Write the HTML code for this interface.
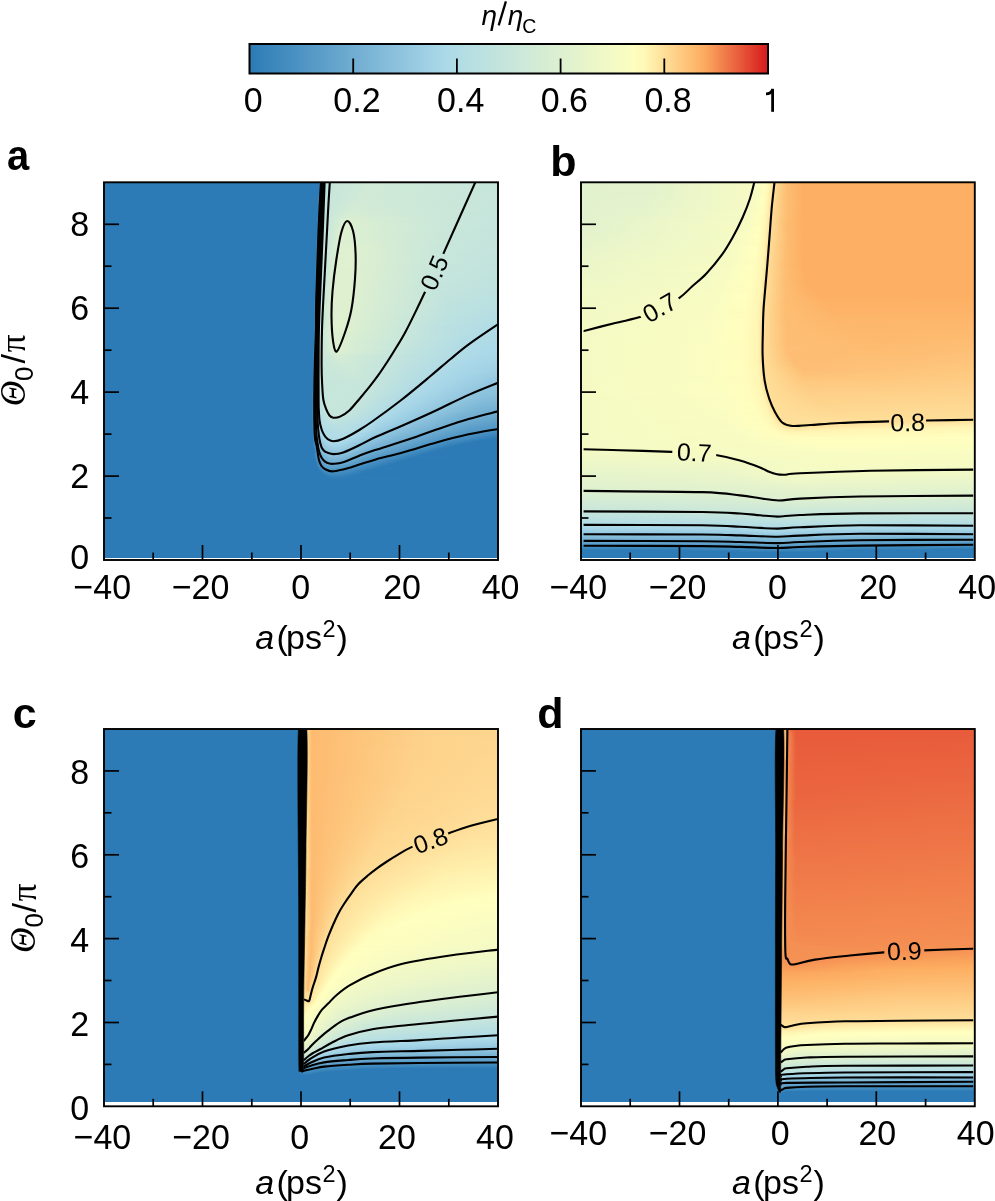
<!DOCTYPE html>
<html><head><meta charset="utf-8"><style>
html,body{margin:0;padding:0;background:#fff;width:995px;height:1201px;overflow:hidden;position:relative}
svg{display:block;position:absolute;left:0;top:0;will-change:transform}
.fld{position:absolute;overflow:hidden}
.fld i{display:block;height:1px}
svg{font-family:"Liberation Sans",sans-serif;font-size:34px;fill:#000}
</style></head><body>
<div class="fld" style="left:104px;top:183px;width:394px;height:375px"><i style="background:linear-gradient(90deg,#2c7bb6,#2c7bb6 215px,#4e94c4 216px,#64a5cd 217px,#70add1 218px,#92c6df 219px,#b1dce6 220px,#c7e6db 225px,#d0ead6 266px,#c7e6db 380px,#c7e6db)"></i><i style="background:linear-gradient(90deg,#2c7bb6,#2c7bb6 215px,#70add1 217px,#70add1 218px,#92c6df 219px,#b1dce6 220px,#c7e6db 225px,#d0ead6 266px,#c7e6db 380px,#c7e6db)"></i><i style="background:linear-gradient(90deg,#2c7bb6,#2c7bb6 215px,#70add1 217px,#7cb6d6 218px,#92c6df 219px,#b1dce6 220px,#c7e6db 225px,#d0ead6 266px,#c7e6db 380px,#c7e6db)"></i><i style="height:2px;background:linear-gradient(90deg,#2c7bb6,#2c7bb6 215px,#70add1 217px,#92c6df 219px,#b1dce6 220px,#c7e6db 225px,#d0ead6 266px,#c7e6db 380px,#c7e6db)"></i><i style="background:linear-gradient(90deg,#2c7bb6,#2c7bb6 215px,#70add1 217px,#85bdda 218px,#92c6df 219px,#b1dce6 220px,#c7e6db 225px,#d0ead6 266px,#c7e6db 380px,#c7e6db)"></i><i style="background:linear-gradient(90deg,#2c7bb6,#2c7bb6 215px,#92c6df 218px,#92c6df 219px,#b1dce6 220px,#c7e6db 225px,#d1ead6 266px,#c7e6db 380px,#c7e6db)"></i><i style="background:linear-gradient(90deg,#2c7bb6,#2c7bb6 215px,#92c6df 218px,#9ecfe4 219px,#b1dce6 220px,#c7e6db 225px,#d1ead6 266px,#c7e6db 380px,#c7e6db)"></i><i style="background:linear-gradient(90deg,#2c7bb6,#2c7bb6 215px,#92c6df 218px,#a1d2e5 219px,#b1dce6 220px,#c7e6db 225px,#d1ead6 266px,#c7e6db 380px,#c7e6db)"></i><i style="background:linear-gradient(90deg,#2c7bb6,#2c7bb6 215px,#92c6df 218px,#a2d2e5 219px,#b1dce6 220px,#c7e6db 225px,#d1ead6 262px,#c7e6db 390px,#c7e6db)"></i><i style="background:linear-gradient(90deg,#2c7bb6,#2c7bb6 215px,#92c6df 218px,#a2d3e6 219px,#b1dce6 220px,#c7e6db 225px,#d1ead6 262px,#c7e6db 390px,#c7e5db)"></i><i style="background:linear-gradient(90deg,#2c7bb6,#2c7bb6 215px,#92c6df 218px,#a3d3e6 219px,#b1dce6 220px,#c7e6db 225px,#d1ead6 262px,#c7e5db 390px,#c7e5db)"></i><i style="background:linear-gradient(90deg,#2c7bb6,#2c7bb6 214px,#3984bb 215px,#4e94c4 216px,#92c6df 218px,#a3d3e6 219px,#b1dce6 220px,#c7e6db 224px,#d1ead6 261px,#c7e5db 389px,#c7e5db)"></i><i style="background:linear-gradient(90deg,#2c7bb6,#2c7bb6 214px,#4e94c4 216px,#92c6df 218px,#a3d3e6 219px,#b1dce6 220px,#c7e6db 224px,#d1ead6 261px,#c7e5db 389px,#c7e5db)"></i><i style="background:linear-gradient(90deg,#2c7bb6,#2c7bb6 214px,#418bbe 215px,#4e94c4 216px,#92c6df 218px,#a4d4e6 219px,#b1dce6 220px,#c7e6db 224px,#d1ead6 261px,#c7e5db 389px,#c7e5db)"></i><i style="background:linear-gradient(90deg,#2c7bb6,#2c7bb6 214px,#4e94c4 215px,#4e94c4 216px,#92c6df 218px,#a7d6e7 219px,#bce1e0 222px,#c7e6db 224px,#d1ead6 261px,#c7e5db 389px,#c7e5db)"></i><i style="background:linear-gradient(90deg,#2c7bb6,#2c7bb6 214px,#4e94c4 215px,#5a9dc9 216px,#70add1 217px,#92c6df 218px,#b1dce6 219px,#c7e6db 224px,#d1ead6 257px,#c7e5db 385px,#c7e5db)"></i><i style="background:linear-gradient(90deg,#2c7bb6,#2c7bb6 214px,#4e94c4 215px,#70add1 217px,#92c6df 218px,#b1dce6 219px,#c7e6db 224px,#d1ead6 257px,#c7e5db 385px,#c7e5db)"></i><i style="background:linear-gradient(90deg,#2c7bb6,#2c7bb6 214px,#4e94c4 215px,#70add1 217px,#92c6df 218px,#b1dce6 219px,#c7e6db 224px,#d2ead6 257px,#c7e5db 385px,#c7e5db)"></i><i style="height:2px;background:linear-gradient(90deg,#2c7bb6,#2c7bb6 214px,#4e94c4 215px,#70add1 217px,#92c6df 218px,#b1dce6 219px,#c7e6db 224px,#d2ebd6 254px,#c7e5db 382px,#c6e5db)"></i><i style="background:linear-gradient(90deg,#2c7bb6,#2c7bb6 214px,#4e94c4 215px,#70add1 217px,#92c6df 218px,#b1dce6 219px,#c7e6db 224px,#d2ebd5 254px,#c7e5db 382px,#c6e5db)"></i><i style="background:linear-gradient(90deg,#2c7bb6,#2c7bb6 214px,#4e94c4 215px,#63a4cc 216px,#70add1 217px,#92c6df 218px,#b1dce6 219px,#c7e6db 224px,#d2ebd5 251px,#c7e5db 379px,#c6e5db)"></i><i style="background:linear-gradient(90deg,#2c7bb6,#2c7bb6 214px,#70add1 216px,#70add1 217px,#92c6df 218px,#b1dce6 219px,#c7e6db 224px,#d3ebd5 251px,#c7e5db 379px,#c6e5db)"></i><i style="background:linear-gradient(90deg,#2c7bb6,#2c7bb6 214px,#70add1 216px,#7cb6d6 217px,#92c6df 218px,#b1dce6 219px,#c7e6db 224px,#d3ebd5 251px,#c6e5db 379px,#c6e5db)"></i><i style="height:2px;background:linear-gradient(90deg,#2c7bb6,#2c7bb6 214px,#70add1 216px,#92c6df 218px,#b1dce6 219px,#c7e6db 224px,#d3ebd5 248px,#c6e5db 392px,#c6e5db)"></i><i style="background:linear-gradient(90deg,#2c7bb6,#2c7bb6 214px,#70add1 216px,#92c6df 218px,#b1dce6 219px,#c7e6db 224px,#d4ecd5 248px,#c6e5db 392px,#c6e5db)"></i><i style="background:linear-gradient(90deg,#2c7bb6,#2c7bb6 214px,#70add1 216px,#92c6df 218px,#b1dce6 219px,#c7e6db 224px,#d4ecd4 246px,#c6e5db 390px,#c6e5db)"></i><i style="background:linear-gradient(90deg,#2c7bb6,#2c7bb6 214px,#70add1 216px,#92c6df 218px,#b1dce6 219px,#c7e6db 223px,#d5ecd4 247px,#c6e5db 375px,#c6e5db)"></i><i style="background:linear-gradient(90deg,#2c7bb6,#2c7bb6 214px,#70add1 216px,#92c6df 218px,#b1dce6 219px,#c7e6db 223px,#d5ecd4 245px,#c6e5db 373px,#c6e5db)"></i><i style="background:linear-gradient(90deg,#2c7bb6,#2c7bb6 214px,#70add1 216px,#85bdda 217px,#92c6df 218px,#b1dce6 219px,#c7e6db 223px,#d6ecd4 245px,#c6e5db 373px,#c6e5db)"></i><i style="background:linear-gradient(90deg,#2c7bb6,#2c7bb6 214px,#92c6df 217px,#92c6df 218px,#b1dce6 219px,#c7e6db 223px,#d7edd3 245px,#c6e5db 373px,#c6e5db)"></i><i style="background:linear-gradient(90deg,#2c7bb6,#2c7bb6 214px,#92c6df 217px,#9ecfe4 218px,#b1dce6 219px,#c7e6db 223px,#d8edd3 245px,#c6e5db 373px,#c6e5db)"></i><i style="background:linear-gradient(90deg,#2c7bb6,#2c7bb6 213px,#3a85bb 214px,#4e94c4 215px,#92c6df 217px,#a1d2e5 218px,#b1dce6 219px,#c7e6db 223px,#d8eed2 243px,#c6e5db 371px,#c6e5db)"></i><i style="background:linear-gradient(90deg,#2c7bb6,#2c7bb6 213px,#408abe 214px,#4e94c4 215px,#92c6df 217px,#a2d2e5 218px,#b1dce6 219px,#c7e6db 223px,#daeed2 243px,#c6e5db 371px,#c6e5dc)"></i><i style="background:linear-gradient(90deg,#2c7bb6,#2c7bb6 213px,#4e94c4 214px,#4e94c4 215px,#92c6df 217px,#a2d3e6 218px,#b1dce6 219px,#c7e6db 223px,#dbefd1 243px,#c7e6db 357px,#c6e5dc 390px,#c6e5dc)"></i><i style="background:linear-gradient(90deg,#2c7bb6,#2c7bb6 213px,#4e94c4 214px,#5a9dc9 215px,#70add1 216px,#92c6df 217px,#a3d3e6 218px,#b1dce6 219px,#c7e6db 223px,#ddf0d0 243px,#d1ead6 289px,#c6e5db 380px,#c6e5dc)"></i><i style="background:linear-gradient(90deg,#2c7bb6,#2c7bb6 213px,#4e94c4 214px,#70add1 216px,#92c6df 217px,#a3d3e6 218px,#b1dce6 219px,#c7e6db 223px,#ddf0d0 243px,#cfe9d7 300px,#c6e5dc 381px,#c6e5dc)"></i><i style="background:linear-gradient(90deg,#2c7bb6,#2c7bb6 213px,#4e94c4 214px,#70add1 216px,#92c6df 217px,#a3d3e6 218px,#b1dce6 219px,#c7e6db 223px,#ddf0d0 241px,#cbe8d9 322px,#c6e5dc 386px,#c6e5dc)"></i><i style="height:2px;background:linear-gradient(90deg,#2c7bb6,#2c7bb6 213px,#4e94c4 214px,#70add1 216px,#92c6df 217px,#a3d3e6 218px,#b1dce6 219px,#c7e6db 223px,#ddf0d0 241px,#cae7da 332px,#c6e5dc 389px,#c6e5dc)"></i><i style="background:linear-gradient(90deg,#2c7bb6,#2c7bb6 213px,#4e94c4 214px,#70add1 216px,#92c6df 217px,#a4d4e6 218px,#b1dce6 219px,#c7e6db 223px,#ddf0d0 241px,#c8e6da 343px,#c6e5dc 389px,#c6e5dc)"></i><i style="background:linear-gradient(90deg,#2c7bb6,#2c7bb6 213px,#4e94c4 214px,#70add1 216px,#92c6df 217px,#a7d6e7 218px,#bde1e0 221px,#c7e6db 223px,#ddf0d0 239px,#c7e6db 353px,#c6e5dc 390px,#c6e5dc)"></i><i style="background:linear-gradient(90deg,#2c7bb6,#2c7bb6 213px,#4e94c4 214px,#70add1 216px,#92c6df 217px,#b1dce6 218px,#c8e6da 224px,#ddf0d0 239px,#c7e6db 353px,#c6e5dc 390px,#c6e5dc)"></i><i style="background:linear-gradient(90deg,#2c7bb6,#2c7bb6 213px,#4e94c4 214px,#70add1 216px,#92c6df 217px,#b1dce6 218px,#c9e6da 224px,#ddf0d0 239px,#c7e6db 353px,#c6e5dc 390px,#c6e5dc)"></i><i style="background:linear-gradient(90deg,#2c7bb6,#2c7bb6 213px,#4e94c4 214px,#63a4cc 215px,#70add1 216px,#92c6df 217px,#b1dce6 218px,#c9e6da 224px,#ddf0d0 239px,#c7e6db 353px,#c5e5dc 390px,#c5e5dc)"></i><i style="background:linear-gradient(90deg,#2c7bb6,#2c7bb6 213px,#70add1 215px,#70add1 216px,#92c6df 217px,#b1dce6 218px,#c7e6db 223px,#ddf0d0 238px,#d9eed2 260px,#c6e5db 362px,#c5e5dc 392px,#c5e5dc)"></i><i style="background:linear-gradient(90deg,#2c7bb6,#2c7bb6 213px,#70add1 215px,#7cb6d6 216px,#92c6df 217px,#b1dce6 218px,#c7e6db 222px,#ddf0d0 238px,#d8edd2 262px,#c6e5db 364px,#c5e5dc 391px,#c5e5dc)"></i><i style="background:linear-gradient(90deg,#2c7bb6,#2c7bb6 213px,#70add1 215px,#92c6df 217px,#b1dce6 218px,#c7e6db 222px,#ddf0d0 238px,#d7edd3 265px,#c6e5db 356px,#c5e5dc)"></i><i style="background:linear-gradient(90deg,#2c7bb6,#2c7bb6 213px,#70add1 215px,#92c6df 217px,#b1dce6 218px,#c7e6db 222px,#ddf0d0 237px,#d9eed2 261px,#c7e6db 352px,#c5e5dc)"></i><i style="background:linear-gradient(90deg,#2c7bb6,#2c7bb6 213px,#70add1 215px,#92c6df 217px,#b1dce6 218px,#c7e6db 222px,#ddf0d0 237px,#d8edd3 264px,#c6e5db 355px,#c5e5dc 392px,#c5e5dc)"></i><i style="background:linear-gradient(90deg,#2c7bb6,#2c7bb6 213px,#70add1 215px,#92c6df 217px,#b1dce6 218px,#c7e6db 222px,#ddf0d0 237px,#d9eed2 261px,#c7e6db 352px,#c5e5dc)"></i><i style="background:linear-gradient(90deg,#2c7bb6,#2c7bb6 213px,#70add1 215px,#92c6df 217px,#b1dce6 218px,#c7e6db 222px,#ddf0d0 237px,#d9eed2 261px,#c7e5db 352px,#c5e5dc)"></i><i style="background:linear-gradient(90deg,#2c7bb6,#2c7bb6 213px,#70add1 215px,#92c6df 217px,#b1dce6 218px,#c7e6db 222px,#def0d0 237px,#d8edd2 264px,#c6e5db 355px,#c5e5dc 392px,#c5e5dc)"></i><i style="background:linear-gradient(90deg,#2c7bb6,#2c7bb6 213px,#70add1 215px,#92c6df 217px,#b1dce6 218px,#c7e6db 222px,#ddf0d0 236px,#d9eed2 263px,#c6e5db 354px,#c5e5dc 391px,#c5e5dc)"></i><i style="background:linear-gradient(90deg,#2c7bb6,#2c7bb6 213px,#70add1 215px,#85bdda 216px,#92c6df 217px,#b1dce6 218px,#c7e6db 222px,#def0d0 236px,#d9eed2 263px,#c6e5db 354px,#c5e5dc 391px,#c5e5dc)"></i><i style="background:linear-gradient(90deg,#2c7bb6,#2c7bb6 212px,#3884bb 213px,#4e94c4 214px,#92c6df 216px,#92c6df 217px,#b1dce6 218px,#c7e6db 222px,#def0d0 236px,#d9eed2 263px,#c6e5db 354px,#c5e5dc 391px,#c5e5dc)"></i><i style="background:linear-gradient(90deg,#2c7bb6,#2c7bb6 212px,#4e94c4 214px,#92c6df 216px,#9ecfe4 217px,#b1dce6 218px,#c7e6db 222px,#def0d0 236px,#d8edd3 266px,#c6e5dc 357px,#c5e5dc 390px,#c5e5dc)"></i><i style="background:linear-gradient(90deg,#2c7bb6,#2c7bb6 212px,#4e94c4 214px,#92c6df 216px,#a1d2e5 217px,#b1dce6 218px,#c7e6db 222px,#def0d0 236px,#d8edd3 266px,#c6e5dc 357px,#c5e5dc 390px,#c5e5dc)"></i><i style="background:linear-gradient(90deg,#2c7bb6,#2c7bb6 212px,#4e94c4 214px,#92c6df 216px,#a2d2e5 217px,#b1dce6 218px,#c7e6db 222px,#ddf0d0 235px,#dbefd1 257px,#c7e5db 348px,#c4e5dc 389px,#c4e5dc)"></i><i style="background:linear-gradient(90deg,#2c7bb6,#2c7bb6 212px,#418bbf 213px,#4e94c4 214px,#92c6df 216px,#a2d3e6 217px,#b1dce6 218px,#c7e6db 222px,#def0d0 235px,#ddefd0 253px,#c7e6db 344px,#c4e4dc 390px,#c4e4dc)"></i><i style="background:linear-gradient(90deg,#2c7bb6,#2c7bb6 212px,#4e94c4 213px,#4e94c4 214px,#92c6df 216px,#a3d3e6 217px,#b1dce6 218px,#c7e6db 222px,#def0d0 235px,#dff0cf 245px,#c8e6da 336px,#c4e4dc)"></i><i style="background:linear-gradient(90deg,#2c7bb6,#2c7bb6 212px,#4e94c4 213px,#5a9dc9 214px,#70add1 215px,#92c6df 216px,#a3d3e6 217px,#b1dce6 218px,#c7e6db 222px,#def0d0 235px,#dff0cf 246px,#c8e6db 337px,#c4e4dc 388px,#c4e4dc)"></i><i style="background:linear-gradient(90deg,#2c7bb6,#2c7bb6 212px,#4e94c4 213px,#70add1 215px,#92c6df 216px,#a3d3e6 217px,#b1dce6 218px,#c7e6db 222px,#def0d0 235px,#dff0cf 246px,#c8e6db 337px,#c4e4dc 388px,#c4e4dc)"></i><i style="background:linear-gradient(90deg,#2c7bb6,#2c7bb6 212px,#4e94c4 213px,#70add1 215px,#92c6df 216px,#a4d4e6 217px,#b1dce6 218px,#c7e6db 222px,#def0d0 235px,#dff0cf 246px,#c8e6db 337px,#c4e4dc 388px,#c4e4dd)"></i><i style="background:linear-gradient(90deg,#2c7bb6,#2c7bb6 212px,#4e94c4 213px,#70add1 215px,#92c6df 216px,#a7d6e7 217px,#c3e4dd 221px,#def0d0 234px,#dff0cf 246px,#c8e6db 337px,#c4e4dd 388px,#c4e4dd)"></i><i style="background:linear-gradient(90deg,#2c7bb6,#2c7bb6 212px,#4e94c4 213px,#70add1 215px,#92c6df 216px,#b1dce6 217px,#b1dce6 218px,#c7e6db 221px,#def0d0 234px,#dff1cf 246px,#c8e6db 337px,#c4e4dd 388px,#c4e4dd)"></i><i style="background:linear-gradient(90deg,#2c7bb6,#2c7bb6 212px,#4e94c4 213px,#70add1 215px,#92c6df 216px,#b1dce6 217px,#c7e6db 221px,#def0d0 234px,#dff1cf 246px,#c7e6db 337px,#c4e4dd 388px,#c4e4dd)"></i><i style="background:linear-gradient(90deg,#2c7bb6,#2c7bb6 212px,#4e94c4 213px,#70add1 215px,#92c6df 216px,#b1dce6 217px,#c7e6db 221px,#def0d0 234px,#dff0cf 247px,#c7e6db 338px,#c4e4dd 389px,#c4e4dd)"></i><i style="background:linear-gradient(90deg,#2c7bb6,#2c7bb6 212px,#4e94c4 213px,#70add1 215px,#92c6df 216px,#b1dce6 217px,#c7e6db 221px,#def0d0 234px,#dff0cf 247px,#c7e6db 338px,#c4e4dd 389px,#c3e4dd)"></i><i style="background:linear-gradient(90deg,#2c7bb6,#2c7bb6 212px,#4e94c4 213px,#70add1 215px,#92c6df 216px,#b1dce6 217px,#c7e6db 221px,#def0d0 234px,#dff0cf 247px,#c7e6db 338px,#c3e4dd 389px,#c3e4dd)"></i><i style="background:linear-gradient(90deg,#2c7bb6,#2c7bb6 212px,#4e94c4 213px,#63a4cc 214px,#70add1 215px,#92c6df 216px,#b1dce6 217px,#c7e6db 221px,#ddf0d0 233px,#dff1cf 246px,#c7e6db 337px,#c3e4dd 388px,#c3e4dd)"></i><i style="background:linear-gradient(90deg,#2c7bb6,#2c7bb6 212px,#70add1 214px,#70add1 215px,#92c6df 216px,#b1dce6 217px,#c7e6db 221px,#def0d0 233px,#dff1cf 246px,#c7e6db 337px,#c3e4dd 388px,#c3e4dd)"></i><i style="background:linear-gradient(90deg,#2c7bb6,#2c7bb6 212px,#70add1 214px,#7cb6d6 215px,#92c6df 216px,#b1dce6 217px,#c7e6db 221px,#def0d0 233px,#dff0cf 247px,#c7e6db 338px,#c3e4dd 389px,#c3e4dd)"></i><i style="background:linear-gradient(90deg,#2c7bb6,#2c7bb6 212px,#70add1 214px,#92c6df 216px,#b1dce6 217px,#c7e6db 221px,#def0d0 233px,#dff0cf 247px,#c7e6db 338px,#c3e4dd 389px,#c3e4dd)"></i><i style="height:2px;background:linear-gradient(90deg,#2c7bb6,#2c7bb6 212px,#70add1 214px,#92c6df 216px,#b1dce6 217px,#c7e6db 221px,#def0d0 233px,#dff1cf 246px,#c7e6db 337px,#c3e4dd 388px,#c3e4dd)"></i><i style="background:linear-gradient(90deg,#2c7bb6,#2c7bb6 212px,#70add1 214px,#92c6df 216px,#b1dce6 217px,#c7e6db 221px,#def0d0 233px,#dff0cf 247px,#c7e6db 338px,#c3e4dd 389px,#c3e4dd)"></i><i style="height:2px;background:linear-gradient(90deg,#2c7bb6,#2c7bb6 212px,#70add1 214px,#92c6df 216px,#b1dce6 217px,#c7e6db 221px,#def0d0 232px,#dff1cf 246px,#c7e6db 337px,#c2e4dd 388px,#c2e4dd)"></i><i style="background:linear-gradient(90deg,#2c7bb6,#2c7bb6 212px,#70add1 214px,#85bdda 215px,#92c6df 216px,#b1dce6 217px,#c7e6db 221px,#def0d0 232px,#dff1cf 246px,#c7e5db 337px,#c2e3dd 388px,#c2e3dd)"></i><i style="background:linear-gradient(90deg,#2c7bb6,#2c7bb6 211px,#3884bb 212px,#4e94c4 213px,#92c6df 215px,#9ecfe4 216px,#b1dce6 217px,#c7e6db 221px,#def0d0 232px,#dff1cf 246px,#c6e5db 337px,#c2e3dd 388px,#c2e3de)"></i><i style="background:linear-gradient(90deg,#2c7bb6,#2c7bb6 211px,#4e94c4 213px,#92c6df 215px,#a1d2e5 216px,#b1dce6 217px,#c7e6db 221px,#def0d0 232px,#dff0cf 246px,#c6e5db 337px,#c2e3de 388px,#c2e3de)"></i><i style="background:linear-gradient(90deg,#2c7bb6,#2c7bb6 211px,#4e94c4 213px,#92c6df 215px,#a2d2e5 216px,#b1dce6 217px,#c7e6db 221px,#def0d0 232px,#dff0cf 246px,#c6e5db 337px,#c2e3de 388px,#c2e3de)"></i><i style="background:linear-gradient(90deg,#2c7bb6,#2c7bb6 211px,#4e94c4 213px,#92c6df 215px,#a2d3e6 216px,#b1dce6 217px,#c7e6db 220px,#def0d0 232px,#dff0cf 246px,#c6e5db 337px,#c2e3de 388px,#c2e3de)"></i><i style="background:linear-gradient(90deg,#2c7bb6,#2c7bb6 211px,#4e94c4 213px,#92c6df 215px,#a3d3e6 216px,#b1dce6 217px,#c7e6db 220px,#ddf0d0 231px,#dff0cf 246px,#c6e5db 337px,#c1e3de 388px,#c1e3de)"></i><i style="background:linear-gradient(90deg,#2c7bb6,#2c7bb6 211px,#4e94c4 213px,#92c6df 215px,#a3d3e6 216px,#b1dce6 217px,#c7e6db 220px,#def0d0 231px,#dff0cf 246px,#c6e5db 337px,#c1e3de 388px,#c1e3de)"></i><i style="background:linear-gradient(90deg,#2c7bb6,#2c7bb6 211px,#4e94c4 213px,#92c6df 215px,#a4d4e6 216px,#b1dce6 217px,#c7e6db 220px,#def0d0 231px,#dff0cf 246px,#c6e5dc 337px,#c1e3de 388px,#c1e3de)"></i><i style="background:linear-gradient(90deg,#2c7bb6,#2c7bb6 211px,#4e94c4 213px,#92c6df 215px,#a7d6e7 216px,#c7e6db 220px,#def0d0 231px,#dff0cf 246px,#c6e5dc 337px,#c1e3de 388px,#c1e3de)"></i><i style="background:linear-gradient(90deg,#2c7bb6,#2c7bb6 211px,#4e94c4 213px,#92c6df 215px,#b1dce6 216px,#b1dce6 217px,#c7e6db 220px,#def0d0 231px,#dff0cf 246px,#c6e5dc 337px,#c1e3de 388px,#c1e3de)"></i><i style="background:linear-gradient(90deg,#2c7bb6,#2c7bb6 211px,#418bbf 212px,#4e94c4 213px,#92c6df 215px,#b1dce6 216px,#c7e6db 220px,#def0d0 231px,#dff0cf 246px,#c6e5dc 337px,#c1e3de 388px,#c1e3de)"></i><i style="background:linear-gradient(90deg,#2c7bb6,#2c7bb6 211px,#4e94c4 212px,#5a9dc9 213px,#70add1 214px,#92c6df 215px,#b1dce6 216px,#c7e6db 220px,#def0d0 231px,#dff0cf 246px,#c6e5dc 337px,#c0e3de 388px,#c0e3de)"></i><i style="background:linear-gradient(90deg,#2c7bb6,#2c7bb6 211px,#4e94c4 212px,#70add1 214px,#92c6df 215px,#b1dce6 216px,#c7e6db 220px,#def0d0 231px,#dff0cf 246px,#c5e5dc 337px,#c0e3de 388px,#c0e3de)"></i><i style="background:linear-gradient(90deg,#2c7bb6,#2c7bb6 211px,#4e94c4 212px,#70add1 214px,#92c6df 215px,#b1dce6 216px,#c7e6db 220px,#def0d0 230px,#dff0cf 246px,#c5e5dc 337px,#c0e3de 388px,#c0e3de)"></i><i style="height:2px;background:linear-gradient(90deg,#2c7bb6,#2c7bb6 211px,#4e94c4 212px,#70add1 214px,#92c6df 215px,#b1dce6 216px,#c7e6db 220px,#def0d0 230px,#dff0cf 246px,#c5e5dc 337px,#c0e2df 388px,#c0e2df)"></i><i style="background:linear-gradient(90deg,#2c7bb6,#2c7bb6 211px,#4e94c4 212px,#70add1 214px,#92c6df 215px,#b1dce6 216px,#cae7da 221px,#def0d0 230px,#dff0cf 246px,#c5e5dc 337px,#c0e2df 388px,#c0e2df)"></i><i style="background:linear-gradient(90deg,#2c7bb6,#2c7bb6 211px,#4e94c4 212px,#70add1 214px,#92c6df 215px,#b1dce6 216px,#cae7da 221px,#def0d0 230px,#dff0cf 246px,#c5e5dc 337px,#bfe2df 388px,#bfe2df)"></i><i style="background:linear-gradient(90deg,#2c7bb6,#2c7bb6 211px,#4e94c4 212px,#63a4cc 213px,#70add1 214px,#92c6df 215px,#b1dce6 216px,#cae7da 221px,#def0d0 230px,#dff0cf 246px,#c5e5dc 337px,#bfe2df 388px,#bfe2df)"></i><i style="background:linear-gradient(90deg,#2c7bb6,#2c7bb6 211px,#70add1 213px,#70add1 214px,#92c6df 215px,#b1dce6 216px,#cae7da 221px,#def0d0 230px,#dff0cf 246px,#c5e5dc 337px,#bfe2df 388px,#bfe2df)"></i><i style="background:linear-gradient(90deg,#2c7bb6,#2c7bb6 211px,#70add1 213px,#7cb6d6 214px,#92c6df 215px,#b1dce6 216px,#c7e6db 220px,#def0d0 230px,#dff0cf 246px,#c4e5dc 337px,#bfe2df 388px,#bfe2df)"></i><i style="background:linear-gradient(90deg,#2c7bb6,#2c7bb6 211px,#70add1 213px,#92c6df 215px,#b1dce6 216px,#c7e6db 220px,#ddf0d0 229px,#dff1cf 245px,#c4e5dc 336px,#bfe2df)"></i><i style="height:2px;background:linear-gradient(90deg,#2c7bb6,#2c7bb6 211px,#70add1 213px,#92c6df 215px,#b1dce6 216px,#c7e6db 219px,#def0d0 229px,#dff0cf 245px,#c4e4dc 336px,#bee2df)"></i><i style="background:linear-gradient(90deg,#2c7bb6,#2c7bb6 211px,#70add1 213px,#92c6df 215px,#b1dce6 216px,#c7e6db 219px,#def0d0 229px,#dff0cf 245px,#c4e4dc 336px,#bee2e0)"></i><i style="background:linear-gradient(90deg,#2c7bb6,#2c7bb6 211px,#70add1 213px,#85bdda 214px,#92c6df 215px,#b1dce6 216px,#c7e6db 219px,#def0d0 229px,#dff0cf 245px,#c4e4dd 336px,#bee1e0)"></i><i style="background:linear-gradient(90deg,#2c7bb6,#2c7bb6 211px,#92c6df 214px,#92c6df 215px,#b1dce6 216px,#c7e6db 219px,#def0d0 229px,#dff0cf 245px,#c4e4dd 336px,#bde1e0)"></i><i style="background:linear-gradient(90deg,#2c7bb6,#2c7bb6 211px,#92c6df 214px,#9ecfe4 215px,#b1dce6 216px,#c7e6db 219px,#def0d0 229px,#dff0cf 245px,#c4e4dd 336px,#bde1e0)"></i><i style="background:linear-gradient(90deg,#2c7bb6,#2c7bb6 211px,#92c6df 214px,#a1d2e5 215px,#b1dce6 216px,#c7e6db 219px,#def0d0 229px,#dff0cf 245px,#c4e4dd 336px,#bde1e0)"></i><i style="background:linear-gradient(90deg,#2c7bb6,#2c7bb6 211px,#92c6df 214px,#a3d3e6 215px,#b1dce6 216px,#c7e6db 219px,#def0d0 229px,#dff0cf 245px,#c3e4dd 336px,#bde1e0)"></i><i style="background:linear-gradient(90deg,#2c7bb6,#2c7bb6 211px,#92c6df 214px,#a4d4e6 215px,#b1dce6 216px,#c7e6db 219px,#def0d0 229px,#dff0cf 245px,#c3e4dd 336px,#bce1e0)"></i><i style="background:linear-gradient(90deg,#2c7bb6,#2c7bb6 211px,#92c6df 214px,#a7d6e7 215px,#c7e6db 219px,#def0d0 229px,#dff1cf 244px,#c1e3de 346px,#bce1e0 392px,#bce1e0)"></i><i style="background:linear-gradient(90deg,#2c7bb6,#2c7bb6 211px,#92c6df 214px,#b1dce6 215px,#b1dce6 216px,#c7e6db 219px,#ddf0d0 228px,#dff0cf 244px,#c1e3de 346px,#bce1e1 392px,#bce1e1)"></i><i style="background:linear-gradient(90deg,#2c7bb6,#2c7bb6 210px,#3884bb 211px,#4e94c4 212px,#92c6df 214px,#b1dce6 215px,#cae7da 220px,#ddf0d0 228px,#dff0cf 244px,#c1e3de 346px,#bce1e1 392px,#bce1e1)"></i><i style="background:linear-gradient(90deg,#2c7bb6,#2c7bb6 210px,#4e94c4 212px,#92c6df 214px,#b1dce6 215px,#cae7da 220px,#def0d0 228px,#dff0cf 244px,#c1e3de 346px,#bbe0e1 392px,#bbe0e1)"></i><i style="height:2px;background:linear-gradient(90deg,#2c7bb6,#2c7bb6 210px,#4e94c4 212px,#92c6df 214px,#b1dce6 215px,#cae7da 220px,#def0d0 228px,#dff0cf 244px,#c0e3de 346px,#bbe0e1 392px,#bbe0e1)"></i><i style="background:linear-gradient(90deg,#2c7bb6,#2c7bb6 210px,#4e94c4 212px,#92c6df 214px,#b1dce6 215px,#cae7da 220px,#def0d0 228px,#dff0cf 244px,#c0e2df 346px,#bbe0e1 392px,#bbe0e1)"></i><i style="background:linear-gradient(90deg,#2c7bb6,#2c7bb6 210px,#4e94c4 212px,#92c6df 214px,#b1dce6 215px,#cae7da 220px,#def0d0 228px,#dff0cf 244px,#c0e2df 346px,#bae0e1 392px,#bae0e1)"></i><i style="background:linear-gradient(90deg,#2c7bb6,#2c7bb6 210px,#4e94c4 212px,#92c6df 214px,#b1dce6 215px,#cae7da 220px,#def0d0 228px,#dff0cf 244px,#c0e2df 346px,#bae0e2 392px,#bae0e2)"></i><i style="background:linear-gradient(90deg,#2c7bb6,#2c7bb6 210px,#4e94c4 212px,#92c6df 214px,#b1dce6 215px,#c7e6db 219px,#def0d0 228px,#dff0cf 243px,#c0e2df 345px,#bae0e2 391px,#bae0e2)"></i><i style="background:linear-gradient(90deg,#2c7bb6,#2c7bb6 210px,#4e94c4 212px,#92c6df 214px,#b1dce6 215px,#c7e6db 218px,#def0d0 228px,#dff0cf 243px,#bfe2df 345px,#b9e0e2 391px,#b9dfe2)"></i><i style="height:2px;background:linear-gradient(90deg,#2c7bb6,#2c7bb6 210px,#4e94c4 212px,#92c6df 214px,#b1dce6 215px,#c7e6db 218px,#def0d0 228px,#dff0cf 243px,#bfe2df 345px,#b9dfe2 391px,#b9dfe2)"></i><i style="background:linear-gradient(90deg,#2c7bb6,#2c7bb6 210px,#4e94c4 212px,#92c6df 214px,#b1dce6 215px,#c7e6db 218px,#def0d0 228px,#dff0cf 243px,#bfe2df 345px,#b8dfe2 391px,#b8dfe2)"></i><i style="background:linear-gradient(90deg,#2c7bb6,#2c7bb6 210px,#4e94c4 212px,#92c6df 214px,#b1dce6 215px,#c7e6db 218px,#def0d0 228px,#dff0cf 243px,#bee2df 345px,#b8dfe2 391px,#b8dfe2)"></i><i style="background:linear-gradient(90deg,#2c7bb6,#2c7bb6 210px,#4e94c4 212px,#92c6df 214px,#b1dce6 215px,#c7e6db 218px,#def0d0 228px,#dff0cf 242px,#bee2df 344px,#b8dfe3 390px,#b8dfe3)"></i><i style="background:linear-gradient(90deg,#2c7bb6,#2c7bb6 210px,#4e94c4 212px,#92c6df 214px,#b1dce6 215px,#c7e6db 218px,#def0d0 228px,#dff0cf 242px,#bee2df 344px,#b7dfe3 390px,#b7dfe3)"></i><i style="background:linear-gradient(90deg,#2c7bb6,#2c7bb6 210px,#4e94c4 212px,#92c6df 214px,#b1dce6 215px,#c7e6db 218px,#def0d0 228px,#dff0cf 242px,#bee2df 344px,#b7dee3 390px,#b7dee3)"></i><i style="background:linear-gradient(90deg,#2c7bb6,#2c7bb6 210px,#4e94c4 212px,#92c6df 214px,#b1dce6 215px,#c7e6db 218px,#def0d0 228px,#dff0cf 242px,#bee2e0 344px,#b7dee3 390px,#b7dee3)"></i><i style="background:linear-gradient(90deg,#2c7bb6,#2c7bb6 210px,#4e94c4 212px,#92c6df 214px,#b1dce6 215px,#c7e6db 218px,#def0d0 228px,#dff0cf 242px,#bee1e0 344px,#b6dee3 390px,#b6dee3)"></i><i style="background:linear-gradient(90deg,#2c7bb6,#2c7bb6 210px,#4e94c4 212px,#92c6df 214px,#b1dce6 215px,#c7e6db 218px,#def0d0 228px,#dff1cf 241px,#bee1e0 343px,#b6dee4 389px,#b6dee4)"></i><i style="background:linear-gradient(90deg,#2c7bb6,#2c7bb6 210px,#4e94c4 212px,#92c6df 214px,#b1dce6 215px,#c7e6db 218px,#def0d0 228px,#dff0cf 241px,#bde1e0 343px,#b5dee4 389px,#b5dee4)"></i><i style="background:linear-gradient(90deg,#2c7bb6,#2c7bb6 210px,#4e94c4 212px,#92c6df 214px,#b1dce6 215px,#c7e6db 218px,#def0d0 228px,#dff0cf 241px,#bde1e0 343px,#b5dee4 389px,#b5dde4)"></i><i style="background:linear-gradient(90deg,#2c7bb6,#2c7bb6 210px,#4e94c4 212px,#92c6df 214px,#b1dce6 215px,#c7e6db 218px,#def0d0 228px,#dff0cf 241px,#bde1e0 343px,#b5dde4 389px,#b4dde4)"></i><i style="background:linear-gradient(90deg,#2c7bb6,#2c7bb6 210px,#4e94c4 212px,#92c6df 214px,#b1dce6 215px,#c7e6db 218px,#def0d0 228px,#dff0cf 241px,#bde1e0 343px,#b4dde4 389px,#b4dde5)"></i><i style="background:linear-gradient(90deg,#2c7bb6,#2c7bb6 210px,#4e94c4 212px,#92c6df 214px,#b1dce6 215px,#c7e6db 218px,#def0d0 228px,#dff1cf 240px,#bde1e0 342px,#b3dde5)"></i><i style="background:linear-gradient(90deg,#2c7bb6,#2c7bb6 210px,#4e94c4 212px,#92c6df 214px,#b1dce6 215px,#c7e6db 218px,#def0d0 228px,#dff0cf 240px,#bce1e0 342px,#b3dde5)"></i><i style="background:linear-gradient(90deg,#2c7bb6,#2c7bb6 210px,#4e94c4 212px,#92c6df 214px,#b1dce6 215px,#c7e6db 218px,#def0d0 228px,#dff0cf 240px,#bce1e0 342px,#b2dce5)"></i><i style="background:linear-gradient(90deg,#2c7bb6,#2c7bb6 210px,#418abe 211px,#4e94c4 212px,#70add1 213px,#b1dce6 214px,#b1dce6 215px,#c7e6db 218px,#def0d0 228px,#dff0cf 240px,#bce1e1 342px,#b1dce6)"></i><i style="background:linear-gradient(90deg,#2c7bb6,#2c7bb6 210px,#4a91c2 211px,#92c6df 213px,#b1dce6 214px,#c9e7da 219px,#def0d0 228px,#dff1cf 239px,#bce1e1 341px,#b1dce6 392px,#b1dce6)"></i><i style="background:linear-gradient(90deg,#2c7bb6,#2c7bb6 210px,#92c6df 213px,#b1dce6 214px,#c9e7da 219px,#def0d0 228px,#dff0cf 239px,#bce1e1 341px,#b1dce6 392px,#b1dce6)"></i><i style="background:linear-gradient(90deg,#2c7bb6,#2c7bb6 210px,#92c6df 213px,#b1dce6 214px,#c9e7da 219px,#def0d0 228px,#dff0cf 239px,#bbe0e1 341px,#b1dce6 392px,#b1dbe6)"></i><i style="background:linear-gradient(90deg,#2c7bb6,#2c7bb6 210px,#92c6df 213px,#b1dce6 214px,#c9e7da 219px,#def0d0 228px,#dff1cf 238px,#bbe0e1 340px,#b0dbe6 391px,#b0dbe6)"></i><i style="background:linear-gradient(90deg,#2c7bb6,#2c7bb6 210px,#92c6df 213px,#b1dce6 214px,#c7e6db 218px,#def0d0 228px,#dff0cf 238px,#bbe0e1 340px,#b0dbe6 391px,#b0dbe6)"></i><i style="background:linear-gradient(90deg,#2c7bb6,#2c7bb6 210px,#92c6df 213px,#b1dce6 214px,#c7e6db 218px,#ddf0d0 228px,#dff1cf 237px,#bbe0e1 339px,#b0dbe6 390px,#b0dbe6)"></i><i style="background:linear-gradient(90deg,#2c7bb6,#2c7bb6 210px,#92c6df 213px,#b1dce6 214px,#c7e6db 217px,#def0d0 229px,#dff0cf 237px,#b8dfe3 351px,#b0dbe6 392px,#b0dbe6)"></i><i style="background:linear-gradient(90deg,#2c7bb6,#2c7bb6 210px,#92c6df 213px,#b1dce6 214px,#c7e6db 217px,#def0d0 229px,#dcefd1 244px,#b6dee4 358px,#b0dbe7 391px,#b0dbe7)"></i><i style="background:linear-gradient(90deg,#2c7bb6,#2c7bb6 210px,#92c6df 213px,#b1dce6 214px,#c7e6db 217px,#def0d0 229px,#d9eed2 249px,#b5dde4 363px,#b0dbe7)"></i><i style="background:linear-gradient(90deg,#2c7bb6,#2c7bb6 210px,#92c6df 213px,#b1dce6 214px,#c7e6db 217px,#def0d0 229px,#d9eed2 249px,#b4dde4 363px,#b0dbe7)"></i><i style="background:linear-gradient(90deg,#2c7bb6,#2c7bb6 210px,#92c6df 213px,#b1dce6 214px,#c7e6db 217px,#def0d0 229px,#d9eed2 249px,#b4dde5 363px,#afdbe7)"></i><i style="background:linear-gradient(90deg,#2c7bb6,#2c7bb6 210px,#92c6df 213px,#b1dce6 214px,#c7e6db 217px,#def0d0 229px,#daeed2 247px,#b4dde4 361px,#afdbe7 391px,#afdbe7)"></i><i style="background:linear-gradient(90deg,#2c7bb6,#2c7bb6 210px,#92c6df 213px,#b1dce6 214px,#c7e6db 217px,#def0d0 229px,#d8eed2 249px,#b3dde5 363px,#afdbe7)"></i><i style="height:2px;background:linear-gradient(90deg,#2c7bb6,#2c7bb6 210px,#92c6df 213px,#b1dce6 214px,#c7e6db 217px,#ddf0d0 229px,#d9eed2 247px,#b3dde5 361px,#afdbe7 391px,#afdbe7)"></i><i style="background:linear-gradient(90deg,#2c7bb6,#2c7bb6 210px,#92c6df 213px,#b1dce6 214px,#c7e6db 217px,#ddf0d0 229px,#d9eed2 247px,#b3dde5 361px,#aedbe7 391px,#aedbe7)"></i><i style="background:linear-gradient(90deg,#2c7bb6,#2c7bb6 210px,#92c6df 213px,#b1dce6 214px,#c7e6db 217px,#ddf0d0 229px,#d9eed2 245px,#b3dde5 359px,#aedae7 392px,#aedae7)"></i><i style="background:linear-gradient(90deg,#2c7bb6,#2c7bb6 210px,#92c6df 213px,#b1dce6 214px,#c7e6db 217px,#ddf0d0 230px,#d3ebd5 260px,#b2dce6 362px,#aedae8 392px,#aedae8)"></i><i style="background:linear-gradient(90deg,#2c7bb6,#2c7bb6 210px,#92c6df 213px,#b1dce6 214px,#c7e6db 217px,#ddf0d0 230px,#d6ecd4 252px,#b1dce6 366px,#aedae8)"></i><i style="background:linear-gradient(90deg,#2c7bb6,#2c7bb6 210px,#92c6df 213px,#b1dce6 214px,#c7e6db 217px,#ddf0d0 230px,#d7edd3 248px,#b1dce6 362px,#addae8 392px,#addae8)"></i><i style="height:2px;background:linear-gradient(90deg,#2c7bb6,#2c7bb6 210px,#92c6df 213px,#b1dce6 214px,#c7e6db 217px,#ddf0d0 230px,#b2dce6 358px,#addae8 391px,#addae8)"></i><i style="background:linear-gradient(90deg,#2c7bb6,#2c7bb6 210px,#92c6df 213px,#b1dce6 214px,#c7e6db 217px,#ddf0d0 230px,#b1dce6 358px,#addae8 391px,#addae8)"></i><i style="background:linear-gradient(90deg,#2c7bb6,#2c7bb6 210px,#92c6df 213px,#b1dce6 214px,#c7e6db 217px,#ddf0d0 231px,#b1dce6 359px,#acdae8 392px,#acdae8)"></i><i style="background:linear-gradient(90deg,#2c7bb6,#2c7bb6 209px,#3884bb 210px,#4e94c4 211px,#92c6df 213px,#b1dce6 214px,#c7e6db 217px,#ddf0d0 231px,#b1dce6 359px,#acd9e9 392px,#acd9e9)"></i><i style="background:linear-gradient(90deg,#2c7bb6,#2c7bb6 209px,#4e94c4 211px,#92c6df 213px,#b1dce6 214px,#c7e6db 217px,#ddf0d0 231px,#b4dde5 345px,#acd9e9 391px,#acd9e9)"></i><i style="background:linear-gradient(90deg,#2c7bb6,#2c7bb6 209px,#4e94c4 211px,#92c6df 213px,#b1dce6 214px,#c7e6db 217px,#ddf0d0 231px,#bae0e1 322px,#abd9e9 386px,#abd9e9)"></i><i style="background:linear-gradient(90deg,#2c7bb6,#2c7bb6 209px,#4e94c4 211px,#92c6df 213px,#b1dce6 214px,#c7e6db 217px,#ddf0d0 232px,#cee9d7 265px,#aedae8 367px,#abd9e9 391px,#abd9e9)"></i><i style="background:linear-gradient(90deg,#2c7bb6,#2c7bb6 209px,#4e94c4 211px,#92c6df 213px,#b1dce6 214px,#c7e6db 217px,#dbefd1 233px,#afdbe7 361px,#aad8e9 391px,#aad8e9)"></i><i style="background:linear-gradient(90deg,#2c7bb6,#2c7bb6 209px,#4e94c4 211px,#92c6df 213px,#b1dce6 214px,#c7e6db 217px,#d9eed2 233px,#aedbe7 361px,#aad8e9 391px,#aad8e8)"></i><i style="background:linear-gradient(90deg,#2c7bb6,#2c7bb6 209px,#4e94c4 211px,#92c6df 213px,#b1dce6 214px,#c7e6db 217px,#d7edd3 233px,#aedae7 361px,#a9d8e8 391px,#a9d8e8)"></i><i style="background:linear-gradient(90deg,#2c7bb6,#2c7bb6 209px,#418bbf 210px,#4e94c4 211px,#92c6df 213px,#b1dce6 214px,#c7e6db 217px,#d6ecd4 233px,#bfe2df 305px,#a9d8e8 386px,#a9d7e8)"></i><i style="background:linear-gradient(90deg,#2c7bb6,#2c7bb6 209px,#4e94c4 210px,#4e94c4 211px,#92c6df 213px,#b1dce6 214px,#c7e6db 217px,#d5ecd4 233px,#bfe2df 305px,#aad8e9 377px,#a8d7e8)"></i><i style="background:linear-gradient(90deg,#2c7bb6,#2c7bb6 209px,#4e94c4 210px,#5a9dc9 211px,#70add1 212px,#92c6df 213px,#b1dce6 214px,#c7e6db 217px,#d4ecd5 235px,#c1e3de 299px,#a9d7e8 380px,#a7d6e8)"></i><i style="background:linear-gradient(90deg,#2c7bb6,#2c7bb6 209px,#4e94c4 210px,#70add1 212px,#92c6df 213px,#b1dce6 214px,#c7e6db 217px,#d3ebd5 235px,#c1e3de 299px,#aad8e9 371px,#a7d6e7)"></i><i style="background:linear-gradient(90deg,#2c7bb6,#2c7bb6 209px,#4e94c4 210px,#70add1 212px,#92c6df 213px,#b1dce6 214px,#c7e6db 217px,#d2ebd5 235px,#c4e4dd 292px,#a9d7e8 373px,#a6d5e7)"></i><i style="background:linear-gradient(90deg,#2c7bb6,#2c7bb6 209px,#4e94c4 210px,#70add1 212px,#92c6df 213px,#b1dce6 214px,#c7e6db 217px,#d2ead6 237px,#c2e4dd 294px,#aad9e9 366px,#a6d5e7)"></i><i style="background:linear-gradient(90deg,#2c7bb6,#2c7bb6 209px,#4e94c4 210px,#70add1 212px,#92c6df 213px,#b1dce6 214px,#c7e6db 217px,#d1ead6 237px,#c2e3de 294px,#aad8e9 366px,#a5d4e7)"></i><i style="background:linear-gradient(90deg,#2c7bb6,#2c7bb6 209px,#4e94c4 210px,#70add1 212px,#92c6df 213px,#b1dce6 214px,#c7e6db 217px,#d0ead6 239px,#c3e4dd 290px,#abd9e9 362px,#a4d4e6 392px,#a4d4e6)"></i><i style="background:linear-gradient(90deg,#2c7bb6,#2c7bb6 209px,#4e94c4 210px,#70add1 212px,#92c6df 213px,#b1dce6 214px,#c7e6db 217px,#d0ead7 239px,#c3e4dd 290px,#aad8e9 362px,#a4d3e6 392px,#a4d3e6)"></i><i style="background:linear-gradient(90deg,#2c7bb6,#2c7bb6 209px,#4e94c4 210px,#63a4cc 211px,#70add1 212px,#92c6df 213px,#b1dce6 214px,#c7e6db 217px,#cfe9d7 241px,#c2e3de 292px,#a9d7e8 364px,#a3d3e6 391px,#a3d3e6)"></i><i style="background:linear-gradient(90deg,#2c7bb6,#2c7bb6 209px,#70add1 211px,#70add1 212px,#92c6df 213px,#b1dce6 214px,#c7e6db 217px,#cfe9d7 241px,#c4e4dd 287px,#aad8e9 359px,#a2d2e5 392px,#a2d2e5)"></i><i style="background:linear-gradient(90deg,#2c7bb6,#2c7bb6 209px,#70add1 211px,#7cb6d6 212px,#92c6df 213px,#b1dce6 214px,#c7e6db 217px,#cee9d7 244px,#c2e3dd 290px,#a8d7e8 362px,#a1d2e5 392px,#a1d2e5)"></i><i style="background:linear-gradient(90deg,#2c7bb6,#2c7bb6 209px,#70add1 211px,#92c6df 213px,#b1dce6 214px,#c7e6db 217px,#cee9d8 244px,#c2e3de 290px,#abd9e9 354px,#a1d1e5 391px,#a1d1e5)"></i><i style="background:linear-gradient(90deg,#2c7bb6,#2c7bb6 209px,#70add1 211px,#92c6df 213px,#b1dce6 214px,#c7e6db 217px,#cde9d8 244px,#c4e4dd 285px,#a9d7e8 357px,#a0d1e5 390px,#a0d1e5)"></i><i style="background:linear-gradient(90deg,#2c7bb6,#2c7bb6 209px,#70add1 211px,#92c6df 213px,#b1dce6 214px,#c7e6db 217px,#cde8d8 247px,#c2e3de 288px,#aad8e9 352px,#9fd0e4)"></i><i style="background:linear-gradient(90deg,#2c7bb6,#2c7bb6 209px,#70add1 211px,#92c6df 213px,#b1dce6 214px,#c7e6db 217px,#cde8d8 247px,#c2e3de 288px,#a9d8e8 352px,#9ed0e4)"></i><i style="background:linear-gradient(90deg,#2c7bb6,#2c7bb6 209px,#70add1 211px,#92c6df 213px,#b1dce6 214px,#c7e6db 217px,#cce8d8 250px,#c4e4dd 283px,#abd9e9 347px,#9dcfe4)"></i><i style="background:linear-gradient(90deg,#2c7bb6,#2c7bb6 209px,#70add1 211px,#92c6df 213px,#b1dce6 214px,#c7e6db 217px,#cce8d9 250px,#c3e4dd 283px,#aad8e9 347px,#9dcee3)"></i><i style="background:linear-gradient(90deg,#2c7bb6,#2c7bb6 209px,#70add1 211px,#92c6df 213px,#b1dce6 214px,#c7e6db 217px,#cbe8d9 250px,#c3e4dd 283px,#aad8e8 347px,#9ccee3)"></i><i style="background:linear-gradient(90deg,#2c7bb6,#2c7bb6 209px,#70add1 211px,#92c6df 213px,#b1dce6 214px,#c7e6db 217px,#cbe7d9 254px,#c2e3dd 284px,#a8d7e8 348px,#9bcde3 389px,#9bcde3)"></i><i style="background:linear-gradient(90deg,#2c7bb6,#2c7bb6 209px,#70add1 211px,#92c6df 213px,#b1dce6 214px,#c7e6db 217px,#cbe7d9 254px,#c2e3de 284px,#a8d7e8 348px,#9acde2 389px,#9acce2)"></i><i style="background:linear-gradient(90deg,#2c7bb6,#2c7bb6 209px,#70add1 211px,#92c6df 213px,#b1dce6 214px,#c7e6db 217px,#cae7d9 254px,#c1e3de 284px,#aad9e9 341px,#99cce2 392px,#99cce2)"></i><i style="background:linear-gradient(90deg,#2c7bb6,#2c7bb6 209px,#70add1 211px,#92c6df 213px,#b1dce6 214px,#c7e6db 217px,#cae7da 258px,#bfe2df 288px,#a8d7e8 345px,#98cbe1 391px,#98cbe1)"></i><i style="background:linear-gradient(90deg,#2c7bb6,#2c7bb6 209px,#70add1 211px,#92c6df 213px,#b1dce6 214px,#c7e6db 217px,#c9e7da 258px,#c1e3de 282px,#aad8e9 339px,#97cae1 390px,#97cae1)"></i><i style="background:linear-gradient(90deg,#2c7bb6,#2c7bb6 209px,#70add1 211px,#92c6df 213px,#b1dce6 214px,#c7e6db 217px,#c9e7da 258px,#c1e3de 282px,#a9d8e8 339px,#96cae1 390px,#96c9e0)"></i><i style="background:linear-gradient(90deg,#2c7bb6,#2c7bb6 209px,#70add1 211px,#92c6df 213px,#b1dce6 214px,#c7e6db 217px,#c8e6da 263px,#abd9e9 335px,#95c9e0 392px,#95c8e0)"></i><i style="background:linear-gradient(90deg,#2c7bb6,#2c7bb6 209px,#70add1 211px,#92c6df 213px,#b1dce6 214px,#c7e6db 218px,#c8e6db 264px,#a9d8e8 336px,#93c7df)"></i><i style="background:linear-gradient(90deg,#2c7bb6,#2c7bb6 209px,#70add1 211px,#92c6df 213px,#b1dce6 214px,#c7e6db 218px,#c8e6db 264px,#a9d7e8 336px,#92c6df)"></i><i style="background:linear-gradient(90deg,#2c7bb6,#2c7bb6 209px,#70add1 211px,#92c6df 213px,#b1dce6 214px,#c7e6db 218px,#c8e6db 264px,#a8d7e8 336px,#92c6df)"></i><i style="background:linear-gradient(90deg,#2c7bb6,#2c7bb6 209px,#70add1 211px,#92c6df 213px,#b1dce6 214px,#c7e6db 218px,#c7e6db 264px,#abd9e9 328px,#93c7df 385px,#91c6df)"></i><i style="background:linear-gradient(90deg,#2c7bb6,#2c7bb6 209px,#70add1 211px,#92c6df 213px,#b1dce6 214px,#c7e6db 218px,#c7e6db 264px,#abd9e9 328px,#92c7df 385px,#90c5de)"></i><i style="background:linear-gradient(90deg,#2c7bb6,#2c7bb6 209px,#70add1 211px,#92c6df 213px,#b1dce6 214px,#c7e6db 218px,#c7e6db 264px,#aad8e9 328px,#92c6df 385px,#90c5de)"></i><i style="background:linear-gradient(90deg,#2c7bb6,#2c7bb6 209px,#70add1 211px,#92c6df 213px,#b1dce6 214px,#c7e6db 218px,#c7e6db 264px,#a9d8e8 328px,#91c5de 385px,#8fc4de)"></i><i style="background:linear-gradient(90deg,#2c7bb6,#2c7bb6 209px,#70add1 211px,#92c6df 213px,#b1dce6 214px,#c7e6db 218px,#c7e6db 264px,#a8d7e8 328px,#90c5de 385px,#8ec4dd)"></i><i style="background:linear-gradient(90deg,#2c7bb6,#2c7bb6 209px,#70add1 211px,#92c6df 213px,#b1dce6 214px,#c7e6db 218px,#c6e5db 264px,#abd9e9 321px,#93c7df 372px,#8dc3dd 392px,#8dc3dd)"></i><i style="background:linear-gradient(90deg,#2c7bb6,#2c7bb6 208px,#3884bb 209px,#4e94c4 210px,#70add1 211px,#92c6df 213px,#b1dce6 214px,#c7e6db 218px,#c6e5dc 264px,#abd9e9 321px,#90c5de 378px,#8cc2dd)"></i><i style="background:linear-gradient(90deg,#2c7bb6,#2c7bb6 208px,#4e94c4 210px,#70add1 211px,#92c6df 213px,#b1dce6 214px,#c7e6db 218px,#c6e5dc 264px,#aad8e9 321px,#8fc4de 378px,#8bc1dc)"></i><i style="background:linear-gradient(90deg,#2c7bb6,#2c7bb6 208px,#4e94c4 210px,#70add1 211px,#92c6df 213px,#b1dce6 214px,#c7e6db 218px,#c5e5dc 264px,#a9d7e8 321px,#8bc2dc 385px,#8ac1dc)"></i><i style="background:linear-gradient(90deg,#2c7bb6,#2c7bb6 208px,#4e94c4 210px,#70add1 211px,#92c6df 213px,#b1dce6 214px,#c7e6db 218px,#c7e6db 259px,#abd9e9 316px,#8cc2dd 380px,#89c0db)"></i><i style="background:linear-gradient(90deg,#2c7bb6,#2c7bb6 208px,#4e94c4 210px,#70add1 211px,#92c6df 213px,#b1dce6 214px,#c7e6db 218px,#c7e6db 259px,#aad9e9 316px,#8bc1dc 380px,#88bfdb)"></i><i style="background:linear-gradient(90deg,#2c7bb6,#2c7bb6 208px,#4e94c4 210px,#70add1 211px,#92c6df 213px,#b1dce6 214px,#c7e6db 218px,#c6e5db 259px,#a9d8e8 316px,#8ac0dc 380px,#87beda)"></i><i style="background:linear-gradient(90deg,#2c7bb6,#2c7bb6 208px,#4e94c4 210px,#70add1 211px,#92c6df 213px,#b1dce6 214px,#c7e6db 218px,#c6e5dc 259px,#a8d7e8 316px,#88bfdb 380px,#86bdda)"></i><i style="background:linear-gradient(90deg,#2c7bb6,#2c7bb6 208px,#4e94c4 210px,#70add1 211px,#92c6df 213px,#b1dce6 214px,#c7e6db 218px,#c5e5dc 259px,#a7d6e8 316px,#85bdda 388px,#84bcda)"></i><i style="background:linear-gradient(90deg,#2c7bb6,#2c7bb6 208px,#4e94c4 210px,#70add1 211px,#92c6df 213px,#b1dce6 214px,#c7e6db 219px,#c7e6db 256px,#a9d7e8 313px,#84bcd9 385px,#83bcd9)"></i><i style="background:linear-gradient(90deg,#2c7bb6,#2c7bb6 208px,#4e94c4 210px,#70add1 211px,#92c6df 213px,#b1dce6 214px,#c7e6db 219px,#c6e5db 256px,#a7d6e8 313px,#83bbd9 385px,#82bbd9)"></i><i style="background:linear-gradient(90deg,#2c7bb6,#2c7bb6 208px,#4e94c4 210px,#70add1 211px,#92c6df 213px,#b1dce6 214px,#c7e6db 219px,#c6e5dc 256px,#abd9e9 307px,#84bcd9 379px,#81bad8)"></i><i style="background:linear-gradient(90deg,#2c7bb6,#2c7bb6 208px,#4e94c4 210px,#70add1 211px,#92c6df 213px,#b1dce6 214px,#c7e6db 219px,#c5e5dc 256px,#aad8e9 307px,#82bbd9 379px,#7fb9d7)"></i><i style="background:linear-gradient(90deg,#2c7bb6,#2c7bb6 208px,#4e94c4 210px,#70add1 211px,#92c6df 213px,#b1dce6 214px,#c7e6db 219px,#c4e4dc 256px,#a9d7e8 307px,#81bad8 379px,#7eb8d7)"></i><i style="background:linear-gradient(90deg,#2c7bb6,#2c7bb6 208px,#4e94c4 210px,#70add1 211px,#92c6df 213px,#b1dce6 214px,#c7e6db 220px,#c6e5dc 253px,#aad8e9 304px,#81bad8 376px,#7db7d6 392px,#7db7d6)"></i><i style="background:linear-gradient(90deg,#2c7bb6,#2c7bb6 208px,#4e94c4 210px,#70add1 211px,#92c6df 213px,#b1dce6 214px,#c7e6db 220px,#c5e5dc 253px,#a9d7e8 304px,#7fb9d7 376px,#7bb6d6 392px,#7bb6d6)"></i><i style="background:linear-gradient(90deg,#2c7bb6,#2c7bb6 208px,#4e94c4 210px,#70add1 211px,#92c6df 213px,#b1dce6 214px,#c7e6db 220px,#c5e5dc 253px,#a8d6e8 304px,#7eb8d7 376px,#7ab5d5 392px,#7ab4d5)"></i><i style="background:linear-gradient(90deg,#2c7bb6,#2c7bb6 208px,#4e94c4 210px,#70add1 211px,#92c6df 213px,#b1dce6 214px,#c7e6db 220px,#c6e5db 250px,#a9d7e8 301px,#7eb8d7 373px,#78b3d5)"></i><i style="background:linear-gradient(90deg,#2c7bb6,#2c7bb6 208px,#4e94c4 210px,#70add1 211px,#92c6df 213px,#b1dce6 214px,#c7e6db 221px,#c5e5dc 251px,#abd9e9 297px,#7eb8d7 369px,#77b2d4)"></i><i style="background:linear-gradient(90deg,#2c7bb6,#2c7bb6 208px,#4e94c4 210px,#70add1 211px,#92c6df 213px,#b1dce6 214px,#c7e6db 221px,#c6e5db 248px,#a8d7e8 299px,#7cb6d6 371px,#75b1d3)"></i><i style="background:linear-gradient(90deg,#2c7bb6,#2c7bb6 208px,#4e94c4 210px,#70add1 211px,#92c6df 213px,#b1dce6 214px,#c7e6db 222px,#c5e5dc 249px,#aad8e9 295px,#78b4d5 376px,#73b0d3 392px,#73b0d3)"></i><i style="background:linear-gradient(90deg,#2c7bb6,#2c7bb6 208px,#4e94c4 210px,#70add1 211px,#92c6df 213px,#b1dce6 214px,#c7e6db 223px,#c5e5dc 247px,#aad8e9 293px,#78b3d4 374px,#72afd2 392px,#72aed2)"></i><i style="background:linear-gradient(90deg,#2c7bb6,#2c7bb6 208px,#4e94c4 210px,#70add1 211px,#92c6df 213px,#b1dce6 214px,#c7e6db 223px,#c5e5dc 247px,#a9d7e8 293px,#76b2d4 374px,#70add1 392px,#70add1)"></i><i style="background:linear-gradient(90deg,#2c7bb6,#2c7bb6 208px,#4e94c4 210px,#70add1 211px,#92c6df 213px,#b1dce6 214px,#c7e6db 223px,#c5e5dc 245px,#a9d8e8 291px,#76b2d4 372px,#6fadd1 392px,#6facd1)"></i><i style="background:linear-gradient(90deg,#2c7bb6,#2c7bb6 208px,#4e94c4 210px,#70add1 211px,#92c6df 213px,#b1dce6 214px,#c7e6db 224px,#c5e5dc 244px,#a9d7e8 290px,#79b4d5 362px,#6eacd0 392px,#6dabd0)"></i><i style="background:linear-gradient(90deg,#2c7bb6,#2c7bb6 208px,#4e94c4 210px,#70add1 211px,#92c6df 213px,#b1dce6 214px,#c7e6db 225px,#c5e5dc 243px,#a8d7e8 289px,#78b3d4 361px,#6cabd0 391px,#6caad0)"></i><i style="background:linear-gradient(90deg,#2c7bb6,#2c7bb6 208px,#4e94c4 210px,#70add1 211px,#92c6df 213px,#a7d6e7 214px,#b1dce6 215px,#c7e6db 226px,#c4e5dc 242px,#a8d7e8 288px,#77b2d4 360px,#6aa9cf)"></i><i style="background:linear-gradient(90deg,#2c7bb6,#2c7bb6 208px,#4e94c4 210px,#70add1 211px,#a4d4e6 214px,#b1dce6 215px,#c7e6db 227px,#c3e4dd 242px,#abd9e9 283px,#78b3d5 355px,#69a8ce 392px,#69a8ce)"></i><i style="background:linear-gradient(90deg,#2c7bb6,#2c7bb6 208px,#4e94c4 210px,#70add1 211px,#a3d3e6 214px,#b1dce6 215px,#c7e6db 228px,#c0e2df 246px,#aad8e8 283px,#76b2d4 355px,#67a7ce 392px,#67a7ce)"></i><i style="background:linear-gradient(90deg,#2c7bb6,#2c7bb6 208px,#4e94c4 210px,#70add1 211px,#a3d3e6 214px,#b1dce6 215px,#c5e5dc 228px,#bee1e0 248px,#aad8e9 281px,#76b2d4 353px,#65a5cd 390px,#65a5cd)"></i><i style="background:linear-gradient(90deg,#2c7bb6,#2c7bb6 208px,#4e94c4 210px,#70add1 211px,#a3d3e6 214px,#b1dce6 215px,#c3e4dd 229px,#bae0e2 253px,#a9d8e8 280px,#75b1d3 352px,#63a4cc)"></i><i style="background:linear-gradient(90deg,#2c7bb6,#2c7bb6 208px,#4e94c4 210px,#70add1 211px,#a3d3e6 214px,#b1dce6 215px,#c1e3de 229px,#b9dfe2 253px,#a8d7e8 280px,#73b0d3 352px,#61a2cb)"></i><i style="background:linear-gradient(90deg,#2c7bb6,#2c7bb6 208px,#4e94c4 210px,#70add1 211px,#a2d3e6 214px,#b1dce6 215px,#c0e3de 230px,#b4dde4 260px,#a8d7e8 278px,#72afd2 350px,#5fa1cb 391px,#5fa1cb)"></i><i style="background:linear-gradient(90deg,#2c7bb6,#2c7bb6 208px,#4e94c4 210px,#70add1 211px,#a2d2e5 214px,#b1dce6 215px,#bfe2df 231px,#b0dbe7 268px,#a4d4e6 280px,#70add1 352px,#5ea0ca 389px,#5d9fca)"></i><i style="background:linear-gradient(90deg,#2c7bb6,#2c7bb6 208px,#4e94c4 210px,#70add1 211px,#a1d2e5 214px,#b1dce6 215px,#bee1e0 231px,#b1dce6 264px,#a6d5e7 277px,#70add1 349px,#5b9ec9 390px,#5b9ec9)"></i><i style="background:linear-gradient(90deg,#2c7bb6,#2c7bb6 208px,#4e94c4 210px,#70add1 211px,#92c6df 213px,#abd9e9 215px,#b2dce6 217px,#bde1e0 233px,#acd9e9 270px,#92c6df 300px,#64a5cd 364px,#599cc8 391px,#599cc8)"></i><i style="background:linear-gradient(90deg,#2c7bb6,#2c7bb6 208px,#4e94c4 210px,#70add1 211px,#7cb6d6 212px,#92c6df 213px,#a7d6e7 215px,#b1dce6 216px,#bbe0e1 232px,#aedbe7 265px,#a0d1e5 279px,#64a5cd 360px,#579bc7)"></i><i style="background:linear-gradient(90deg,#2c7bb6,#2c7bb6 208px,#4e94c4 210px,#70add1 211px,#70add1 212px,#92c6df 213px,#92c6df 214px,#a4d3e6 215px,#b1dce6 216px,#bae0e1 234px,#abd9e9 267px,#93c7df 294px,#5fa0ca 366px,#5599c6)"></i><i style="background:linear-gradient(90deg,#2c7bb6,#2c7bb6 208px,#3884bb 209px,#63a4cc 211px,#70add1 212px,#85bdda 213px,#a2d2e5 215px,#b1dce6 216px,#b9e0e2 234px,#addae8 264px,#93c7df 291px,#5ea0ca 363px,#5297c5)"></i><i style="background:linear-gradient(90deg,#2c7bb6,#2c7bb6 209px,#4e94c4 210px,#92c6df 214px,#acd9e9 216px,#b1dce6 218px,#b8dfe2 236px,#acdae8 263px,#92c6df 290px,#5c9fc9 362px,#5096c5 392px,#5096c5)"></i><i style="background:linear-gradient(90deg,#2c7bb6,#2c7bb6 209px,#4e94c4 210px,#92c6df 214px,#a9d8e8 216px,#b1dce6 217px,#b7dfe3 237px,#acdae8 261px,#92c6df 288px,#5b9ec9 360px,#4e94c4)"></i><i style="background:linear-gradient(90deg,#2c7bb6,#2c7bb6 209px,#4e94c4 210px,#92c6df 214px,#a7d6e8 216px,#b1dce6 217px,#b7dee3 237px,#addae8 259px,#8fc5de 289px,#589cc8 361px,#4b92c2 391px,#4b92c2)"></i><i style="background:linear-gradient(90deg,#2c7bb6,#2c7bb6 209px,#4e94c4 210px,#92c6df 214px,#addae8 217px,#b2dce5 221px,#b5dde4 241px,#abd9e9 259px,#90c5de 286px,#589bc7 358px,#478fc1 391px,#478fc1)"></i><i style="background:linear-gradient(90deg,#2c7bb6,#2c7bb6 209px,#4e94c4 210px,#92c6df 214px,#abd9e9 217px,#b1dce6 218px,#b4dde4 240px,#aad9e9 258px,#92c6df 282px,#589bc8 354px,#448dc0 391px,#448cbf)"></i><i style="background:linear-gradient(90deg,#2c7bb6,#2c7bb6 209px,#4e94c4 210px,#92c6df 214px,#addae8 218px,#b4dde5 228px,#aedae7 252px,#9fd0e4 265px,#72afd2 316px,#4e94c4 367px,#408abe 391px,#408abe)"></i><i style="background:linear-gradient(90deg,#2c7bb6,#2c7bb6 209px,#4e94c4 210px,#92c6df 214px,#acd9e9 218px,#b1dce6 220px,#b2dce5 242px,#aad8e8 255px,#8dc3dd 282px,#5398c6 354px,#3d87bd 391px,#3c87bc)"></i><i style="background:linear-gradient(90deg,#2c7bb6,#2c7bb6 209px,#4e94c4 210px,#92c6df 214px,#aedae8 219px,#b3dde5 234px,#addae8 250px,#8dc2dd 280px,#5297c5 352px,#3884bb)"></i><i style="background:linear-gradient(90deg,#2c7bb6,#2c7bb6 209px,#4e94c4 210px,#92c6df 214px,#92c6df 215px,#acd9e8 219px,#b1dce6 221px,#b1dce6 243px,#a5d5e7 255px,#88bfdb 282px,#4e94c4 354px,#3581b9 391px,#3481b9)"></i><i style="background:linear-gradient(90deg,#2c7bb6,#2c7bb6 209px,#4e94c4 210px,#5a9dc9 211px,#70add1 212px,#89c0db 214px,#a9d8e8 219px,#b1dce6 222px,#afdbe7 244px,#a1d2e5 256px,#7fb9d7 289px,#69a8cf 316px,#3783bb 380px,#307eb8)"></i><i style="background:linear-gradient(90deg,#2c7bb6,#2c7bb6 209px,#418bbf 210px,#4e94c4 211px,#70add1 212px,#85bdda 214px,#92c6df 215px,#abd9e9 220px,#b1dce6 223px,#aedae8 243px,#99cce2 261px,#72afd2 302px,#66a6cd 317px,#3380b9 381px,#2c7bb6)"></i><i style="background:linear-gradient(90deg,#2c7bb6,#2c7bb6 209px,#4e94c4 211px,#70add1 212px,#70add1 213px,#92c6df 215px,#acd9e9 221px,#b1dce6 225px,#aedae8 241px,#97cae1 261px,#70add1 302px,#67a7ce 313px,#4b92c3 346px,#307eb8 379px,#2c7bb6 391px,#2c7bb6)"></i><i style="background:linear-gradient(90deg,#2c7bb6,#2c7bb6 209px,#4e94c4 211px,#63a4cc 212px,#81bad8 214px,#92c6df 215px,#acd9e9 222px,#b1dce6 228px,#addae8 240px,#7bb5d6 286px,#67a7ce 310px,#4e94c4 337px,#4991c2 345px,#2c7bb6 378px,#2c7bb6)"></i><i style="background:linear-gradient(90deg,#2c7bb6,#2c7bb6 209px,#92c6df 215px,#acdae8 224px,#b1dce6 231px,#a5d5e7 245px,#78b4d5 286px,#64a4cc 310px,#4e94c4 334px,#458dc0 345px,#2c7bb6 372px,#2c7bb6)"></i><i style="background:linear-gradient(90deg,#2c7bb6,#2c7bb6 209px,#4e94c4 211px,#5b9dc9 212px,#70add1 213px,#8ac0dc 215px,#96c9e0 217px,#abd9e9 225px,#acd9e9 236px,#75b1d3 287px,#64a4cc 307px,#2f7db7 364px,#2c7bb6 372px,#2c7bb6)"></i><i style="background:linear-gradient(90deg,#2c7bb6,#2c7bb6 209px,#4e94c4 211px,#4e94c4 212px,#70add1 213px,#92c6df 216px,#aad8e8 226px,#a9d8e8 236px,#87bfdb 266px,#70add1 290px,#66a6cd 302px,#4e94c4 326px,#4a91c2 332px,#2c7bb6 362px,#2c7bb6)"></i><i style="background:linear-gradient(90deg,#2c7bb6,#2c7bb6 209px,#468ec1 211px,#4e94c4 212px,#70add1 213px,#92c6df 216px,#a7d6e8 227px,#a5d5e7 238px,#8ac0dc 262px,#71aed2 286px,#418bbe 337px,#2c7bb6 359px,#2c7bb6)"></i><i style="background:linear-gradient(90deg,#2c7bb6,#2c7bb6 209px,#4e94c4 212px,#70add1 213px,#83bbd9 215px,#92c6df 216px,#a5d5e7 228px,#a0d1e4 241px,#88bfdb 261px,#70add1 285px,#4991c2 326px,#2c7bb6 353px,#2c7bb6)"></i><i style="background:linear-gradient(90deg,#2c7bb6,#2c7bb6 209px,#4e94c4 212px,#70add1 213px,#70add1 214px,#8ac1dc 216px,#92c6df 217px,#a2d2e5 228px,#9dcfe3 241px,#8bc1dc 257px,#70add1 281px,#4a91c2 322px,#2c7bb6 349px,#2c7bb6)"></i><i style="background:linear-gradient(90deg,#2c7bb6,#2c7bb6 209px,#3f89be 211px,#70add1 214px,#92c6df 217px,#a0d1e5 229px,#98cbe1 244px,#89c0db 256px,#70add1 278px,#448dc0 324px,#2c7bb6 346px,#2c7bb6)"></i><i style="background:linear-gradient(90deg,#2c7bb6,#2c7bb6 210px,#478fc1 212px,#4e94c4 213px,#70add1 214px,#92c6df 217px,#9ecfe4 231px,#92c6df 249px,#73b0d3 271px,#4890c1 317px,#2c7bb6 341px,#2c7bb6)"></i><i style="background:linear-gradient(90deg,#2c7bb6,#2c7bb6 210px,#4e94c4 213px,#70add1 214px,#92c6df 218px,#9bcde3 232px,#8fc4de 248px,#72aed2 270px,#4b92c3 311px,#2c7bb6 338px,#2c7bb6)"></i><i style="background:linear-gradient(90deg,#2c7bb6,#2c7bb6 210px,#4e94c4 213px,#70add1 214px,#92c6df 219px,#98cbe2 233px,#8fc4de 246px,#70add1 268px,#6aa9cf 275px,#4b92c3 308px,#2c7bb6 335px,#2c7bb6)"></i><i style="background:linear-gradient(90deg,#2c7bb6,#2c7bb6 210px,#4e94c4 213px,#70add1 214px,#70add1 215px,#8cc2dd 219px,#92c6df 220px,#96c9e1 234px,#8dc3dd 245px,#70add1 265px,#6aa9cf 272px,#468ec0 309px,#2c7bb6 331px,#2c7bb6)"></i><i style="background:linear-gradient(90deg,#2c7bb6,#2c7bb6 210px,#4e94c4 213px,#62a3cc 214px,#70add1 215px,#92c6df 221px,#93c7df 236px,#8ec3dd 242px,#70add1 262px,#6aa9cf 269px,#4e94c4 296px,#4a91c2 302px,#2c7bb6 326px,#2c7bb6)"></i><i style="background:linear-gradient(90deg,#2c7bb6,#2c7bb6 210px,#5b9ec9 214px,#70add1 215px,#8bc1dc 221px,#92c6df 225px,#8fc4de 238px,#70add1 260px,#428bbf 306px,#2c7bb6 324px,#2c7bb6)"></i><i style="background:linear-gradient(90deg,#2c7bb6,#2c7bb6 210px,#4e94c4 213px,#4e94c4 214px,#70add1 215px,#70add1 216px,#86bdda 221px,#92c6df 229px,#89c0db 240px,#65a5cd 267px,#3b86bc 308px,#2c7bb6 321px,#2c7bb6)"></i><i style="background:linear-gradient(90deg,#2c7bb6,#2c7bb6 210px,#4890c1 213px,#4e94c4 214px,#63a4cc 215px,#70add1 216px,#86beda 223px,#8dc3dd 231px,#7bb6d6 247px,#70add1 255px,#4e94c4 285px,#458dc0 296px,#2c7bb6 318px,#2c7bb6)"></i><i style="background:linear-gradient(90deg,#2c7bb6,#2c7bb6 210px,#4e94c4 214px,#70add1 216px,#74b0d3 218px,#85bdda 225px,#88bfdb 233px,#5196c5 279px,#2e7db7 312px,#2c7bb6)"></i><i style="background:linear-gradient(90deg,#2c7bb6,#2c7bb6 210px,#448dc0 213px,#68a7ce 216px,#70add1 217px,#82bbd9 226px,#82bad8 236px,#4e94c4 277px,#4a91c2 284px,#2c7bb6 311px,#2c7bb6)"></i><i style="background:linear-gradient(90deg,#2c7bb6,#2c7bb6 211px,#70add1 217px,#80b9d8 228px,#7ab5d5 240px,#4e94c4 273px,#4991c2 281px,#2c7bb6 308px,#2c7bb6)"></i><i style="background:linear-gradient(90deg,#2c7bb6,#2c7bb6 211px,#4e94c4 214px,#70add1 218px,#7db7d6 229px,#75b1d3 241px,#6baacf 249px,#4e94c4 269px,#4991c2 277px,#2c7bb6 304px,#2c7bb6)"></i><i style="background:linear-gradient(90deg,#2c7bb6,#2c7bb6 211px,#4e94c4 214px,#4e94c4 215px,#69a8cf 218px,#70add1 219px,#7ab4d5 230px,#6dabd0 245px,#4e94c4 267px,#2c7bb6 300px,#2c7bb6)"></i><i style="background:linear-gradient(90deg,#2c7bb6,#2c7bb6 211px,#5d9fca 217px,#70add1 220px,#76b2d4 232px,#6dabd0 243px,#4e94c4 263px,#458dc0 274px,#2c7bb6 298px,#2c7bb6)"></i><i style="background:linear-gradient(90deg,#2c7bb6,#2c7bb6 212px,#4e94c4 215px,#70add1 221px,#72aed2 235px,#6baacf 241px,#4e94c4 261px,#2c7bb6 294px,#2c7bb6)"></i><i style="background:linear-gradient(90deg,#2c7bb6,#2c7bb6 212px,#4890c1 215px,#68a8ce 221px,#70add1 224px,#70add1 236px,#4e94c4 258px,#2c7bb6 291px,#2c7bb6)"></i><i style="background:linear-gradient(90deg,#2c7bb6,#2c7bb6 212px,#4e94c4 216px,#68a8ce 223px,#69a8cf 236px,#4e94c4 254px,#4890c1 261px,#2c7bb6 288px,#2c7bb6)"></i><i style="background:linear-gradient(90deg,#2c7bb6,#2c7bb6 212px,#438cbf 215px,#4e94c4 216px,#5297c5 218px,#64a4cc 224px,#64a5cd 235px,#4e94c4 251px,#2c7bb6 284px,#2c7bb6)"></i><i style="background:linear-gradient(90deg,#2c7bb6,#2c7bb6 213px,#4e94c4 217px,#559ac7 220px,#61a2cb 226px,#5d9fca 237px,#4e94c4 248px,#2c7bb6 281px,#2c7bb6)"></i><i style="background:linear-gradient(90deg,#2c7bb6,#2c7bb6 213px,#4e94c4 218px,#5d9fca 227px,#579bc7 238px,#4e94c4 246px,#2c7bb6 276px,#2c7bb6)"></i><i style="background:linear-gradient(90deg,#2c7bb6,#2c7bb6 214px,#4e94c4 219px,#599cc8 228px,#5196c5 239px,#2e7db7 272px,#2c7bb6 386px,#2c7bb6)"></i><i style="background:linear-gradient(90deg,#2c7bb6,#2c7bb6 214px,#4e94c4 220px,#5599c6 230px,#4e94c4 239px,#2c7bb6 269px,#2c7bb6)"></i><i style="background:linear-gradient(90deg,#2c7bb6,#2c7bb6 215px,#4e94c4 222px,#5096c5 231px,#3b86bc 253px,#2c7bb6 268px,#2c7bb6)"></i><i style="background:linear-gradient(90deg,#2c7bb6,#2c7bb6 216px,#448cbf 221px,#4e94c4 226px,#4991c2 236px,#2c7bb6 263px,#2c7bb6)"></i><i style="background:linear-gradient(90deg,#2c7bb6,#2c7bb6 217px,#3e88bd 221px,#4990c1 227px,#3f89bd 243px,#2c7bb6 261px,#2c7bb6)"></i><i style="background:linear-gradient(90deg,#2c7bb6,#2c7bb6 217px,#428bbf 225px,#428bbf 234px,#2c7bb6 258px,#2c7bb6)"></i><i style="background:linear-gradient(90deg,#2c7bb6,#2c7bb6 218px,#3e88bd 226px,#3c87bd 237px,#2c7bb6 255px,#2c7bb6)"></i><i style="background:linear-gradient(90deg,#2c7bb6,#2c7bb6 220px,#3985bb 226px,#3984bb 237px,#2c7bb6 251px,#2c7bb6)"></i><i style="background:linear-gradient(90deg,#2c7bb6,#2c7bb6 220px,#3783bb 230px,#2e7db7 245px,#2c7bb6 389px,#2c7bb6)"></i><i style="background:linear-gradient(90deg,#2c7bb6,#2c7bb6 204px,#2f7db7 224px,#3380b9 233px,#2c7bb6 246px,#2c7bb6)"></i><i style="background:linear-gradient(90deg,#2c7bb6,#2c7bb6 204px,#2e7db7 226px,#2e7db7 237px,#2c7bb6 381px,#2c7bb6)"></i><i style="height:79px;background:#2c7bb6"></i></div>
<div class="fld" style="left:581px;top:183px;width:393px;height:375px"><i style="background:linear-gradient(90deg,#e2f2ce,#e4f3cc 72px,#f2f9c5 153px,#f6fbc3 175px,#ffffbf 184px,#fff0ae 189px,#fed993 195px,#fdbd73 206px,#fdb063 222px,#fdb063)"></i><i style="background:linear-gradient(90deg,#e2f2ce,#e4f3cc 72px,#f2f9c5 153px,#f7fbc3 175px,#ffffbf 184px,#fff0ae 189px,#fedc96 194px,#fdbd73 206px,#fdb063 222px,#fdb063)"></i><i style="background:linear-gradient(90deg,#e2f2ce,#e4f3cc 72px,#f2f9c5 153px,#f7fbc3 175px,#ffffbf 184px,#fff5b4 188px,#fedf99 193px,#fdbd73 206px,#fdb063 222px,#fdb063)"></i><i style="background:linear-gradient(90deg,#e2f2ce,#e4f3cc 72px,#f2f9c5 153px,#f7fbc3 175px,#ffffbf 184px,#fff5b4 188px,#fedf99 192px,#fed892 195px,#fdbd73 206px,#fdb063 222px,#fdb063)"></i><i style="background:linear-gradient(90deg,#e2f2ce,#e4f3cc 72px,#f2f9c5 153px,#f5fac4 173px,#ffffbf 184px,#fff5b4 188px,#fedf99 192px,#fdbd73 206px,#fdb063 222px,#fdb063)"></i><i style="background:linear-gradient(90deg,#e2f2ce,#e4f3cc 72px,#f6fbc3 174px,#fffebe 184px,#fff5b4 188px,#fedf99 192px,#fdbd73 206px,#fdb063 222px,#fdb063)"></i><i style="background:linear-gradient(90deg,#e2f2ce,#e5f3cc 72px,#f6fbc3 174px,#fffebe 184px,#fff5b4 188px,#fedf99 192px,#fdbd73 206px,#fdb063 222px,#fdb063)"></i><i style="background:linear-gradient(90deg,#e2f2ce,#e5f3cc 72px,#f7fbc3 174px,#fffebe 184px,#fff5b4 188px,#fedf99 192px,#fdbd73 206px,#fdb063 222px,#fdb063)"></i><i style="background:linear-gradient(90deg,#e2f2ce,#e2f2cd 64px,#f2f9c6 145px,#f5fac4 172px,#fffdbd 184px,#fff5b4 188px,#fedf99 192px,#fdbd73 206px,#fdb063 222px,#fdb063)"></i><i style="background:linear-gradient(90deg,#e2f2ce,#e2f2cd 64px,#f2f9c6 145px,#f5fbc4 172px,#fffdbd 184px,#ffedab 189px,#fedc96 193px,#fdbd73 206px,#fdb063 222px,#fdb063)"></i><i style="background:linear-gradient(90deg,#e2f2ce,#e3f2cd 64px,#f3f9c5 155px,#f6fbc3 173px,#fffdbd 184px,#fff1af 188px,#fedc96 193px,#fdbd73 206px,#fdb063 222px,#fdb063)"></i><i style="background:linear-gradient(90deg,#e2f2ce,#e3f2cd 64px,#f3f9c5 155px,#f6fbc3 173px,#fffdbc 184px,#fff1ae 188px,#fedf99 192px,#fdbd73 206px,#fdb063 222px,#fdb063)"></i><i style="background:linear-gradient(90deg,#e2f2ce,#e3f2cd 64px,#f3f9c5 155px,#f7fbc3 173px,#ffffbf 183px,#fff5b4 187px,#fedf99 191px,#fed48d 196px,#fdbd73 206px,#fdb063 222px,#fdb063)"></i><i style="background:linear-gradient(90deg,#e2f2ce,#e3f3cd 64px,#f3f9c5 155px,#f7fbc3 173px,#ffffbe 183px,#fff5b4 187px,#fedf99 191px,#fdbd73 206px,#fdb063 222px,#fdb063)"></i><i style="background:linear-gradient(90deg,#e2f2ce,#e4f3cd 64px,#f4fac5 166px,#feffbf 182px,#fff5b4 187px,#fedf99 191px,#fdbd73 206px,#fdb063 222px,#fdb063)"></i><i style="height:2px;background:linear-gradient(90deg,#e2f2ce,#e4f3cd 64px,#f4fac5 166px,#ffffbf 182px,#fff5b4 187px,#fedf99 191px,#fdbd73 206px,#fdb063 222px,#fdb063)"></i><i style="background:linear-gradient(90deg,#e2f2ce,#e4f3cc 64px,#f4fac5 166px,#ffffbf 182px,#fff5b4 187px,#fedf99 191px,#fdbd73 206px,#fdb063 222px,#fdb063)"></i><i style="background:linear-gradient(90deg,#e2f2ce,#e4f3cc 64px,#f4fac5 166px,#ffffbf 182px,#ffeeab 188px,#fedc97 192px,#fdbd73 206px,#fdb063 222px,#fdb063)"></i><i style="background:linear-gradient(90deg,#e2f2ce,#e5f3cc 64px,#f4fac5 166px,#ffffbf 182px,#fff1af 187px,#fedc97 192px,#fdbd73 206px,#fdb063 222px,#fdb063)"></i><i style="background:linear-gradient(90deg,#e2f2ce,#e5f3cc 64px,#f4fac5 166px,#ffffbe 182px,#fff1ae 187px,#fedc97 192px,#fdbd73 206px,#fdb063 222px,#fdb063)"></i><i style="background:linear-gradient(90deg,#e2f2ce,#e5f3cc 64px,#f4fac5 166px,#fffebe 182px,#fff5b4 186px,#fedf99 191px,#fdbd73 206px,#fdb063 222px,#fdb063)"></i><i style="background:linear-gradient(90deg,#e2f2ce,#e5f3cc 64px,#f4fac5 166px,#fffebe 182px,#fff5b4 186px,#fedf99 190px,#fdc076 204px,#fdb063 222px,#fdb063)"></i><i style="background:linear-gradient(90deg,#e2f2ce,#e5f3cc 64px,#f4fac5 166px,#fffebe 182px,#fff5b4 186px,#fedf99 190px,#fdbd73 206px,#fdb063 222px,#fdb063)"></i><i style="background:linear-gradient(90deg,#e2f2ce,#e5f3cc 64px,#f4fac4 166px,#fffdbd 182px,#fff5b4 186px,#fedf99 190px,#fdbd73 206px,#fdb063 222px,#fdb063)"></i><i style="background:linear-gradient(90deg,#e2f2ce,#e6f4cc 64px,#f4fac4 166px,#fffdbd 182px,#fff5b4 186px,#fedf99 190px,#fdbd73 206px,#fdb063 222px,#fdb063)"></i><i style="background:linear-gradient(90deg,#e2f2ce,#e6f4cc 64px,#f5fac4 166px,#fffdbd 182px,#fff5b4 186px,#fedf99 190px,#fdbd73 206px,#fdb063 222px,#fdb063)"></i><i style="background:linear-gradient(90deg,#e2f2ce,#e6f4cc 64px,#f5fac4 166px,#fffdbc 182px,#fff5b4 186px,#fedf99 190px,#fdbd73 206px,#fdb063 222px,#fdb063)"></i><i style="height:2px;background:linear-gradient(90deg,#e2f2ce,#e6f4cb 64px,#f5fbc4 166px,#fffebe 181px,#fff5b4 186px,#fedf99 190px,#fdbd73 206px,#fdb063 222px,#fdb063)"></i><i style="background:linear-gradient(90deg,#e2f2ce,#e6f4cb 64px,#f6fbc4 166px,#fffebe 181px,#fff2b0 186px,#fedc97 191px,#fdbc72 207px,#fdb063 222px,#fdb063)"></i><i style="background:linear-gradient(90deg,#e2f2ce,#e7f4cb 64px,#f6fbc4 166px,#fffdbd 181px,#fff1af 186px,#fedc97 191px,#fdbc72 207px,#fdb063 222px,#fdb063)"></i><i style="background:linear-gradient(90deg,#e2f2ce,#e7f4cb 64px,#f6fbc3 166px,#fffdbd 181px,#fff1ae 186px,#fedc97 191px,#fdbd73 206px,#fdb063 222px,#fdb063)"></i><i style="background:linear-gradient(90deg,#e2f2ce,#e8f5ca 72px,#f4fac4 163px,#fffdbd 181px,#fff5b4 185px,#fedf99 190px,#fdbd73 206px,#fdb063 222px,#fdb063)"></i><i style="background:linear-gradient(90deg,#e2f2ce,#eaf5ca 81px,#f4fac4 162px,#ffffbf 180px,#fff5b4 185px,#fedf99 189px,#fdbe74 205px,#fdb063 221px,#fdb063)"></i><i style="background:linear-gradient(90deg,#e2f2ce,#ecf6c9 91px,#f5fac4 163px,#fffdbc 181px,#fff5b4 185px,#fedf99 189px,#fdbe73 205px,#fdb063 221px,#fdb063)"></i><i style="background:linear-gradient(90deg,#e2f2ce,#f5fac4 162px,#fffebe 180px,#fff5b4 185px,#fedf99 189px,#fdbe73 205px,#fdb063 221px,#fdb063)"></i><i style="background:linear-gradient(90deg,#e2f2ce,#f5fac4 162px,#fffebe 180px,#fff5b4 185px,#fedf99 189px,#fdbd73 205px,#fdb063 221px,#fdb063)"></i><i style="background:linear-gradient(90deg,#e2f2ce,#f5fbc4 162px,#fffebe 180px,#fff5b4 185px,#fedf99 189px,#fdbd73 205px,#fdb063 221px,#fdb063)"></i><i style="background:linear-gradient(90deg,#e2f2ce,#f5fbc4 162px,#fffebd 180px,#fff5b4 185px,#fedf99 189px,#fdbd73 205px,#fdb063 221px,#fdb063)"></i><i style="height:2px;background:linear-gradient(90deg,#e2f2ce,#f6fbc4 162px,#fffdbd 180px,#fff5b4 185px,#fedf99 189px,#fdbd73 205px,#fdb063 221px,#fdb063)"></i><i style="background:linear-gradient(90deg,#e2f2ce,#f6fbc4 162px,#fffdbc 180px,#fff5b4 185px,#fedf99 189px,#fdbd73 205px,#fdb063 221px,#fdb063)"></i><i style="height:2px;background:linear-gradient(90deg,#e2f2ce,#f6fbc3 162px,#ffffbf 178px,#fff5b4 185px,#fedf99 189px,#fdbd73 205px,#fdb063 221px,#fdb063)"></i><i style="background:linear-gradient(90deg,#e2f2ce,#f7fbc3 162px,#ffffbf 178px,#fff2b0 185px,#fedc97 190px,#fdbd73 205px,#fdb063 221px,#fdb063)"></i><i style="background:linear-gradient(90deg,#e2f2ce,#f7fbc3 162px,#ffffbf 178px,#fff5b4 184px,#fedf99 189px,#fdbd73 205px,#fdb063 221px,#fdb063)"></i><i style="background:linear-gradient(90deg,#e2f2ce,#f7fbc3 162px,#ffffbf 178px,#fff5b4 184px,#fedf99 188px,#fdbc72 206px,#fdb063 222px,#fdb063)"></i><i style="background:linear-gradient(90deg,#e2f2cd,#f7fbc3 162px,#fffebe 178px,#fff5b4 184px,#fedf99 188px,#fdbc72 206px,#fdb063 222px,#fdb063)"></i><i style="height:2px;background:linear-gradient(90deg,#e3f2cd,#f3fac5 144px,#fcfec1 171px,#fffdbc 179px,#fff5b4 184px,#fedf99 188px,#fdbc72 206px,#fdb063 222px,#fdb063)"></i><i style="height:2px;background:linear-gradient(90deg,#e4f3cd,#f3fac5 144px,#ffffbf 177px,#fff5b4 184px,#fedf99 188px,#fdbc72 206px,#fdb063 222px,#fdb063)"></i><i style="background:linear-gradient(90deg,#e4f3cc,#f3fac5 144px,#ffffbf 177px,#fff5b4 184px,#fedf99 188px,#fdbc72 206px,#fdb063 222px,#fdb063)"></i><i style="background:linear-gradient(90deg,#e5f3cc,#f3fac5 144px,#ffffbe 177px,#fff5b4 184px,#fedf99 188px,#fdbc72 206px,#fdb063 222px,#fdb063)"></i><i style="height:2px;background:linear-gradient(90deg,#e5f3cc,#f3fac5 144px,#fffebe 177px,#fff5b4 184px,#fedf99 188px,#fdbc72 206px,#fdb063 222px,#fdb063)"></i><i style="background:linear-gradient(90deg,#e5f3cc,#f3fac5 144px,#fffebe 177px,#fff5b4 184px,#fedf99 188px,#fdbc72 206px,#fdb063 221px,#fdb063)"></i><i style="background:linear-gradient(90deg,#e6f4cc,#f3fac5 144px,#fffebd 177px,#fff2b0 184px,#fedf99 188px,#fdbc72 206px,#fdb063 221px,#fdb063)"></i><i style="background:linear-gradient(90deg,#e6f4cc,#f3fac5 144px,#fffdbd 177px,#fff5b4 183px,#fedf99 188px,#fdbc72 206px,#fdb063 221px,#fdb063)"></i><i style="background:linear-gradient(90deg,#e6f4cb,#f3fac5 144px,#fffdbd 177px,#fff5b4 183px,#fedf99 187px,#fdbd73 205px,#fdb063 221px,#fdb063)"></i><i style="background:linear-gradient(90deg,#e6f4cb,#f4fac5 144px,#fffdbd 177px,#fff5b4 183px,#fedf99 187px,#fdbd73 205px,#fdb063 221px,#fdb063)"></i><i style="background:linear-gradient(90deg,#e7f4cb,#f4fac5 144px,#fffdbc 177px,#fff5b4 183px,#fedf99 187px,#fdbd73 205px,#fdb063 221px,#fdb063)"></i><i style="height:3px;background:linear-gradient(90deg,#e7f4cb,#f4fac5 144px,#ffffbf 174px,#fff5b4 183px,#fedf99 187px,#fdbd73 205px,#fdb063 221px,#fdb063)"></i><i style="background:linear-gradient(90deg,#e8f4cb,#f4fac5 144px,#ffffbf 174px,#fff5b4 183px,#fedf99 187px,#fdbd73 205px,#fdb063 221px,#fdb063)"></i><i style="background:linear-gradient(90deg,#e8f5cb,#f4fac5 144px,#ffffbf 174px,#fff5b4 183px,#fedf99 187px,#fdbd73 205px,#fdb063 221px,#fdb063)"></i><i style="height:2px;background:linear-gradient(90deg,#e8f5ca,#f4fac4 144px,#ffffbf 174px,#fff5b4 183px,#fedf99 187px,#fdbd73 205px,#fdb063 221px,#fdb063)"></i><i style="background:linear-gradient(90deg,#e9f5ca,#f5fac4 144px,#ffffbf 174px,#fff5b4 183px,#fedf99 187px,#fdbd73 205px,#fdb063 221px,#fdb063)"></i><i style="background:linear-gradient(90deg,#e9f5ca,#f5fac4 144px,#ffffbe 174px,#fff2b0 183px,#fedf99 187px,#fdbd73 205px,#fdb063 221px,#fdb063)"></i><i style="background:linear-gradient(90deg,#e9f5ca,#f5fac4 144px,#fffebe 174px,#fff5b4 182px,#fedf99 187px,#fdbd73 205px,#fdb063 221px,#fdb063)"></i><i style="height:2px;background:linear-gradient(90deg,#e9f5ca,#f5fbc4 144px,#fffebe 174px,#fff5b4 182px,#fedf99 186px,#fdbc72 206px,#fdb063 222px,#fdb063)"></i><i style="background:linear-gradient(90deg,#eaf5ca,#f5fbc4 144px,#fffebe 174px,#fff5b4 182px,#fedf99 186px,#fdbc72 206px,#fdb063 222px,#fdb063)"></i><i style="background:linear-gradient(90deg,#eaf5ca,#f6fbc4 144px,#fffebd 174px,#fff5b4 182px,#fedf99 186px,#fdbe74 204px,#fdb063 222px,#fdb063)"></i><i style="background:linear-gradient(90deg,#eaf5ca,#f6fbc4 144px,#fffdbd 174px,#fff5b4 182px,#fedf99 186px,#fdbe74 204px,#fdb063 222px,#fdb063)"></i><i style="height:2px;background:linear-gradient(90deg,#eaf6c9,#f6fbc3 144px,#fffdbd 174px,#fff5b4 182px,#fedf99 186px,#fdbe73 204px,#fdb063 222px,#fdb063)"></i><i style="background:linear-gradient(90deg,#ebf6c9,#f6fbc3 144px,#fffdbd 174px,#fff5b4 182px,#fedf99 186px,#fdbd73 204px,#fdb063 222px,#fdb063)"></i><i style="background:linear-gradient(90deg,#ebf6c9,#f7fbc3 144px,#fffdbc 174px,#fff5b4 182px,#fedf99 186px,#fdbd73 204px,#fdb063 222px,#fdb063)"></i><i style="height:2px;background:linear-gradient(90deg,#ebf6c9,#f7fbc3 144px,#ffffbf 171px,#fff5b4 182px,#fedf99 186px,#fdbd73 204px,#fdb063 222px,#fdb063)"></i><i style="background:linear-gradient(90deg,#ebf6c9,#f7fbc3 144px,#ffffbf 171px,#fff2b0 182px,#fedf99 186px,#fdbd73 204px,#fdb063 222px,#fdb063)"></i><i style="background:linear-gradient(90deg,#ebf6c9,#f7fbc3 144px,#ffffbf 171px,#fff5b4 181px,#fedf99 185px,#fdbd72 205px,#fdb063 223px,#fdb063)"></i><i style="background:linear-gradient(90deg,#ecf6c9,#f7fcc3 144px,#ffffbf 171px,#fff5b4 181px,#fedf99 185px,#fdbd72 205px,#fdb063 223px,#fdb063)"></i><i style="background:linear-gradient(90deg,#ecf6c9,#f7fcc3 144px,#fffebe 171px,#fff5b4 181px,#fedf99 185px,#fdbd72 205px,#fdb063 223px,#fdb063)"></i><i style="background:linear-gradient(90deg,#ecf6c9,#f8fcc3 144px,#fffebe 171px,#fff5b4 181px,#fedf99 185px,#fdbd72 205px,#fdb063 223px,#fdb063)"></i><i style="background:linear-gradient(90deg,#ecf6c8,#f4fac4 128px,#ffffbf 169px,#fff5b4 181px,#fedf99 185px,#fdbd72 205px,#fdb063 223px,#fdb063)"></i><i style="background:linear-gradient(90deg,#ecf7c8,#f4fac4 128px,#ffffbf 169px,#fff5b4 181px,#fedf99 185px,#fdbd72 205px,#fdb063 223px,#fdb063)"></i><i style="background:linear-gradient(90deg,#ecf7c8,#f5fac4 128px,#ffffbf 169px,#fff5b4 181px,#fedf99 185px,#fdbd72 205px,#fdb063 223px,#fdb063)"></i><i style="height:3px;background:linear-gradient(90deg,#edf7c8,#f5fac4 128px,#ffffbf 169px,#fff5b4 181px,#fedf99 185px,#fdbd72 205px,#fdb063 223px,#fdb063)"></i><i style="background:linear-gradient(90deg,#edf7c8,#f5fbc4 128px,#ffffbf 169px,#fff5b4 181px,#fee29d 184px,#fdbd73 204px,#fdb063 224px,#fdb063)"></i><i style="background:linear-gradient(90deg,#edf7c8,#f5fbc4 128px,#ffffbe 169px,#fff5b4 180px,#fee6a2 183px,#fedf99 184px,#fdbd73 204px,#fdb063 224px,#fdb063)"></i><i style="background:linear-gradient(90deg,#edf7c8,#f5fbc4 128px,#fffebe 169px,#fff5b4 180px,#fedf99 184px,#fdbd73 204px,#fdb063 224px,#fdb063)"></i><i style="background:linear-gradient(90deg,#eef7c8,#f6fbc4 128px,#fffebe 169px,#fff5b4 180px,#fedf99 184px,#fdbd73 204px,#fdb063 224px,#fdb063)"></i><i style="background:linear-gradient(90deg,#eef7c8,#f6fbc4 128px,#fffebe 169px,#fff5b4 180px,#fedf99 184px,#fdbe73 204px,#fdb063 224px,#fdb063)"></i><i style="background:linear-gradient(90deg,#eef7c8,#f6fbc4 128px,#fffebe 169px,#fff5b4 180px,#fedf99 184px,#fdbe73 204px,#fdb063 226px,#fdb063)"></i><i style="background:linear-gradient(90deg,#eef7c7,#f6fbc3 128px,#fffebe 169px,#fff5b4 180px,#fedf99 184px,#fdbe73 204px,#fdb063 226px,#fdb063)"></i><i style="background:linear-gradient(90deg,#eef7c7,#f6fbc3 128px,#fffebd 169px,#fff5b4 180px,#fedf99 184px,#fdbe73 204px,#fdb063 226px,#fdb063)"></i><i style="background:linear-gradient(90deg,#eef7c7,#f6fbc3 128px,#fffdbd 169px,#fff5b4 180px,#fedf99 184px,#fdbe73 204px,#fdb063 226px,#fdb063)"></i><i style="background:linear-gradient(90deg,#eff8c7,#f6fbc3 128px,#fffdbd 169px,#fff5b4 180px,#fedf99 184px,#fdbe73 204px,#fdb063 226px,#fdb063)"></i><i style="height:2px;background:linear-gradient(90deg,#eff8c7,#f7fbc3 128px,#fffdbd 169px,#fff5b4 180px,#fedf99 184px,#fdbe73 204px,#fdb063 228px,#fdb063)"></i><i style="background:linear-gradient(90deg,#eff8c7,#f7fbc3 128px,#fffdbd 169px,#fff5b4 180px,#fee29d 183px,#fdbe74 203px,#fdb063 230px,#fdb063)"></i><i style="background:linear-gradient(90deg,#eff8c7,#f7fbc3 128px,#fffdbc 169px,#fff5b4 179px,#fee6a2 182px,#fedf99 183px,#fdbd72 205px,#fdb063 232px,#fdb063)"></i><i style="background:linear-gradient(90deg,#eff8c7,#f7fbc3 128px,#fffdbc 169px,#fff5b4 179px,#fedf99 183px,#fdbd72 205px,#fdb063 232px,#fdb063)"></i><i style="background:linear-gradient(90deg,#eff8c7,#f7fbc3 128px,#ffffbf 165px,#fff5b4 179px,#fedf99 183px,#fdbd73 205px,#fdb063 232px,#fdb063)"></i><i style="background:linear-gradient(90deg,#f0f8c7,#f7fcc3 128px,#ffffbf 165px,#fff5b4 179px,#fedf99 183px,#fdbd73 205px,#fdb063 235px,#fdb063)"></i><i style="background:linear-gradient(90deg,#f0f8c7,#f7fcc3 128px,#ffffbf 165px,#fff5b4 179px,#fedf99 183px,#fdbd73 205px,#fdb063 238px,#fdb063)"></i><i style="background:linear-gradient(90deg,#f0f8c7,#f8fcc3 128px,#ffffbf 165px,#fff5b4 179px,#fedf99 183px,#fdbd73 205px,#fdb064 238px,#fdb063 382px,#fdb063)"></i><i style="background:linear-gradient(90deg,#f0f8c7,#f8fcc3 128px,#ffffbf 165px,#fff5b4 179px,#fedf99 183px,#fdbd73 205px,#fdb164 238px,#fdb064 382px,#fdb064)"></i><i style="background:linear-gradient(90deg,#f0f8c6,#f8fcc3 128px,#ffffbf 165px,#fff5b4 179px,#fedf99 183px,#fdbd73 205px,#fdb064 242px,#fdb064)"></i><i style="background:linear-gradient(90deg,#f0f8c6,#f8fcc3 128px,#fffebe 165px,#fff5b4 179px,#fedf99 183px,#fdbd73 205px,#fdb164 242px,#fdb164)"></i><i style="background:linear-gradient(90deg,#f0f8c6,#f8fcc3 128px,#fffebe 165px,#fff5b4 179px,#fedf99 183px,#fdbd73 205px,#fdb165 242px,#fdb165)"></i><i style="background:linear-gradient(90deg,#f1f8c6,#f8fcc2 128px,#fffebe 165px,#fff5b4 179px,#fedf99 183px,#fdbd73 205px,#fdb265 242px,#fdb165 386px,#fdb165)"></i><i style="background:linear-gradient(90deg,#f1f9c6,#f8fcc2 128px,#fffebe 165px,#fff5b4 178px,#fedf99 183px,#fdbe74 203px,#fdb265 244px,#fdb265)"></i><i style="background:linear-gradient(90deg,#f1f9c6,#f8fcc2 128px,#fffebe 165px,#fff5b4 178px,#fedf99 182px,#fdbe73 204px,#fdb266 245px,#fdb265 389px,#fdb265)"></i><i style="background:linear-gradient(90deg,#f1f9c6,#f8fcc2 128px,#fffebe 165px,#fff5b4 178px,#fedf99 182px,#fdbe73 204px,#fdb266 245px,#fdb266)"></i><i style="background:linear-gradient(90deg,#f1f9c6,#f8fcc2 128px,#fffebe 165px,#fff5b4 178px,#fedf99 182px,#fdbe73 204px,#fdb366 245px,#fdb266 389px,#fdb266)"></i><i style="background:linear-gradient(90deg,#f1f9c6,#f9fcc2 128px,#fffebd 165px,#fff5b4 178px,#fedf99 182px,#fdbe73 204px,#fdb367 245px,#fdb366 389px,#fdb366)"></i><i style="background:linear-gradient(90deg,#f1f9c6,#f9fcc2 128px,#fffebd 165px,#fff5b4 178px,#fedf99 182px,#fdbe73 204px,#fdb367 250px,#fdb367)"></i><i style="background:linear-gradient(90deg,#f1f9c6,#f9fcc2 128px,#fffdbd 165px,#fff5b4 178px,#fedf99 182px,#fdbe73 204px,#fdb367 250px,#fdb367)"></i><i style="background:linear-gradient(90deg,#f2f9c6,#f9fcc2 128px,#fffdbd 165px,#fff5b4 178px,#fedf99 182px,#fdbe73 204px,#fdb367 250px,#fdb367)"></i><i style="background:linear-gradient(90deg,#f2f9c6,#f9fcc2 128px,#fffdbd 165px,#fff5b4 178px,#fedf99 182px,#fdbe73 204px,#fdb468 250px,#fdb468)"></i><i style="height:2px;background:linear-gradient(90deg,#f2f9c6,#f9fcc2 128px,#fffdbd 165px,#fff5b4 178px,#fedf99 182px,#fdbe73 204px,#fdb468 255px,#fdb468)"></i><i style="height:2px;background:linear-gradient(90deg,#f2f9c5,#f9fcc2 128px,#fffdbd 165px,#fff5b4 178px,#fedf99 182px,#fdbe74 204px,#fdb468 255px,#fdb569 383px,#fdb569)"></i><i style="background:linear-gradient(90deg,#f2f9c5,#f9fcc2 128px,#fffdbc 165px,#fff5b4 178px,#fedf99 182px,#fdbe74 204px,#fdb569 255px,#fdb569)"></i><i style="background:linear-gradient(90deg,#f2f9c5,#f9fcc2 128px,#fffdbc 165px,#fff5b4 178px,#fedf99 182px,#fdbe74 204px,#fdb569 261px,#fdb56a 389px,#fdb56a)"></i><i style="background:linear-gradient(90deg,#f2f9c5,#f9fcc2 128px,#fffdbc 165px,#fff5b4 178px,#fedf99 182px,#fdbe74 204px,#fdb569 261px,#fdb66a 389px,#fdb66a)"></i><i style="background:linear-gradient(90deg,#f3f9c5,#f9fcc2 128px,#fffdbc 165px,#fff5b4 178px,#fedf99 182px,#fdbe74 204px,#fdb569 261px,#fdb66a 389px,#fdb66a)"></i><i style="background:linear-gradient(90deg,#f3f9c5,#f9fdc2 128px,#ffffbf 161px,#fff5b4 177px,#fedf99 182px,#fdbe74 204px,#fdb56a 261px,#fdb66a 389px,#fdb66b)"></i><i style="background:linear-gradient(90deg,#f3f9c5,#fafdc2 128px,#ffffbf 161px,#fff5b4 177px,#fedf99 182px,#fdbe74 204px,#fdb66a 261px,#fdb66b 389px,#fdb66b)"></i><i style="background:linear-gradient(90deg,#f3fac5,#fafdc2 128px,#ffffbe 161px,#fff5b4 177px,#fedf99 182px,#fdbe74 204px,#fdb66a 268px,#fdb76b 382px,#fdb76b)"></i><i style="background:linear-gradient(90deg,#f3fac5,#fafdc2 128px,#fffebe 161px,#fff5b4 177px,#fedf99 182px,#fdbe74 204px,#fdb66a 268px,#fdb76b 382px,#fdb76b)"></i><i style="background:linear-gradient(90deg,#f3fac5,#fafdc2 128px,#fffebe 161px,#fff5b4 177px,#fedf99 182px,#fdbe74 204px,#fdb66a 268px,#fdb76c 382px,#fdb76c)"></i><i style="background:linear-gradient(90deg,#f3fac5,#fafdc2 128px,#fffebe 161px,#fff5b4 177px,#fedf99 181px,#fdbe74 205px,#fdb66b 269px,#fdb86c 383px,#fdb86c)"></i><i style="background:linear-gradient(90deg,#f3fac5,#fafdc2 128px,#fffebe 161px,#fff5b4 177px,#fedf99 181px,#fdbe74 205px,#fdb76b 269px,#fdb86c 383px,#fdb86c)"></i><i style="background:linear-gradient(90deg,#f3fac5,#fafdc2 128px,#fffebe 161px,#fff5b4 177px,#fedf99 181px,#fdbe74 205px,#fdb76b 277px,#fdb86d 391px,#fdb86d)"></i><i style="background:linear-gradient(90deg,#f4fac5,#fafdc2 128px,#fffebe 161px,#fff5b4 177px,#fedf99 181px,#fdbe74 205px,#fdb76b 277px,#fdb86d 391px,#fdb86d)"></i><i style="background:linear-gradient(90deg,#f4fac5,#fafdc2 128px,#fffebe 161px,#fff5b4 177px,#fedf99 181px,#fdbe74 205px,#fdb76c 277px,#fdb96d 391px,#fdb96d)"></i><i style="height:2px;background:linear-gradient(90deg,#f4fac5,#fafdc1 128px,#fffebe 161px,#fff5b4 177px,#fedf99 181px,#fdbe74 205px,#fdb76c 277px,#fdb96e 391px,#fdb96e)"></i><i style="background:linear-gradient(90deg,#f4fac5,#fafdc1 128px,#fffebe 161px,#fff5b4 177px,#fedf99 181px,#fdbe74 205px,#fdb86c 286px,#fdba6e 388px,#fdba6e)"></i><i style="background:linear-gradient(90deg,#f4fac5,#fafdc1 128px,#fffebe 161px,#fff5b4 177px,#fedf99 181px,#fdbe74 205px,#fdb86c 286px,#fdba6f 388px,#fdba6f)"></i><i style="height:2px;background:linear-gradient(90deg,#f4fac5,#fafdc1 128px,#fffebe 161px,#fff5b4 177px,#fedf99 181px,#fdbe74 205px,#fdb86d 286px,#fdba6f 388px,#fdba6f)"></i><i style="height:2px;background:linear-gradient(90deg,#f4fac5,#fafdc1 128px,#fffebd 161px,#fff5b4 177px,#fedf99 181px,#fdbe74 205px,#fdb96d 286px,#fdbb70 388px,#fdbb70)"></i><i style="background:linear-gradient(90deg,#f4fac5,#fafdc1 128px,#fffebd 161px,#fff5b4 177px,#fedf99 181px,#fdbe74 205px,#fdb96e 296px,#fdbb70 387px,#fdbb70)"></i><i style="background:linear-gradient(90deg,#f4fac5,#fafdc1 128px,#fffebd 161px,#fff5b4 177px,#fedf99 181px,#fdbe74 205px,#fdb96e 296px,#fdbc71 387px,#fdbc71)"></i><i style="background:linear-gradient(90deg,#f4fac4,#fafdc1 128px,#fffebd 161px,#fff5b4 177px,#fedf99 181px,#fdbe74 205px,#fdba6e 296px,#fdbc71 387px,#fdbc71)"></i><i style="background:linear-gradient(90deg,#f4fac4,#fafdc1 128px,#fffebd 161px,#fff5b4 177px,#fedf99 181px,#fdbe74 205px,#fdba6f 296px,#fdbc71 387px,#fdbc72)"></i><i style="background:linear-gradient(90deg,#f4fac4,#fafdc1 128px,#fffdbd 161px,#fff5b4 177px,#fedf99 181px,#fdbe74 205px,#fdba6f 296px,#fdbd72 387px,#fdbd72)"></i><i style="background:linear-gradient(90deg,#f4fac4,#fafdc1 128px,#fffdbd 161px,#fff5b4 177px,#fedf99 181px,#fdbe74 205px,#fdba6f 307px,#fdbd72 388px,#fdbd72)"></i><i style="background:linear-gradient(90deg,#f4fac4,#fafdc1 128px,#fffdbd 161px,#fff5b4 177px,#fedf99 181px,#fdbe74 205px,#fdbb70 307px,#fdbd73 388px,#fdbd73)"></i><i style="background:linear-gradient(90deg,#f4fac4,#fbfdc1 128px,#fffdbd 161px,#fff5b4 177px,#fedf99 181px,#fdbe74 205px,#fdbb70 307px,#fdbe73 388px,#fdbe73)"></i><i style="background:linear-gradient(90deg,#f4fac4,#fbfdc1 128px,#fffdbd 161px,#fff5b4 177px,#fedf99 181px,#fdbf75 205px,#fdbb70 296px,#fdbe73 387px,#fdbe73)"></i><i style="background:linear-gradient(90deg,#f4fac4,#fbfdc1 128px,#fffdbd 161px,#fff5b4 177px,#fedf99 181px,#fdbf75 205px,#fdbb70 286px,#fdbe74 388px,#fdbe74)"></i><i style="background:linear-gradient(90deg,#f4fac4,#fbfdc1 128px,#fffdbd 161px,#fff5b4 177px,#fedf99 181px,#fdc075 205px,#fdbb70 286px,#fdbe74 388px,#fdbf74)"></i><i style="background:linear-gradient(90deg,#f4fac4,#fbfdc1 128px,#fffdbd 161px,#fff5b4 177px,#fedf99 181px,#fdc075 205px,#fdbb70 286px,#fdbf74 388px,#fdbf75)"></i><i style="background:linear-gradient(90deg,#f4fac4,#fbfdc1 128px,#fffdbd 161px,#fff5b4 177px,#fedf99 181px,#fdc076 205px,#fdbb71 286px,#fdbf75 388px,#fdbf75)"></i><i style="background:linear-gradient(90deg,#f4fac4,#fbfdc1 128px,#fffdbd 161px,#fff5b4 177px,#fedf99 181px,#fdc076 205px,#fdbc71 277px,#fdc075 391px,#fdc075)"></i><i style="background:linear-gradient(90deg,#f4fac4,#fbfdc1 128px,#fffdbd 161px,#fff5b4 177px,#fedf99 181px,#fdbe74 208px,#fdbd73 336px,#fdc076 387px,#fdc076)"></i><i style="background:linear-gradient(90deg,#f4fac4,#fbfdc1 128px,#fffdbd 161px,#fff5b4 177px,#fedf99 181px,#fdbe74 208px,#fdbe73 336px,#fdc076 387px,#fdc076)"></i><i style="background:linear-gradient(90deg,#f4fac4,#fbfdc1 128px,#fffdbd 161px,#fff5b4 177px,#fedf99 181px,#fdbe74 208px,#fdbe73 336px,#fdc177 387px,#fdc177)"></i><i style="background:linear-gradient(90deg,#f4fac4,#fbfdc1 128px,#fffdbd 161px,#fff5b4 177px,#fedf99 181px,#fdbe74 208px,#fdbe74 336px,#fdc177 387px,#fdc177)"></i><i style="background:linear-gradient(90deg,#f4fac4,#fbfdc1 128px,#fffdbd 161px,#fff5b4 177px,#fedf99 181px,#fdbe74 208px,#fdbe74 336px,#fdc177 387px,#fdc178)"></i><i style="background:linear-gradient(90deg,#f4fac4,#fbfdc1 128px,#fffdbd 161px,#fff5b4 177px,#fedf99 181px,#fdbe74 208px,#fdbf74 336px,#fdc278 387px,#fdc278)"></i><i style="background:linear-gradient(90deg,#f4fac4,#fbfdc1 128px,#fffdbd 161px,#fff5b4 177px,#fedf99 181px,#fdbe74 211px,#fdbf75 339px,#fdc278 390px,#fdc278)"></i><i style="height:2px;background:linear-gradient(90deg,#f4fac4,#fbfdc1 128px,#fffdbd 161px,#fff5b4 177px,#fedf99 181px,#fdbe74 211px,#fdc076 339px,#fec379 390px,#fec379)"></i><i style="background:linear-gradient(90deg,#f4fac4,#fbfdc1 128px,#fffdbd 161px,#fff5b4 177px,#fedf99 181px,#fdbe74 211px,#fdc076 325px,#fec37a 389px,#fec37a)"></i><i style="background:linear-gradient(90deg,#f4fac4,#fbfdc1 128px,#fffebd 161px,#fff5b4 177px,#fedf99 181px,#fdbe74 211px,#fdc076 325px,#fec47a 389px,#fec47a)"></i><i style="background:linear-gradient(90deg,#f4fac4,#fbfdc1 128px,#fffebd 161px,#fff5b4 177px,#fedf99 181px,#fdbe74 214px,#fdc177 328px,#fec47b)"></i><i style="background:linear-gradient(90deg,#f4fac4,#fbfdc1 128px,#fffebd 161px,#fff5b4 177px,#fedf99 181px,#fdbe74 214px,#fdc177 316px,#fec57b 388px,#fec57b)"></i><i style="background:linear-gradient(90deg,#f4fac4,#fbfdc1 128px,#fffebd 161px,#fff5b4 177px,#fedf99 182px,#fdbe74 215px,#fdc177 317px,#fec57c 389px,#fec57c)"></i><i style="background:linear-gradient(90deg,#f4fac4,#fbfdc1 128px,#fffebd 161px,#fff5b4 177px,#fedf99 182px,#fdbe74 215px,#fdc177 306px,#fec67c 387px,#fec67c)"></i><i style="background:linear-gradient(90deg,#f4fac4,#fbfdc1 128px,#fffebd 161px,#fff5b4 177px,#fff5b4 178px,#fedf99 182px,#fdbf75 215px,#fdc177 296px,#fec67d 387px,#fec67d)"></i><i style="background:linear-gradient(90deg,#f4fac4,#fbfdc1 128px,#fffebe 161px,#fff6b4 177px,#fff5b4 178px,#fedf99 182px,#fdbe74 219px,#fec379 321px,#fec67d 385px,#fec67d)"></i><i style="background:linear-gradient(90deg,#f4fac4,#fbfdc1 128px,#fffebe 161px,#fff6b4 177px,#fff5b4 178px,#fedf99 182px,#fdbe74 219px,#fec47a 321px,#fec77e 385px,#fec77e)"></i><i style="background:linear-gradient(90deg,#f4fac4,#fbfdc1 128px,#fffebe 161px,#fff6b4 177px,#fff5b4 178px,#fedf99 182px,#fdbf75 219px,#fdc177 283px,#fec77e 385px,#fec77e)"></i><i style="background:linear-gradient(90deg,#f4fac4,#fbfdc1 128px,#fffebe 161px,#fff6b4 177px,#fff5b4 178px,#fedf99 182px,#fdbe74 223px,#fec87f 385px,#fec87f)"></i><i style="background:linear-gradient(90deg,#f4fac4,#fbfdc1 128px,#fffebe 161px,#fff6b4 177px,#fff5b4 178px,#fedf99 182px,#fdbf75 223px,#fec87f 385px,#fec87f)"></i><i style="background:linear-gradient(90deg,#f4fac4,#fbfdc1 128px,#fffebe 161px,#fff6b4 177px,#fff5b4 178px,#fedf99 182px,#fdc076 223px,#fdc278 269px,#fec880 383px,#fec980)"></i><i style="background:linear-gradient(90deg,#f4fac4,#fbfdc1 128px,#fffebe 161px,#fff6b4 177px,#fff5b4 178px,#fedf99 182px,#fdc177 223px,#fec980 385px,#fec980)"></i><i style="background:linear-gradient(90deg,#f5fac4,#fbfdc1 128px,#fffebe 161px,#fff6b4 177px,#fff5b4 178px,#fedf99 182px,#fdc278 223px,#fec57c 295px,#fec981 386px,#fec981)"></i><i style="background:linear-gradient(90deg,#f5fac4,#fbfdc1 128px,#fffebe 161px,#fff6b4 177px,#fff5b4 178px,#fedf99 182px,#fec37a 223px,#fec57c 287px,#feca81 389px,#feca81)"></i><i style="background:linear-gradient(90deg,#f5fac4,#fafdc1 128px,#fffcbc 165px,#fff5b4 178px,#fedf99 183px,#fec57c 220px,#fec379 253px,#feca82 381px,#feca82)"></i><i style="background:linear-gradient(90deg,#f5fac4,#fafdc1 128px,#fffcbc 165px,#fff5b4 178px,#fedf99 183px,#fec57b 224px,#fec77e 305px,#fecb82 386px,#fecb82)"></i><i style="background:linear-gradient(90deg,#f5fac4,#fafdc1 128px,#fffdbc 165px,#fff5b4 179px,#fedf99 183px,#fec67c 224px,#fec77e 296px,#fecb83 387px,#fecb83)"></i><i style="background:linear-gradient(90deg,#f5fac4,#fafdc1 128px,#fffdbc 165px,#fff5b4 179px,#fedf99 183px,#fec67d 224px,#fec77e 288px,#fecc83 390px,#fecc83)"></i><i style="background:linear-gradient(90deg,#f5fac4,#fafdc1 128px,#fffdbc 165px,#fff5b4 179px,#fedf99 183px,#fec77e 224px,#fec87f 288px,#fecc84 390px,#fecc84)"></i><i style="background:linear-gradient(90deg,#f5fac4,#fcfec0 144px,#fffcbc 166px,#fff5b4 179px,#fedf99 183px,#fec87f 224px,#fec87f 288px,#fecd85 390px,#fecd85)"></i><i style="background:linear-gradient(90deg,#f5fac4,#fcfec0 144px,#fffcbc 166px,#fff5b4 179px,#fedf99 183px,#fec980 224px,#fec980 288px,#fecd85 390px,#fecd85)"></i><i style="background:linear-gradient(90deg,#f5fac4,#fcfec0 144px,#fffdbc 166px,#fff5b4 179px,#fedf99 184px,#fec981 225px,#feca81 297px,#fecd86 388px,#fece86)"></i><i style="background:linear-gradient(90deg,#f5fac4,#fcfec0 144px,#fffdbc 166px,#fff5b4 179px,#fedf99 184px,#feca81 225px,#feca82 297px,#fece86 388px,#fece86)"></i><i style="background:linear-gradient(90deg,#f5fac4,#fcfec0 144px,#fffdbd 166px,#fff5b4 180px,#fedf99 184px,#fecb82 225px,#fecb83 297px,#fece87 388px,#fece87)"></i><i style="background:linear-gradient(90deg,#f5fac4,#fcfec0 144px,#fffdbd 166px,#fff5b4 180px,#fedf99 184px,#fecb83 225px,#fecc83 297px,#fecf87 388px,#fecf87)"></i><i style="background:linear-gradient(90deg,#f5fac4,#fcfec0 144px,#fffdbd 166px,#fff5b4 180px,#fedf99 184px,#fecc84 225px,#fecc84 297px,#fecf88 388px,#fecf88)"></i><i style="background:linear-gradient(90deg,#f5fac4,#fcfec0 144px,#fffcbc 168px,#fff5b4 180px,#fedf99 185px,#fecc84 226px,#fecd85 307px,#fed088 388px,#fed088)"></i><i style="background:linear-gradient(90deg,#f5fac4,#fcfec0 144px,#fffcbc 168px,#fff5b4 180px,#fedf99 185px,#fecd85 226px,#fece86 307px,#fed089 388px,#fed089)"></i><i style="background:linear-gradient(90deg,#f5fac4,#fcfec1 144px,#fffdbc 168px,#fff5b4 181px,#fedf99 185px,#fece86 226px,#fecf87 317px,#fed189 389px,#fed189)"></i><i style="background:linear-gradient(90deg,#f5fac4,#fcfec1 144px,#fffdbc 168px,#fff5b4 181px,#fedf99 185px,#fece87 226px,#fecf87 317px,#fed18a 389px,#fed18a)"></i><i style="background:linear-gradient(90deg,#f5fac4,#fcfec1 144px,#fffdbd 168px,#fff5b4 181px,#fedf99 186px,#fecf87 227px,#fed189 341px,#fed28a)"></i><i style="background:linear-gradient(90deg,#f5fac4,#fcfec1 144px,#fffdbd 168px,#fff5b4 181px,#fedf99 186px,#fecf88 227px,#fed28a 355px,#fed28b)"></i><i style="background:linear-gradient(90deg,#f5fac4,#fcfec1 144px,#fffdbd 168px,#fff2b0 182px,#fedf99 186px,#fecf88 232px,#fed28b 376px,#fed38b)"></i><i style="background:linear-gradient(90deg,#f5fac4,#fcfdc1 144px,#fffdbd 168px,#fff5b4 182px,#fedf99 187px,#fed089 228px,#fed38c 390px,#fed38c)"></i><i style="background:linear-gradient(90deg,#f5fac4,#fcfdc1 144px,#fffebd 168px,#fff5b4 182px,#fedf99 187px,#fed18a 228px,#fed48d 390px,#fed48d)"></i><i style="background:linear-gradient(90deg,#f4fac4,#fcfdc1 144px,#fffebe 168px,#fff5b4 182px,#fedf99 187px,#fed189 233px,#fed48d 377px,#fed48d)"></i><i style="background:linear-gradient(90deg,#f4fac4,#fbfdc1 144px,#fffcbc 171px,#fff5b4 183px,#fedf99 188px,#fed18a 234px,#fed48e 378px,#fed48e)"></i><i style="background:linear-gradient(90deg,#f4fac4,#fbfdc1 144px,#fffdbc 171px,#fff5b4 183px,#fedf99 188px,#fed28b 234px,#fed58e 378px,#fed58e)"></i><i style="background:linear-gradient(90deg,#f4fac4,#fbfdc1 144px,#fffdbc 171px,#fff5b4 183px,#fedf99 188px,#fed38b 234px,#fed58f 378px,#fed58f)"></i><i style="background:linear-gradient(90deg,#f4fac4,#fbfdc1 144px,#fffdbd 171px,#fff3b1 184px,#fedf99 189px,#fed38c 235px,#fed68f 379px,#fed68f)"></i><i style="background:linear-gradient(90deg,#f4fac4,#fbfdc1 144px,#fffdbd 171px,#fff5b4 184px,#fedf99 189px,#fed48d 235px,#fed690 379px,#fed690)"></i><i style="background:linear-gradient(90deg,#f4fac4,#fbfdc1 144px,#fffebd 171px,#fff5b4 184px,#fedf99 189px,#fed48d 235px,#fed790 379px,#fed790)"></i><i style="background:linear-gradient(90deg,#f4fac4,#fbfdc1 144px,#fffebe 171px,#fff3b1 185px,#fedf99 190px,#fed58e 236px,#fed791 380px,#fed791)"></i><i style="background:linear-gradient(90deg,#f4fac4,#fbfdc1 144px,#fffebe 171px,#fff5b4 185px,#fedf99 190px,#fed58e 241px,#fed891 385px,#fed892)"></i><i style="background:linear-gradient(90deg,#f4fac4,#fbfdc1 144px,#fffdbc 174px,#fff5b4 185px,#fedf99 191px,#fed58f 242px,#fed892 386px,#fed892)"></i><i style="background:linear-gradient(90deg,#f4fac4,#fbfdc1 144px,#fffdbd 174px,#fff3b1 186px,#fedf99 191px,#fed68f 242px,#fed993 386px,#fed993)"></i><i style="background:linear-gradient(90deg,#f4fac4,#fbfdc1 144px,#fffdbd 174px,#fff5b4 186px,#fedf99 192px,#fed690 243px,#fed993 387px,#fed993)"></i><i style="background:linear-gradient(90deg,#f4fac4,#fbfdc1 144px,#fffebd 174px,#fff3b1 187px,#fedf99 192px,#fed791 243px,#feda94 387px,#feda94)"></i><i style="background:linear-gradient(90deg,#f4fac4,#fafdc1 144px,#fffebe 174px,#fff5b4 187px,#fedf99 193px,#fed891 244px,#feda94 388px,#feda94)"></i><i style="background:linear-gradient(90deg,#f4fac4,#fafdc1 144px,#fffebe 174px,#fff3b1 188px,#fedf99 193px,#fed892 250px,#fedb95 378px,#fedb95)"></i><i style="background:linear-gradient(90deg,#f4fac4,#fafdc1 144px,#fffdbc 177px,#fff5b4 188px,#fedf99 193px,#fed992 250px,#fedb95 378px,#fedb95)"></i><i style="background:linear-gradient(90deg,#f4fac4,#fafdc1 144px,#fffdbd 177px,#fff2b0 189px,#fedf99 194px,#fed993 251px,#fedc96 379px,#fedc96)"></i><i style="background:linear-gradient(90deg,#f4fac4,#fafdc1 144px,#fffdbd 177px,#fff5b4 189px,#fedf99 195px,#feda94 252px,#fedc97 380px,#fedc97)"></i><i style="background:linear-gradient(90deg,#f4fac4,#fafdc2 144px,#fffebe 177px,#fff2b0 190px,#fedf99 195px,#feda95 259px,#fedd97 387px,#fedd97)"></i><i style="background:linear-gradient(90deg,#f4fac4,#fafdc2 144px,#fffebe 177px,#fff5b4 190px,#fedf99 196px,#fedb95 260px,#fedd98 388px,#fedd98)"></i><i style="background:linear-gradient(90deg,#f4fac4,#fafdc2 144px,#ffffbf 177px,#fff3b1 191px,#fedf99 196px,#fedc96 268px,#fede98 382px,#fede98)"></i><i style="background:linear-gradient(90deg,#f4fac4,#fafdc2 144px,#fffdbc 181px,#fff5b4 191px,#fedf99 197px,#fedc97 278px,#fede99)"></i><i style="background:linear-gradient(90deg,#f4fac4,#fafdc2 144px,#fffdbd 181px,#fff3b1 192px,#fedf99 198px,#fede98 312px,#fedf99 384px,#fedf99)"></i><i style="background:linear-gradient(90deg,#f4fac4,#f9fcc2 144px,#fffebd 181px,#fff5b4 192px,#fedf99 198px,#fedf99 360px,#fee19d 390px,#fee19d)"></i><i style="background:linear-gradient(90deg,#f4fac4,#f9fcc2 144px,#fffebe 181px,#fff5b4 193px,#fedf99 199px,#fedf99 327px,#fee29d 351px,#fee4a0)"></i><i style="background:linear-gradient(90deg,#f4fac4,#f9fcc2 144px,#ffffbf 181px,#fff3b1 194px,#fedf99 200px,#fedf99 281px,#fee7a3 383px,#fee7a3)"></i><i style="background:linear-gradient(90deg,#f4fac4,#f9fcc2 144px,#ffffbf 181px,#fff2b0 195px,#fedf99 202px,#fedf99 259px,#fee29d 272px,#feeaa7 386px,#feeaa7)"></i><i style="background:linear-gradient(90deg,#f4fac4,#f9fcc2 144px,#fffdbd 185px,#fff2b0 196px,#fedf99 203px,#fedf99 240px,#fee5a1 277px,#ffedaa 391px,#ffedaa)"></i><i style="background:linear-gradient(90deg,#f4fac4,#f9fcc2 144px,#fffebd 185px,#fff2b0 197px,#fedf99 205px,#fedf99 229px,#fee5a1 253px,#ffefac 367px,#fff0ad 391px,#fff0ad)"></i><i style="background:linear-gradient(90deg,#f4fac4,#f9fcc2 144px,#fffebe 185px,#fff2b0 198px,#fee39e 206px,#fedf99 216px,#fee8a5 253px,#fff2b0 367px,#fff2b0)"></i><i style="background:linear-gradient(90deg,#f4fac4,#f9fcc2 144px,#ffffbf 185px,#fff3b1 199px,#fee6a2 207px,#fee49f 217px,#ffefac 274px,#fff2b0 338px,#fff5b4 371px,#fff5b4)"></i><i style="background:linear-gradient(90deg,#f4fac4,#f8fcc2 144px,#ffffbf 185px,#fff2b0 201px,#fee7a3 211px,#fff2b0 275px,#fff6b5 366px,#fff6b5)"></i><i style="background:linear-gradient(90deg,#f4fac4,#fafdc1 162px,#fffebd 189px,#fff2b0 203px,#feeaa7 214px,#fff5b4 265px,#fff7b6 379px,#fff7b6)"></i><i style="background:linear-gradient(90deg,#f4fac4,#fafdc1 162px,#fffebe 189px,#ffeeab 213px,#fff3b1 237px,#fff8b7 381px,#fff8b7)"></i><i style="background:linear-gradient(90deg,#f4fac4,#fafdc1 162px,#fffdbd 192px,#fff2b0 212px,#fff7b6 276px,#fff9b8 390px,#fff9b8)"></i><i style="background:linear-gradient(90deg,#f4fac4,#fafdc2 162px,#fffebe 192px,#fff5b4 210px,#fffaba)"></i><i style="background:linear-gradient(90deg,#f4fac4,#fafdc2 162px,#fffdbd 195px,#fff7b5 213px,#fffbbb 375px,#fffbbb)"></i><i style="background:linear-gradient(90deg,#f4fac4,#fafdc2 162px,#fffebe 195px,#fff8b7 215px,#fffcbc 377px,#fffcbc)"></i><i style="background:linear-gradient(90deg,#f4fac4,#f9fcc2 162px,#fffdbd 199px,#fff9b8 226px,#fffdbd 388px,#fffdbd)"></i><i style="background:linear-gradient(90deg,#f4fac4,#f9fcc2 162px,#fffebe 199px,#fffab9 229px,#fffebe 391px,#fffebe)"></i><i style="background:linear-gradient(90deg,#f4fac4,#f9fcc2 162px,#fffdbd 203px,#fffdbc 254px,#ffffbf 382px,#ffffbf)"></i><i style="background:linear-gradient(90deg,#f4fac5,#f9fcc2 162px,#fffdbd 208px,#ffffbf 390px,#ffffbf)"></i><i style="background:linear-gradient(90deg,#f4fac5,#f9fcc2 162px,#fffdbd 226px,#feffbf 388px,#feffbf)"></i><i style="height:2px;background:linear-gradient(90deg,#f4fac5,#f8fcc2 162px,#ffffbf 234px,#fefec0 378px,#fefec0)"></i><i style="background:linear-gradient(90deg,#f4fac5,#f8fcc3 162px,#feffbf 243px,#fdfec0 387px,#fdfec0)"></i><i style="background:linear-gradient(90deg,#f4fac5,#f8fcc3 162px,#fefec0 243px,#fdfec0 387px,#fdfec0)"></i><i style="background:linear-gradient(90deg,#f4fac5,#f8fcc3 162px,#fefec0 243px,#fcfec0 387px,#fcfec0)"></i><i style="background:linear-gradient(90deg,#f4fac5,#f7fcc3 162px,#fdfec0 243px,#fcfec0 387px,#fcfec0)"></i><i style="background:linear-gradient(90deg,#f4fac5,#f7fbc3 162px,#fdfec0 243px,#fcfec1 387px,#fcfec1)"></i><i style="background:linear-gradient(90deg,#f4fac5,#f7fbc3 162px,#fcfec0 253px,#fbfdc1 381px,#fbfdc1)"></i><i style="background:linear-gradient(90deg,#f4fac5,#f7fbc3 162px,#fcfec1 253px,#fbfdc1 381px,#fbfdc1)"></i><i style="background:linear-gradient(90deg,#f4fac5,#f7fbc3 162px,#fcfdc1 253px,#fbfdc1 381px,#fbfdc1)"></i><i style="background:linear-gradient(90deg,#f3fac5,#f6fbc3 162px,#fbfdc1 253px,#fafdc1 381px,#fafdc1)"></i><i style="background:linear-gradient(90deg,#f3f9c5,#f8fcc2 182px,#fafdc1 364px,#fafdc1)"></i><i style="background:linear-gradient(90deg,#f2f9c5,#f8fcc2 182px,#fafdc2 386px,#fafdc2)"></i><i style="background:linear-gradient(90deg,#f2f9c6,#f8fcc3 182px,#f9fcc2 386px,#f9fcc2)"></i><i style="background:linear-gradient(90deg,#f1f9c6,#f7fcc3 182px,#f9fcc2 386px,#f9fcc2)"></i><i style="background:linear-gradient(90deg,#f1f8c6,#f7fbc3 182px,#f9fcc2 386px,#f9fcc2)"></i><i style="background:linear-gradient(90deg,#f0f8c6,#f7fbc3 182px,#f8fcc2 386px,#f8fcc2)"></i><i style="background:linear-gradient(90deg,#f0f8c7,#f5fac4 162px,#f9fcc2 276px,#f8fcc3 390px,#f8fcc3)"></i><i style="background:linear-gradient(90deg,#eff8c7,#f4fac4 162px,#f8fcc2 276px,#f8fcc3 390px,#f8fcc3)"></i><i style="background:linear-gradient(90deg,#eef8c7,#f4fac4 162px,#f8fcc3 276px,#f7fcc3 390px,#f7fcc3)"></i><i style="background:linear-gradient(90deg,#eef7c8,#f4fac4 162px,#f8fcc3 276px,#f7fbc3 390px,#f7fbc3)"></i><i style="background:linear-gradient(90deg,#edf7c8,#f1f9c6 144px,#f7fcc3 246px,#f7fbc3 390px,#f7fbc3)"></i><i style="background:linear-gradient(90deg,#edf7c8,#f1f9c6 144px,#f7fcc3 235px,#f6fbc3 379px,#f6fbc3)"></i><i style="background:linear-gradient(90deg,#ecf7c8,#f0f8c6 144px,#f7fbc3 235px,#f6fbc4 379px,#f6fbc4)"></i><i style="background:linear-gradient(90deg,#ecf6c9,#f0f8c7 144px,#f7fbc3 225px,#f6fbc4 387px,#f6fbc4)"></i><i style="background:linear-gradient(90deg,#ebf6c9,#eff8c7 144px,#f6fbc3 225px,#f5fbc4 387px,#f5fbc4)"></i><i style="background:linear-gradient(90deg,#ebf6c9,#eef7c7 144px,#f6fbc3 216px,#f5fac4 378px,#f5fac4)"></i><i style="background:linear-gradient(90deg,#eaf6c9,#eef7c8 144px,#f6fbc4 216px,#f4fac4 378px,#f4fac4)"></i><i style="background:linear-gradient(90deg,#eaf5ca,#edf7c8 144px,#f5fbc4 208px,#f4fac4 390px,#f4fac4)"></i><i style="background:linear-gradient(90deg,#e9f5ca,#edf7c8 144px,#f5fbc4 208px,#f4fac5 390px,#f4fac5)"></i><i style="background:linear-gradient(90deg,#e8f5ca,#ecf6c9 144px,#f5fac4 208px,#f3fac5 390px,#f3fac5)"></i><i style="background:linear-gradient(90deg,#e8f5cb,#ebf6c9 144px,#f4fac4 208px,#f2f9c5 390px,#f2f9c5)"></i><i style="background:linear-gradient(90deg,#e7f4cb,#ebf6c9 144px,#f4fac4 201px,#f1f9c6 383px,#f1f9c6)"></i><i style="background:linear-gradient(90deg,#e7f4cb,#eaf6c9 144px,#f4fac4 201px,#f0f8c6 383px,#f0f8c6)"></i><i style="background:linear-gradient(90deg,#e6f4cb,#eaf5ca 144px,#f4fac5 208px,#eff8c7 390px,#eff8c7)"></i><i style="background:linear-gradient(90deg,#e6f4cc,#e9f5ca 144px,#f3f9c5 208px,#eff8c7 390px,#eff8c7)"></i><i style="background:linear-gradient(90deg,#e5f3cc,#ebf6c9 162px,#f2f9c6 208px,#eef7c8 390px,#eef7c8)"></i><i style="background:linear-gradient(90deg,#e5f3cc,#eaf5ca 162px,#f0f8c6 213px,#edf7c8 375px,#edf7c8)"></i><i style="background:linear-gradient(90deg,#e4f3cc,#e9f5ca 162px,#eff8c7 213px,#ecf6c8 375px,#ecf6c8)"></i><i style="background:linear-gradient(90deg,#e4f3cd,#e9f5ca 162px,#eff8c7 213px,#ebf6c9 375px,#ebf6c9)"></i><i style="background:linear-gradient(90deg,#e3f2cd,#e8f5cb 162px,#eef7c8 213px,#eaf6c9 375px,#eaf6c9)"></i><i style="background:linear-gradient(90deg,#e2f2cd,#e7f4cb 162px,#edf7c8 219px,#e9f5ca 381px,#e9f5ca)"></i><i style="background:linear-gradient(90deg,#e2f2ce,#e7f4cb 162px,#ecf6c9 219px,#e9f5ca 381px,#e9f5ca)"></i><i style="background:linear-gradient(90deg,#e1f2ce,#e6f4cc 162px,#ebf6c9 219px,#e8f4cb 381px,#e8f4cb)"></i><i style="background:linear-gradient(90deg,#e1f1ce,#e5f3cc 162px,#eaf5ca 219px,#e7f4cb 381px,#e7f4cb)"></i><i style="background:linear-gradient(90deg,#e0f1ce,#e5f3cc 162px,#e9f5ca 219px,#e6f4cb 381px,#e6f4cb)"></i><i style="background:linear-gradient(90deg,#e0f1cf,#e4f3cd 162px,#e8f5cb 226px,#e5f3cc 388px,#e5f3cc)"></i><i style="background:linear-gradient(90deg,#dff1cf,#e3f2cd 162px,#e7f4cb 226px,#e4f3cc 388px,#e4f3cc)"></i><i style="background:linear-gradient(90deg,#dff0cf,#e2f2cd 162px,#e6f4cb 226px,#e3f3cd 388px,#e3f3cd)"></i><i style="background:linear-gradient(90deg,#def0d0,#e2f2ce 162px,#e5f3cc 226px,#e3f2cd 388px,#e3f2cd)"></i><i style="background:linear-gradient(90deg,#ddf0d0,#e1f1ce 162px,#e4f3cc 226px,#e2f2ce 388px,#e2f2ce)"></i><i style="background:linear-gradient(90deg,#dcefd0,#e0f1ce 162px,#e3f3cd 226px,#e1f1ce 388px,#e1f1ce)"></i><i style="background:linear-gradient(90deg,#dbefd1,#e0f1cf 162px,#e3f2cd 226px,#e0f1cf 388px,#e0f1cf)"></i><i style="background:linear-gradient(90deg,#daeed1,#dff0cf 162px,#e2f2ce 226px,#dff1cf 388px,#dff1cf)"></i><i style="background:linear-gradient(90deg,#d9eed2,#def0cf 162px,#e1f1ce 226px,#def0cf 388px,#def0cf)"></i><i style="background:linear-gradient(90deg,#d8edd2,#dbefd1 144px,#e0f1ce 216px,#ddf0d0 378px,#ddf0d0)"></i><i style="background:linear-gradient(90deg,#d7edd3,#daeed1 144px,#e0f1cf 208px,#dcefd0 390px,#dcefd0)"></i><i style="background:linear-gradient(90deg,#d6ecd3,#d9eed2 144px,#dff1cf 208px,#dbefd1 390px,#dbefd1)"></i><i style="background:linear-gradient(90deg,#d5ecd4,#d8edd3 144px,#def0cf 208px,#daeed2 390px,#daeed2)"></i><i style="background:linear-gradient(90deg,#d4ecd5,#d7edd3 144px,#def0cf 201px,#d8eed2 363px,#d8eed2)"></i><i style="background:linear-gradient(90deg,#d3ebd5,#d5ecd4 144px,#ddf0d0 201px,#d7edd3 345px,#d7edd3)"></i><i style="background:linear-gradient(90deg,#d2ebd6,#d4ecd4 144px,#dcefd1 201px,#d6ecd4 345px,#d6ecd4)"></i><i style="background:linear-gradient(90deg,#d1ead6,#d5ecd4 162px,#d9eed2 208px,#d5ecd4 390px,#d5ecd4)"></i><i style="background:linear-gradient(90deg,#d0ead7,#d4ecd5 162px,#d8edd3 208px,#d3ebd5 390px,#d3ebd5)"></i><i style="background:linear-gradient(90deg,#cfe9d7,#d3ebd5 162px,#d7edd3 208px,#d2ebd5 390px,#d2ebd5)"></i><i style="background:linear-gradient(90deg,#cde9d8,#d1ead6 162px,#d5ecd4 208px,#d1ead6 390px,#d1ead6)"></i><i style="background:linear-gradient(90deg,#cce8d8,#d0ead6 162px,#d3ebd5 213px,#d0ead7 375px,#d0ead7)"></i><i style="background:linear-gradient(90deg,#cbe8d9,#cfe9d7 162px,#d2ebd6 213px,#cee9d7 375px,#cee9d7)"></i><i style="background:linear-gradient(90deg,#cae7d9,#cee9d8 162px,#d0ead6 213px,#cde8d8 375px,#cde8d8)"></i><i style="background:linear-gradient(90deg,#c9e7da,#cce8d8 162px,#cfe9d7 213px,#cce8d9 375px,#cce8d9)"></i><i style="background:linear-gradient(90deg,#c8e6da,#cbe7d9 162px,#cee9d8 213px,#cbe7d9 375px,#cbe7d9)"></i><i style="background:linear-gradient(90deg,#c7e6db,#cae7da 162px,#cce8d8 213px,#c9e7da 375px,#c9e7da)"></i><i style="background:linear-gradient(90deg,#c5e5dc,#c8e6da 162px,#cbe7d9 213px,#c8e6da 375px,#c8e6da)"></i><i style="background:linear-gradient(90deg,#c4e4dd,#c7e6db 162px,#cae7da 213px,#c7e6db 375px,#c7e6db)"></i><i style="background:linear-gradient(90deg,#c2e3de,#c5e5dc 162px,#c8e6da 213px,#c5e5dc 375px,#c5e5dc)"></i><i style="background:linear-gradient(90deg,#c0e3de,#c4e4dd 162px,#c8e6da 203px,#c3e4dd 305px,#c3e4dd)"></i><i style="background:linear-gradient(90deg,#bee2df,#c2e4dd 162px,#c7e6db 203px,#c1e3de 294px,#c1e3de)"></i><i style="background:linear-gradient(90deg,#bde1e0,#c1e3de 162px,#c5e5dc 203px,#c0e2df 294px,#c0e2df)"></i><i style="background:linear-gradient(90deg,#bbe0e1,#bfe2df 162px,#c2e3de 208px,#bee1e0 322px,#bee1e0)"></i><i style="background:linear-gradient(90deg,#b9dfe2,#bde1e0 162px,#c0e3de 208px,#bce1e1 322px,#bce1e1)"></i><i style="background:linear-gradient(90deg,#b7dfe3,#bce0e1 162px,#bee2df 208px,#bae0e2 322px,#bae0e2)"></i><i style="background:linear-gradient(90deg,#b6dee4,#bae0e2 162px,#bce1e0 208px,#b8dfe2 322px,#b8dfe2)"></i><i style="background:linear-gradient(90deg,#b4dde4,#b8dfe2 162px,#bae0e2 213px,#b6dee3 341px,#b6dee3)"></i><i style="background:linear-gradient(90deg,#b2dce5,#b6dee3 162px,#b8dfe2 213px,#b4dde4 327px,#b4dde4)"></i><i style="background:linear-gradient(90deg,#b1dce6,#b5dde4 162px,#b6dee3 213px,#b2dce5 327px,#b2dce5)"></i><i style="background:linear-gradient(90deg,#aedbe7,#b3dce5 162px,#b4dde4 213px,#b1dce6 304px,#b1dce6)"></i><i style="background:linear-gradient(90deg,#acdae8,#b1dce6 162px,#b3dce5 208px,#aedae8 310px,#aedae7 391px,#aedae7)"></i><i style="background:linear-gradient(90deg,#a9d8e8,#acd9e8 144px,#b2dce5 201px,#abd9e9 282px,#acd9e9 384px,#acd9e9)"></i><i style="background:linear-gradient(90deg,#a6d5e7,#a9d8e8 144px,#b1dce6 195px,#a7d6e7 286px,#a8d7e8 388px,#a8d7e8)"></i><i style="background:linear-gradient(90deg,#a3d3e6,#a5d5e7 144px,#aedae8 195px,#a3d3e6 286px,#a4d4e6 388px,#a4d4e6)"></i><i style="background:linear-gradient(90deg,#9fd0e4,#a1d2e5 144px,#abd9e9 195px,#9ed0e4 286px,#a1d1e5 388px,#a1d1e5)"></i><i style="background:linear-gradient(90deg,#9ccee3,#9ecfe4 144px,#a7d6e7 195px,#9acce2 286px,#9dcfe3 388px,#9dcfe3)"></i><i style="background:linear-gradient(90deg,#98cbe2,#9acce2 144px,#a3d3e6 195px,#96c9e1 276px,#96c9e1 357px,#99cce2 390px,#99cce2)"></i><i style="background:linear-gradient(90deg,#95c9e0,#96c9e0 144px,#9ed0e4 195px,#95c9e0 252px,#92c6df 285px,#92c6df 357px,#95c9e0 377px,#95c9e0)"></i><i style="background:linear-gradient(90deg,#92c6df,#92c6df 144px,#9acce2 195px,#92c6df 246px,#92c6df 264px,#8dc3dd 270px,#8cc2dd 351px,#8ec4dd 358px,#92c6df 361px,#92c6df)"></i><i style="background:linear-gradient(90deg,#8cc2dd,#8dc3dd 144px,#92c6df 152px,#92c6df 174px,#96c9e0 186px,#95c9e0 208px,#92c6df 217px,#92c6df 233px,#8dc3dd 239px,#88bfdb 303px,#87beda 354px,#8bc1dc 372px,#8bc1dc)"></i><i style="background:linear-gradient(90deg,#86beda,#88bfdb 144px,#8fc4de 174px,#92c6df 181px,#92c6df 208px,#8cc2dd 222px,#83bbd9 286px,#82bbd9 358px,#84bcd9 391px,#84bcd9)"></i><i style="background:linear-gradient(90deg,#81bad8,#84bcd9 144px,#8dc3dd 195px,#7eb8d7 276px,#7cb6d6 357px,#7db7d7 390px,#7db7d7)"></i><i style="background:linear-gradient(90deg,#7bb5d6,#7fb8d7 144px,#87bedb 201px,#7ab5d5 265px,#79b4d5 311px,#75b1d3 335px,#77b2d4)"></i><i style="background:linear-gradient(90deg,#75b1d3,#76b2d4 57px,#79b4d5 81px,#7bb5d6 153px,#82bbd9 199px,#75b1d3 256px,#74b0d3 313px,#70add1 319px,#70add1)"></i><i style="background:linear-gradient(90deg,#70add1,#70add1 57px,#75b1d3 66px,#76b2d4 157px,#7eb7d7 198px,#75b1d3 231px,#73afd2 245px,#70add1 252px,#70add1 316px,#6aa9cf 321px,#69a8ce 385px,#69a8ce)"></i><i style="background:linear-gradient(90deg,#69a8ce,#6caad0 57px,#70add1 59px,#70add1 158px,#74b1d3 164px,#77b3d4 201px,#74b0d3 217px,#70add1 222px,#70add1 246px,#6aa9cf 251px,#69a8ce 315px,#64a5cd 331px,#62a3cc 388px,#62a3cc)"></i><i style="background:linear-gradient(90deg,#62a3cc,#65a5cd 57px,#69a8ce 148px,#6caad0 158px,#70add1 160px,#70add1 187px,#74b1d3 198px,#70add1 206px,#70add1 219px,#69a8cf 223px,#67a6ce 247px,#62a3cc 271px,#61a2cb 317px,#5b9ec9 389px,#5b9ec9)"></i><i style="background:linear-gradient(90deg,#5b9ec9,#5d9fca 57px,#62a3cc 148px,#69a8ce 175px,#6caad0 188px,#70add1 190px,#70add1 202px,#69a9cf 205px,#65a5cd 220px,#5ea0ca 253px,#599cc8 355px,#5599c6 371px,#5599c6)"></i><i style="background:linear-gradient(90deg,#5599c6,#579bc7 102px,#5b9ec9 115px,#5c9fc9 156px,#62a3cc 174px,#65a5cd 188px,#66a6cd 202px,#5b9ec9 229px,#589cc8 253px,#5599c6 273px,#5398c6 354px,#4e94c4 363px,#4e94c4)"></i><i style="background:linear-gradient(90deg,#4e94c4,#4e94c4 102px,#5499c6 105px,#579bc7 162px,#5b9ec9 175px,#5ea0ca 202px,#599cc8 218px,#5599c6 232px,#5197c5 254px,#4e94c4 257px,#4e94c4 359px,#488fc1 362px,#478fc1)"></i><i style="background:linear-gradient(90deg,#478fc1,#4a91c2 102px,#4e94c4 104px,#4e94c4 161px,#5599c6 167px,#5599c6 213px,#5297c5 218px,#4e94c4 220px,#4e94c4 253px,#478fc1 264px,#458ec0 355px,#408abe 373px,#408abe)"></i><i style="background:linear-gradient(90deg,#408abe,#438cbf 102px,#478fc1 132px,#4990c1 159px,#4e94c4 164px,#4e94c4 219px,#4890c1 224px,#478fc1 254px,#408abe 270px,#3e88bd 351px,#3a85bb 384px,#3a85bb)"></i><i style="background:linear-gradient(90deg,#3a85bb,#3b86bc 102px,#408abe 129px,#438cbf 159px,#478fc1 172px,#4a91c2 196px,#4e94c4 197px,#488fc1 200px,#458dc0 220px,#3e88bd 257px,#3a85bb 277px,#3884bb 349px,#3380b9 367px,#3380b9)"></i><i style="background:linear-gradient(90deg,#3380b9,#3481b9 102px,#3a85bb 124px,#3c87bc 157px,#408abe 177px,#428bbf 199px,#3884bb 256px,#3380b9 270px,#3380b9 342px,#307eb8 350px,#2c7bb6 352px,#2c7bb6)"></i><i style="background:linear-gradient(90deg,#2c7bb6,#2c7bb6 110px,#3280b9 113px,#3380b9 154px,#3a85bb 170px,#3a85bb 211px,#327fb8 257px,#2c7bb6 265px,#2c7bb6)"></i><i style="background:linear-gradient(90deg,#2c7bb6,#2c7bb6 155px,#327fb8 160px,#3481b9 197px,#317fb8 230px,#2c7bb6 237px,#2c7bb6)"></i><i style="background:linear-gradient(90deg,#2c7bb6,#2c7bb6 192px,#307eb8 195px,#2c7bb6 199px,#2c7bb6)"></i><i style="height:5px;background:#2c7bb6"></i></div>
<div class="fld" style="left:104px;top:729px;width:394px;height:373px"><i style="background:linear-gradient(90deg,#2c7bb6,#2c7bb6 194px,#92c6df 197px,#b1dce6 198px,#f4fac5 201px,#fedf99 202px,#fedf99 203px,#fdbb70 208px,#fed28b 322px,#fed58e 386px,#fed58e)"></i><i style="background:linear-gradient(90deg,#2c7bb6,#2c7bb6 194px,#92c6df 197px,#b1dce6 198px,#f4fac5 201px,#fedf99 202px,#fdc177 207px,#fdbb70 208px,#fed28b 322px,#fed58e 386px,#fed58e)"></i><i style="height:4px;background:linear-gradient(90deg,#2c7bb6,#2c7bb6 194px,#92c6df 197px,#b1dce6 198px,#f4fac5 201px,#fedf99 202px,#fdbb70 208px,#fed28b 322px,#fed58e 386px,#fed58e)"></i><i style="height:5px;background:linear-gradient(90deg,#2c7bb6,#2c7bb6 194px,#92c6df 197px,#b1dce6 198px,#f4fac5 201px,#fedf99 202px,#fdbb70 208px,#fed28b 322px,#fed58f 386px,#fed58f)"></i><i style="height:9px;background:linear-gradient(90deg,#2c7bb6,#2c7bb6 194px,#92c6df 197px,#b1dce6 198px,#f4fac5 201px,#fedf99 202px,#fdbb70 208px,#fed28b 322px,#fed68f 386px,#fed68f)"></i><i style="height:6px;background:linear-gradient(90deg,#2c7bb6,#2c7bb6 194px,#92c6df 197px,#b1dce6 198px,#f4fac5 201px,#fedf99 202px,#fdbb70 208px,#fed18a 310px,#fed690 391px,#fed690)"></i><i style="height:5px;background:linear-gradient(90deg,#2c7bb6,#2c7bb6 194px,#92c6df 197px,#b1dce6 198px,#f4fac5 201px,#fedf99 202px,#fdbb70 208px,#fed18a 310px,#fed790 391px,#fed790)"></i><i style="background:linear-gradient(90deg,#2c7bb6,#2c7bb6 194px,#92c6df 197px,#b1dce6 198px,#f4fac5 201px,#fedf99 202px,#fdbb70 208px,#fed18a 310px,#fed791 391px,#fed791)"></i><i style="height:4px;background:linear-gradient(90deg,#2c7bb6,#2c7bb6 194px,#92c6df 197px,#b1dce6 198px,#f4fac5 201px,#fedf99 202px,#fdbb70 208px,#fed28a 310px,#fed791 391px,#fed791)"></i><i style="height:2px;background:linear-gradient(90deg,#2c7bb6,#2c7bb6 194px,#92c6df 197px,#b1dce6 198px,#f4fac5 201px,#fedf99 202px,#fdbb70 208px,#fed28b 310px,#fed791 391px,#fed791)"></i><i style="height:3px;background:linear-gradient(90deg,#2c7bb6,#2c7bb6 194px,#92c6df 197px,#b1dce6 198px,#f4fac5 201px,#fedf99 202px,#fdbb70 208px,#fed28b 310px,#fed891 391px,#fed891)"></i><i style="height:5px;background:linear-gradient(90deg,#2c7bb6,#2c7bb6 194px,#92c6df 197px,#b1dce6 198px,#f4fac5 201px,#fedf99 202px,#fdbb70 208px,#fed28b 310px,#fed892 391px,#fed892)"></i><i style="background:linear-gradient(90deg,#2c7bb6,#2c7bb6 194px,#92c6df 197px,#b1dce6 198px,#f4fac5 201px,#fedf99 202px,#fdbb70 208px,#fed38b 310px,#fed892 391px,#fed892)"></i><i style="background:linear-gradient(90deg,#2c7bb6,#2c7bb6 194px,#92c6df 197px,#b1dce6 198px,#f4fac5 201px,#fedf99 202px,#fdbb70 208px,#fed38c 310px,#fed892 391px,#fed892)"></i><i style="height:2px;background:linear-gradient(90deg,#2c7bb6,#2c7bb6 194px,#92c6df 197px,#b1dce6 198px,#f4fac5 201px,#fedf99 202px,#fdbb70 208px,#fed38c 310px,#fed992 391px,#fed992)"></i><i style="height:6px;background:linear-gradient(90deg,#2c7bb6,#2c7bb6 194px,#92c6df 197px,#b1dce6 198px,#f4fac5 201px,#fedf99 202px,#fdbb70 208px,#fed38c 310px,#fed993 391px,#fed993)"></i><i style="background:linear-gradient(90deg,#2c7bb6,#2c7bb6 194px,#92c6df 197px,#b1dce6 198px,#f4fac5 201px,#fedf99 202px,#fdbb70 208px,#fed48d 310px,#fed993 391px,#fed993)"></i><i style="background:linear-gradient(90deg,#2c7bb6,#2c7bb6 194px,#92c6df 197px,#b1dce6 198px,#f4fac5 201px,#fedf99 202px,#fdbb70 208px,#fed48d 310px,#feda94 391px,#feda94)"></i><i style="height:5px;background:linear-gradient(90deg,#2c7bb6,#2c7bb6 194px,#92c6df 197px,#b1dce6 198px,#f4fac5 201px,#fedf99 202px,#fdbb70 208px,#fed28b 299px,#feda94 390px,#feda94)"></i><i style="background:linear-gradient(90deg,#2c7bb6,#2c7bb6 194px,#92c6df 197px,#b1dce6 198px,#f4fac5 201px,#fedf99 202px,#fdbb70 208px,#fed38b 299px,#feda94 390px,#feda94)"></i><i style="background:linear-gradient(90deg,#2c7bb6,#2c7bb6 194px,#92c6df 197px,#b1dce6 198px,#f4fac5 201px,#fedf99 202px,#fdbb70 208px,#fed38c 299px,#feda95 390px,#feda95)"></i><i style="height:5px;background:linear-gradient(90deg,#2c7bb6,#2c7bb6 194px,#92c6df 197px,#b1dce6 198px,#f4fac5 201px,#fedf99 202px,#fdbb70 208px,#fed38c 299px,#fedb95 390px,#fedb95)"></i><i style="background:linear-gradient(90deg,#2c7bb6,#2c7bb6 194px,#92c6df 197px,#b1dce6 198px,#f4fac5 201px,#fedf99 202px,#fdbb70 208px,#fed48d 299px,#fedb95 390px,#fedb96)"></i><i style="background:linear-gradient(90deg,#2c7bb6,#2c7bb6 194px,#92c6df 197px,#b1dce6 198px,#f4fac5 201px,#fedf99 202px,#fdbb70 208px,#fed48d 299px,#fedb96 390px,#fedb96)"></i><i style="height:4px;background:linear-gradient(90deg,#2c7bb6,#2c7bb6 194px,#92c6df 197px,#b1dce6 198px,#f4fac5 201px,#fedf99 202px,#fdbb70 208px,#fed48d 299px,#fedc96 390px,#fedc96)"></i><i style="background:linear-gradient(90deg,#2c7bb6,#2c7bb6 194px,#92c6df 197px,#b1dce6 198px,#f4fac5 201px,#fedf99 202px,#fdbb70 208px,#fed48e 299px,#fedc97 390px,#fedc97)"></i><i style="height:2px;background:linear-gradient(90deg,#2c7bb6,#2c7bb6 194px,#92c6df 197px,#b1dce6 198px,#f4fac5 201px,#fedf99 202px,#fdbb70 208px,#fed58e 299px,#fedc97 390px,#fedc97)"></i><i style="background:linear-gradient(90deg,#2c7bb6,#2c7bb6 194px,#92c6df 197px,#b1dce6 198px,#f4fac5 201px,#fedf99 202px,#fdbb70 208px,#fed38c 289px,#fedc97 380px,#fedd97)"></i><i style="height:2px;background:linear-gradient(90deg,#2c7bb6,#2c7bb6 194px,#92c6df 197px,#b1dce6 198px,#f4fac5 201px,#fedf99 202px,#fdbb70 208px,#fed38c 289px,#fedd97 380px,#fedd97)"></i><i style="background:linear-gradient(90deg,#2c7bb6,#2c7bb6 194px,#92c6df 197px,#b1dce6 198px,#f4fac5 201px,#fedf99 202px,#fdbb70 208px,#fed38c 289px,#fedd97 380px,#fedd98)"></i><i style="height:2px;background:linear-gradient(90deg,#2c7bb6,#2c7bb6 194px,#92c6df 197px,#b1dce6 198px,#f4fac5 201px,#fedf99 202px,#fdbb70 208px,#fed48d 289px,#fedd98 380px,#fedd98)"></i><i style="background:linear-gradient(90deg,#2c7bb6,#2c7bb6 194px,#92c6df 197px,#b1dce6 198px,#f4fac5 201px,#fedf99 202px,#fdbb70 208px,#fed48d 289px,#fedd98 380px,#fede98)"></i><i style="height:2px;background:linear-gradient(90deg,#2c7bb6,#2c7bb6 194px,#92c6df 197px,#b1dce6 198px,#f4fac5 201px,#fedf99 202px,#fdbb70 208px,#fed48d 289px,#fede98 380px,#fede99)"></i><i style="background:linear-gradient(90deg,#2c7bb6,#2c7bb6 194px,#92c6df 197px,#b1dce6 198px,#f4fac5 201px,#fedf99 202px,#fdbb70 208px,#fed48e 289px,#fede99 380px,#fede99)"></i><i style="background:linear-gradient(90deg,#2c7bb6,#2c7bb6 194px,#92c6df 197px,#b1dce6 198px,#f4fac5 201px,#fedf99 202px,#fdbb70 208px,#fed58e 289px,#fede99 380px,#fede99)"></i><i style="background:linear-gradient(90deg,#2c7bb6,#2c7bb6 194px,#92c6df 197px,#b1dce6 198px,#f4fac5 201px,#fedf99 202px,#fdbb70 208px,#fed58e 289px,#fede99 380px,#fedf99)"></i><i style="background:linear-gradient(90deg,#2c7bb6,#2c7bb6 194px,#92c6df 197px,#b1dce6 198px,#f4fac5 201px,#fedf99 202px,#fdbb70 208px,#fed58e 289px,#fede99 380px,#fedf9a)"></i><i style="height:2px;background:linear-gradient(90deg,#2c7bb6,#2c7bb6 194px,#92c6df 197px,#b1dce6 198px,#f4fac5 201px,#fedf99 202px,#fdbb70 208px,#fed58f 289px,#fedf9a 391px,#fedf9a)"></i><i style="background:linear-gradient(90deg,#2c7bb6,#2c7bb6 194px,#92c6df 197px,#b1dce6 198px,#f4fac5 201px,#fedf99 202px,#fdbb70 208px,#fed68f 289px,#fee09b 391px,#fee09b)"></i><i style="height:2px;background:linear-gradient(90deg,#2c7bb6,#2c7bb6 194px,#92c6df 197px,#b1dce6 198px,#f4fac5 201px,#fedf99 202px,#fdbb70 208px,#fed48d 280px,#fede99 361px,#fee09b 391px,#fee09b)"></i><i style="background:linear-gradient(90deg,#2c7bb6,#2c7bb6 194px,#92c6df 197px,#b1dce6 198px,#f4fac5 201px,#fedf99 202px,#fdbb70 208px,#fed48d 280px,#fedf9a 371px,#fee09c)"></i><i style="background:linear-gradient(90deg,#2c7bb6,#2c7bb6 194px,#92c6df 197px,#b1dce6 198px,#f4fac5 201px,#fedf99 202px,#fdbb70 208px,#fed48e 280px,#fee09b 371px,#fee19c)"></i><i style="background:linear-gradient(90deg,#2c7bb6,#2c7bb6 194px,#92c6df 197px,#b1dce6 198px,#f4fac5 201px,#fedf99 202px,#fdbb70 208px,#fed58e 280px,#fee09b 371px,#fee19c)"></i><i style="background:linear-gradient(90deg,#2c7bb6,#2c7bb6 194px,#92c6df 197px,#b1dce6 198px,#f4fac5 201px,#fedf99 202px,#fdbb70 208px,#fed58e 280px,#fee09b 371px,#fee19d)"></i><i style="background:linear-gradient(90deg,#2c7bb6,#2c7bb6 194px,#92c6df 197px,#b1dce6 198px,#f4fac5 201px,#fedf99 202px,#fdbb70 208px,#fed58e 280px,#fee19d 382px,#fee29d)"></i><i style="background:linear-gradient(90deg,#2c7bb6,#2c7bb6 194px,#92c6df 197px,#b1dce6 198px,#f4fac5 201px,#fedf99 202px,#fdbb70 208px,#fed58f 280px,#fee29d 382px,#fee29d)"></i><i style="background:linear-gradient(90deg,#2c7bb6,#2c7bb6 194px,#92c6df 197px,#b1dce6 198px,#f4fac5 201px,#fedf99 202px,#fdbb70 208px,#fed68f 280px,#fee29d 382px,#fee29e)"></i><i style="background:linear-gradient(90deg,#2c7bb6,#2c7bb6 194px,#92c6df 197px,#b1dce6 198px,#f4fac5 201px,#fedf99 202px,#fdbb70 208px,#fed68f 280px,#fee29e 382px,#fee39e)"></i><i style="background:linear-gradient(90deg,#2c7bb6,#2c7bb6 194px,#92c6df 197px,#b1dce6 198px,#f4fac5 201px,#fedf99 202px,#fdbb70 208px,#fed68f 280px,#fee39e 382px,#fee39f)"></i><i style="background:linear-gradient(90deg,#2c7bb6,#2c7bb6 194px,#92c6df 197px,#b1dce6 198px,#f4fac5 201px,#fedf99 202px,#fdbb70 208px,#fed690 280px,#fee39f 382px,#fee39f)"></i><i style="background:linear-gradient(90deg,#2c7bb6,#2c7bb6 194px,#92c6df 197px,#b1dce6 198px,#f4fac5 201px,#fedf99 202px,#fdbb70 208px,#fed690 280px,#fee39f 382px,#fee49f)"></i><i style="background:linear-gradient(90deg,#2c7bb6,#2c7bb6 194px,#92c6df 197px,#b1dce6 198px,#f4fac5 201px,#fedf99 202px,#fdbb70 208px,#fed790 280px,#fee49f 382px,#fee4a0)"></i><i style="background:linear-gradient(90deg,#2c7bb6,#2c7bb6 194px,#92c6df 197px,#b1dce6 198px,#f4fac5 201px,#fedf99 202px,#fdbb70 208px,#fed791 280px,#fee4a0 382px,#fee4a0)"></i><i style="background:linear-gradient(90deg,#2c7bb6,#2c7bb6 194px,#92c6df 197px,#b1dce6 198px,#f4fac5 201px,#fedf99 202px,#fdbb70 208px,#fed58e 272px,#fee39f 363px,#fee5a1)"></i><i style="background:linear-gradient(90deg,#2c7bb6,#2c7bb6 194px,#92c6df 197px,#b1dce6 198px,#f4fac5 201px,#fedf99 202px,#fdbb70 208px,#fed58f 272px,#fee49f 363px,#fee5a1)"></i><i style="background:linear-gradient(90deg,#2c7bb6,#2c7bb6 194px,#92c6df 197px,#b1dce6 198px,#f4fac5 201px,#fedf99 202px,#fdbb70 208px,#fed68f 272px,#fee4a0 363px,#fee6a1)"></i><i style="background:linear-gradient(90deg,#2c7bb6,#2c7bb6 194px,#92c6df 197px,#b1dce6 198px,#f4fac5 201px,#fedf99 202px,#fdbb70 208px,#fed68f 272px,#fee4a0 363px,#fee6a2)"></i><i style="background:linear-gradient(90deg,#2c7bb6,#2c7bb6 194px,#92c6df 197px,#b1dce6 198px,#f4fac5 201px,#fedf99 202px,#fdbb70 208px,#fed690 272px,#fee5a1 363px,#fee6a2)"></i><i style="background:linear-gradient(90deg,#2c7bb6,#2c7bb6 194px,#92c6df 197px,#b1dce6 198px,#f4fac5 201px,#fedf99 202px,#fdbb70 208px,#fed690 272px,#fee5a1 363px,#fee7a3)"></i><i style="background:linear-gradient(90deg,#2c7bb6,#2c7bb6 194px,#92c6df 197px,#b1dce6 198px,#f4fac5 201px,#fedf99 202px,#fdbb70 208px,#fed790 272px,#fee6a2 363px,#fee7a3)"></i><i style="background:linear-gradient(90deg,#2c7bb6,#2c7bb6 194px,#92c6df 197px,#b1dce6 198px,#f4fac5 201px,#fedf99 202px,#fdbb70 208px,#fed791 272px,#fee7a3 374px,#fee7a4 392px,#fee7a4)"></i><i style="background:linear-gradient(90deg,#2c7bb6,#2c7bb6 194px,#92c6df 197px,#b1dce6 198px,#f4fac5 201px,#fedf99 202px,#fdbb70 208px,#fed791 272px,#fee6a2 363px,#fee8a4)"></i><i style="background:linear-gradient(90deg,#2c7bb6,#2c7bb6 194px,#92c6df 197px,#b1dce6 198px,#f4fac5 201px,#fedf99 202px,#fdbb70 208px,#fed891 272px,#fee7a3 363px,#fee8a5)"></i><i style="background:linear-gradient(90deg,#2c7bb6,#2c7bb6 194px,#92c6df 197px,#b1dce6 198px,#f4fac5 201px,#fedf99 202px,#fdbb70 208px,#fed892 272px,#fee7a3 363px,#fee9a5)"></i><i style="background:linear-gradient(90deg,#2c7bb6,#2c7bb6 194px,#92c6df 197px,#b1dce6 198px,#f4fac5 201px,#fedf99 202px,#fdbb70 208px,#fed892 272px,#fee8a5 374px,#fee9a6 392px,#fee9a6)"></i><i style="background:linear-gradient(90deg,#2c7bb6,#2c7bb6 194px,#92c6df 197px,#b1dce6 198px,#f4fac5 201px,#fedf99 202px,#fdbb70 208px,#fed892 272px,#fee9a5 374px,#fee9a6 392px,#fee9a6)"></i><i style="background:linear-gradient(90deg,#2c7bb6,#2c7bb6 194px,#92c6df 197px,#b1dce6 198px,#f4fac5 201px,#fedf99 202px,#fdbb70 208px,#fed690 265px,#fee7a3 346px,#feeaa6 392px,#feeaa6)"></i><i style="background:linear-gradient(90deg,#2c7bb6,#2c7bb6 194px,#92c6df 197px,#b1dce6 198px,#f4fac5 201px,#fedf99 202px,#fdbb70 208px,#fed790 265px,#fee8a5 356px,#feeaa7)"></i><i style="background:linear-gradient(90deg,#2c7bb6,#2c7bb6 194px,#92c6df 197px,#b1dce6 198px,#f4fac5 201px,#fedf99 202px,#fdbb70 208px,#fed791 265px,#fee9a5 356px,#feeba7)"></i><i style="background:linear-gradient(90deg,#2c7bb6,#2c7bb6 194px,#92c6df 197px,#b1dce6 198px,#f4fac5 201px,#fedf99 202px,#fdbb70 208px,#fed791 265px,#fee8a4 346px,#ffeba8 392px,#ffeba8)"></i><i style="background:linear-gradient(90deg,#2c7bb6,#2c7bb6 194px,#92c6df 197px,#b1dce6 198px,#f4fac5 201px,#fedf99 202px,#fdbb70 208px,#fed891 265px,#fee8a5 346px,#ffeca8 392px,#ffeca8)"></i><i style="background:linear-gradient(90deg,#2c7bb6,#2c7bb6 194px,#92c6df 197px,#b1dce6 198px,#f4fac5 201px,#fedf99 202px,#fdbb70 208px,#fed892 265px,#fee9a5 346px,#ffeca9 392px,#ffeca9)"></i><i style="background:linear-gradient(90deg,#2c7bb6,#2c7bb6 194px,#92c6df 197px,#b1dce6 198px,#f4fac5 201px,#fedf99 202px,#fdbb70 208px,#fed892 265px,#fee9a6 346px,#ffeca9 392px,#ffeca9)"></i><i style="background:linear-gradient(90deg,#2c7bb6,#2c7bb6 194px,#92c7df 197px,#b1dce6 198px,#f4fac5 201px,#fedf99 202px,#fdbb70 208px,#fed993 265px,#feeaa6 346px,#ffedaa 392px,#ffedaa)"></i><i style="background:linear-gradient(90deg,#2c7bb6,#2c7bb6 194px,#92c7df 197px,#b1dce6 198px,#f4fac4 201px,#fedf99 202px,#fdbb70 208px,#fed993 265px,#feeaa7 346px,#ffedaa 392px,#ffedaa)"></i><i style="background:linear-gradient(90deg,#2c7bb6,#2c7bb6 194px,#93c7df 197px,#b1dce6 198px,#f4fac4 201px,#fedf99 202px,#fdbb70 208px,#fed993 265px,#feeba7 346px,#ffeeab 392px,#ffeeab)"></i><i style="background:linear-gradient(90deg,#2c7bb6,#2c7bb6 194px,#93c7df 197px,#b2dce6 198px,#f4fac4 201px,#fedf99 202px,#fdbb70 208px,#feda94 265px,#ffeba8 346px,#ffeeab 392px,#ffeeab)"></i><i style="background:linear-gradient(90deg,#2c7bb6,#2c7bb6 194px,#94c8e0 197px,#b2dce5 198px,#f5fac4 201px,#fedf99 202px,#fdbb70 208px,#feda94 265px,#ffeba8 346px,#ffefac 392px,#ffefac)"></i><i style="background:linear-gradient(90deg,#2c7bb6,#2c7bb6 194px,#95c9e0 197px,#b3dde5 198px,#f5fbc4 201px,#fedf99 202px,#fdbb70 208px,#fedb95 265px,#ffeca9 346px,#ffefac 392px,#ffefac)"></i><i style="background:linear-gradient(90deg,#2c7bb6,#2c7bb6 194px,#96c9e1 197px,#b4dde4 198px,#f6fbc3 201px,#fedf99 202px,#fdbb70 208px,#fed992 259px,#feeaa7 331px,#ffefad 388px,#ffefad)"></i><i style="background:linear-gradient(90deg,#2c7bb6,#2c7bb6 194px,#97cbe1 197px,#b6dee4 198px,#f8fcc2 201px,#fedf99 202px,#fdbb70 208px,#fed993 259px,#feeba7 331px,#fff0ad 388px,#fff0ad)"></i><i style="background:linear-gradient(90deg,#2c7bb6,#2c7bb6 194px,#99cce2 197px,#b7dfe3 198px,#fdfec0 201px,#fedf99 202px,#fdbb70 208px,#fed993 259px,#ffeba8 331px,#fff0ae 388px,#fff0ae)"></i><i style="background:linear-gradient(90deg,#2c7bb6,#2c7bb6 194px,#9bcde3 197px,#b9dfe2 198px,#edf7c8 200px,#fedf99 201px,#fdbb70 208px,#feda94 259px,#ffeca9 331px,#fff1ae 388px,#fff1af)"></i><i style="background:linear-gradient(90deg,#2c7bb6,#2c7bb6 194px,#9dcee3 197px,#bbe0e1 198px,#eff8c7 200px,#fedf99 201px,#fdbb70 208px,#feda94 259px,#ffeca9 331px,#fff1af 388px,#fff1af)"></i><i style="background:linear-gradient(90deg,#2c7bb6,#2c7bb6 194px,#9ecfe4 197px,#bce1e1 198px,#f0f8c7 200px,#fedf99 201px,#fdbb70 208px,#fedb95 259px,#ffeeab 340px,#fff2b0 391px,#fff2b0)"></i><i style="background:linear-gradient(90deg,#2c7bb6,#2c7bb6 194px,#9fd0e4 197px,#bce1e0 198px,#f0f8c7 200px,#fedf99 201px,#fdbb70 208px,#fedb95 259px,#ffeeac 340px,#fff2b0 391px,#fff2b0)"></i><i style="background:linear-gradient(90deg,#2c7bb6,#2c7bb6 194px,#9fd0e4 197px,#bde1e0 198px,#f0f8c6 200px,#fedf99 201px,#fdbb70 208px,#fedc96 259px,#ffefac 340px,#fff3b1 391px,#fff3b1)"></i><i style="background:linear-gradient(90deg,#2c7bb6,#2c7bb6 194px,#9fd0e4 197px,#bde1e0 198px,#f0f8c6 200px,#fedf99 201px,#fdbb70 208px,#fedc96 259px,#ffefad 340px,#fff3b1 391px,#fff3b1)"></i><i style="background:linear-gradient(90deg,#2c7bb6,#2c7bb6 194px,#a0d1e4 197px,#bde1e0 198px,#f0f8c6 200px,#fedf99 201px,#fdbb70 208px,#fedc97 259px,#fff0ad 340px,#fff4b2 391px,#fff4b2)"></i><i style="background:linear-gradient(90deg,#2c7bb6,#2c7bb6 194px,#a0d1e5 197px,#bde1e0 198px,#f1f8c6 200px,#fedf99 201px,#fdbb70 208px,#fedd98 259px,#fff0ae 340px,#fff4b2 391px,#fff4b2)"></i><i style="background:linear-gradient(90deg,#2c7bb6,#2c7bb6 194px,#a0d1e5 197px,#bde1e0 198px,#f1f8c6 200px,#fedf99 201px,#fdbb70 208px,#fedd98 259px,#fff1ae 340px,#fff5b3 391px,#fff5b3)"></i><i style="background:linear-gradient(90deg,#2c7bb6,#2c7bb6 194px,#a0d1e5 197px,#bde1e0 198px,#f1f8c6 200px,#fedf99 201px,#fdbb70 208px,#fede99 259px,#fff1af 340px,#fff5b3 391px,#fff5b3)"></i><i style="background:linear-gradient(90deg,#2c7bb6,#2c7bb6 194px,#a0d1e5 197px,#bde1e0 198px,#f1f8c6 200px,#fedf99 201px,#fdbb70 208px,#fedf99 259px,#fff2b0 340px,#fff6b4 391px,#fff6b4)"></i><i style="background:linear-gradient(90deg,#2c7bb6,#2c7bb6 194px,#a0d1e5 197px,#bde1e0 198px,#f1f8c6 200px,#fedf99 201px,#fdbb70 208px,#fedc97 254px,#fff0ae 326px,#fff6b5 390px,#fff6b5)"></i><i style="background:linear-gradient(90deg,#2c7bb6,#2c7bb6 194px,#a0d1e5 197px,#bde1e0 198px,#f1f8c6 200px,#fedf99 201px,#fdbb70 208px,#fedd98 254px,#fff0ae 326px,#fff6b5 390px,#fff6b5)"></i><i style="background:linear-gradient(90deg,#2c7bb6,#2c7bb6 194px,#a0d1e5 197px,#bde1e0 198px,#f1f8c6 200px,#fedf99 201px,#fdbb70 208px,#fedd98 254px,#fff2b0 335px,#fff7b6 392px,#fff7b6)"></i><i style="background:linear-gradient(90deg,#2c7bb6,#2c7bb6 194px,#a0d1e5 197px,#bde1e0 198px,#f1f8c6 200px,#fedf99 201px,#fdbb70 208px,#fede99 254px,#fff3b1 335px,#fff7b6 392px,#fff7b6)"></i><i style="background:linear-gradient(90deg,#2c7bb6,#2c7bb6 194px,#a0d1e5 197px,#bde1e0 198px,#f1f8c6 200px,#fedf99 201px,#fdbb70 208px,#fedf99 254px,#fff3b2 335px,#fff8b7 392px,#fff8b7)"></i><i style="background:linear-gradient(90deg,#2c7bb6,#2c7bb6 194px,#a0d1e5 197px,#bde1e0 198px,#f1f8c6 200px,#fedf99 201px,#fdbb70 208px,#fedf99 254px,#fff2b0 326px,#fff8b7 390px,#fff8b7)"></i><i style="background:linear-gradient(90deg,#2c7bb6,#2c7bb6 194px,#a0d1e5 197px,#bde1e0 198px,#f1f8c6 200px,#fedf99 201px,#fdbb70 208px,#fedf9a 254px,#fff3b1 326px,#fff9b8 390px,#fff9b8)"></i><i style="background:linear-gradient(90deg,#2c7bb6,#2c7bb6 194px,#a0d1e5 197px,#bde1e0 198px,#f1f8c6 200px,#fedf99 201px,#fdbb70 208px,#fedd98 249px,#fff3b1 321px,#fff9b9)"></i><i style="background:linear-gradient(90deg,#2c7bb6,#2c7bb6 194px,#a0d1e5 197px,#bde1e0 198px,#f1f8c6 200px,#fedf99 201px,#fdbb70 208px,#fedd98 249px,#fff3b1 321px,#fffab9)"></i><i style="background:linear-gradient(90deg,#2c7bb6,#2c7bb6 194px,#a0d1e5 197px,#bde1e0 198px,#f1f8c6 200px,#fedf99 201px,#fdbb70 208px,#fede99 249px,#fff4b2 321px,#fffaba)"></i><i style="background:linear-gradient(90deg,#2c7bb6,#2c7bb6 194px,#a0d1e5 197px,#bde1e0 198px,#f1f8c6 200px,#fedf99 201px,#fdbb70 208px,#fedf99 249px,#fff4b2 321px,#fffbba)"></i><i style="background:linear-gradient(90deg,#2c7bb6,#2c7bb6 194px,#a0d1e5 197px,#bde1e0 198px,#f1f8c6 200px,#fedf99 201px,#fdbb70 208px,#fedf99 249px,#fff5b3 321px,#fffcbb)"></i><i style="background:linear-gradient(90deg,#2c7bb6,#2c7bb6 194px,#a0d1e5 197px,#bde1e0 198px,#f1f8c6 200px,#fedf99 201px,#fdbb70 208px,#fedf9a 249px,#fff5b3 321px,#fffcbc)"></i><i style="background:linear-gradient(90deg,#2c7bb6,#2c7bb6 194px,#a0d1e5 197px,#bde1e0 198px,#f1f8c6 200px,#fedf99 201px,#fdbb70 208px,#fedf9a 249px,#fff4b2 313px,#fffcbc 385px,#fffdbc)"></i><i style="background:linear-gradient(90deg,#2c7bb6,#2c7bb6 194px,#a0d1e5 197px,#bde1e0 198px,#f1f8c6 200px,#fedf99 201px,#fdbb70 208px,#fede98 245px,#fff4b2 309px,#fffdbd 381px,#fffdbd)"></i><i style="background:linear-gradient(90deg,#2c7bb6,#2c7bb6 194px,#a0d1e5 197px,#bde1e0 198px,#f1f8c6 200px,#fedf99 201px,#fdbb70 208px,#fede99 245px,#fff4b2 309px,#fffdbd 381px,#fffebd)"></i><i style="background:linear-gradient(90deg,#2c7bb6,#2c7bb6 194px,#a0d1e5 197px,#bde1e0 198px,#f1f8c6 200px,#fedf99 201px,#fdbb70 208px,#fedf99 245px,#fff5b3 309px,#fffebe 381px,#fffebe)"></i><i style="background:linear-gradient(90deg,#2c7bb6,#2c7bb6 194px,#a0d1e5 197px,#bde1e0 198px,#f1f8c6 200px,#fedf99 201px,#fdbb70 208px,#fedf99 245px,#fff5b3 309px,#fffebe 381px,#ffffbf)"></i><i style="background:linear-gradient(90deg,#2c7bb6,#2c7bb6 194px,#a0d1e5 197px,#bde1e0 198px,#f1f8c6 200px,#fedf99 201px,#fdbb70 208px,#fedf9a 245px,#fff6b4 309px,#ffffbf 381px,#ffffbf)"></i><i style="background:linear-gradient(90deg,#2c7bb6,#2c7bb6 194px,#a0d1e5 197px,#bde1e0 198px,#f1f8c6 200px,#fedf99 201px,#fdbb70 208px,#fedd98 241px,#fff3b1 298px,#ffffbf 370px,#ffffbf)"></i><i style="background:linear-gradient(90deg,#2c7bb6,#2c7bb6 194px,#a0d1e5 197px,#bde1e0 198px,#f1f8c6 200px,#fedf99 201px,#fdbb70 208px,#fede98 241px,#fff6b4 305px,#ffffbf 369px,#ffffbf)"></i><i style="background:linear-gradient(90deg,#2c7bb6,#2c7bb6 194px,#a0d1e5 197px,#bde1e0 198px,#f1f8c6 200px,#fedf99 201px,#fdbb70 208px,#fede99 241px,#fff6b5 305px,#ffffbf 369px,#feffbf)"></i><i style="background:linear-gradient(90deg,#2c7bb6,#2c7bb6 194px,#a0d1e5 197px,#bde1e0 198px,#f1f8c6 200px,#fedf99 201px,#fdbb70 208px,#fedf99 241px,#fff7b5 305px,#ffffbf 362px,#feffbf 392px,#feffbf)"></i><i style="background:linear-gradient(90deg,#2c7bb6,#2c7bb6 194px,#a0d1e5 197px,#bde1e0 198px,#f1f8c6 200px,#fedf99 201px,#fdbb70 208px,#fedf99 241px,#fff5b4 298px,#ffffbf 355px,#feffc0 392px,#feffc0)"></i><i style="background:linear-gradient(90deg,#2c7bb6,#2c7bb6 194px,#a0d1e5 197px,#bde1e0 198px,#f1f8c6 200px,#fedf99 201px,#fdbb70 208px,#fedf9a 241px,#fff6b5 298px,#feffbf 355px,#fefec0 392px,#fefec0)"></i><i style="background:linear-gradient(90deg,#2c7bb6,#2c7bb6 194px,#a0d1e5 197px,#bde1e0 198px,#f1f8c6 200px,#fedf99 201px,#fdbb70 208px,#fedf9a 241px,#fff7b5 298px,#ffffbf 349px,#fefec0 390px,#fefec0)"></i><i style="background:linear-gradient(90deg,#2c7bb6,#2c7bb6 194px,#a0d1e5 197px,#bde1e0 198px,#f1f8c6 200px,#fedf99 201px,#fdbb70 208px,#fedf99 238px,#fff8b7 302px,#feffbf 348px,#fdfec0 389px,#fdfec0)"></i><i style="background:linear-gradient(90deg,#2c7bb6,#2c7bb6 194px,#a0d1e5 197px,#bde1e0 198px,#f1f8c6 200px,#fedf99 201px,#fdbb70 208px,#fedf99 238px,#fff7b5 295px,#feffbf 341px,#fdfec0 392px,#fdfec0)"></i><i style="background:linear-gradient(90deg,#2c7bb6,#2c7bb6 194px,#a0d1e5 197px,#bde1e0 198px,#f1f8c6 200px,#fedf99 201px,#fdbb70 208px,#fedf99 238px,#fff7b6 295px,#feffbf 341px,#fdfec0 392px,#fdfec0)"></i><i style="background:linear-gradient(90deg,#2c7bb6,#2c7bb6 194px,#a0d1e5 197px,#bde1e0 198px,#f1f8c6 200px,#fedf99 201px,#fdbb70 208px,#fedf9a 238px,#fff8b7 295px,#feffbf 336px,#fdfec0)"></i><i style="background:linear-gradient(90deg,#2c7bb6,#2c7bb6 194px,#a0d1e5 197px,#bde1e0 198px,#f1f8c6 200px,#fedf99 201px,#fdbb70 208px,#fedf9a 238px,#fff8b7 295px,#feffbf 332px,#fdfec0 389px,#fdfec0)"></i><i style="background:linear-gradient(90deg,#2c7bb6,#2c7bb6 194px,#a0d1e5 197px,#bde1e0 198px,#f1f8c6 200px,#fedf99 201px,#fdbb70 208px,#fedf99 235px,#fff8b7 292px,#feffbf 329px,#fcfec0)"></i><i style="background:linear-gradient(90deg,#2c7bb6,#2c7bb6 194px,#a0d1e5 197px,#bde1e0 198px,#f1f8c6 200px,#fedf99 201px,#fdbb70 208px,#fedf99 235px,#fff9b8 292px,#feffbf 329px,#fcfec0)"></i><i style="background:linear-gradient(90deg,#2c7bb6,#2c7bb6 194px,#a0d1e5 197px,#bde1e0 198px,#f1f8c6 200px,#fedf99 201px,#fdbb70 208px,#fedf99 235px,#fff7b6 286px,#feffbf 323px,#fcfec0 387px,#fcfec0)"></i><i style="background:linear-gradient(90deg,#2c7bb6,#2c7bb6 194px,#a0d1e5 197px,#bde1e0 198px,#f1f8c6 200px,#fedf99 201px,#fdbb70 208px,#fedf9a 235px,#fff8b7 286px,#feffbf 319px,#fcfec1 391px,#fcfec1)"></i><i style="background:linear-gradient(90deg,#2c7bb6,#2c7bb6 194px,#a0d1e5 197px,#bde1e0 198px,#f1f8c6 200px,#fedf99 201px,#fdbb70 208px,#fedf9a 235px,#fff8b7 286px,#feffbf 319px,#fcfdc1 391px,#fcfdc1)"></i><i style="background:linear-gradient(90deg,#2c7bb6,#2c7bb6 194px,#a0d1e5 197px,#bde1e0 198px,#f1f8c6 200px,#fedf99 201px,#fdbb70 208px,#fede98 232px,#fff8b7 283px,#feffbf 316px,#fbfdc1 388px,#fbfdc1)"></i><i style="background:linear-gradient(90deg,#2c7bb6,#2c7bb6 194px,#a0d1e5 197px,#bde1e0 198px,#f1f8c6 200px,#fedf99 201px,#fdbb70 208px,#fedf99 232px,#fffaba 289px,#feffbf 316px,#fbfdc1 388px,#fbfdc1)"></i><i style="background:linear-gradient(90deg,#2c7bb6,#2c7bb6 194px,#a0d1e5 197px,#bde1e0 198px,#f1f8c6 200px,#fedf99 201px,#fdbb70 208px,#fedf99 232px,#fff9b8 283px,#feffbf 313px,#fbfdc1 385px,#fbfdc1)"></i><i style="background:linear-gradient(90deg,#2c7bb6,#2c7bb6 194px,#a0d1e5 197px,#bde1e0 198px,#f1f8c6 200px,#fedf99 201px,#fdbb70 208px,#fedf99 232px,#fffab9 283px,#feffbf 310px,#fbfdc1 391px,#fbfdc1)"></i><i style="background:linear-gradient(90deg,#2c7bb6,#2c7bb6 194px,#a0d1e5 197px,#bde1e0 198px,#f1f8c6 200px,#fedf99 201px,#fdbb70 208px,#fedf9a 232px,#fffab9 283px,#fefec0 310px,#fbfdc1 391px,#fbfdc1)"></i><i style="background:linear-gradient(90deg,#2c7bb6,#2c7bb6 194px,#a0d1e5 197px,#bde1e0 198px,#f1f8c6 200px,#fedf99 201px,#fdbb70 208px,#fedf99 230px,#fffab9 281px,#feffbf 305px,#fafdc1 386px,#fafdc1)"></i><i style="background:linear-gradient(90deg,#2c7bb6,#2c7bb6 194px,#a0d1e5 197px,#bde1e0 198px,#f1f8c6 200px,#fedf99 201px,#fdbb70 208px,#fedf99 230px,#fffbba 281px,#fefec0 305px,#fafdc1 386px,#fafdc1)"></i><i style="background:linear-gradient(90deg,#2c7bb6,#2c7bb6 194px,#a0d1e5 197px,#bde1e0 198px,#f1f8c6 200px,#fedf99 201px,#fdbb70 208px,#fedf99 230px,#fff9b8 276px,#feffbf 300px,#fafdc2 391px,#fafdc2)"></i><i style="background:linear-gradient(90deg,#2c7bb6,#2c7bb6 194px,#a0d1e5 197px,#bde1e0 198px,#f1f8c6 200px,#fedf99 201px,#fdbb70 208px,#fedf9a 230px,#fffab9 276px,#feffc0 300px,#fafdc2 391px,#fafdc2)"></i><i style="background:linear-gradient(90deg,#2c7bb6,#2c7bb6 194px,#a0d1e5 197px,#bee1e0 198px,#f1f9c6 200px,#fedf99 201px,#fdbb70 208px,#fedf9a 230px,#fffaba 276px,#feffc0 298px,#fafdc2 389px,#fafdc2)"></i><i style="background:linear-gradient(90deg,#2c7bb6,#2c7bb6 194px,#a0d1e5 197px,#bee1e0 198px,#f1f9c6 200px,#fedf99 201px,#fdbb70 208px,#fedf99 228px,#fffcbc 279px,#fcfec0 316px,#f9fcc2 388px,#f9fcc2)"></i><i style="background:linear-gradient(90deg,#2c7bb6,#2c7bb6 194px,#a1d1e5 197px,#bee1e0 198px,#f1f9c6 200px,#fedf99 201px,#fdbb70 208px,#fedf99 228px,#fffbba 274px,#fefec0 296px,#f9fcc2 387px,#f9fcc2)"></i><i style="background:linear-gradient(90deg,#2c7bb6,#2c7bb6 194px,#a1d1e5 197px,#bee2e0 198px,#f1f9c6 200px,#fedf99 201px,#fdbb70 208px,#fedf99 228px,#fffbbb 274px,#fdfec0 296px,#f9fcc2 387px,#f9fcc2)"></i><i style="background:linear-gradient(90deg,#2c7bb6,#2c7bb6 194px,#a1d2e5 197px,#bee2df 198px,#f1f9c6 200px,#fedf99 201px,#fdbb70 208px,#fedf9a 228px,#fffcbb 274px,#fdfec0 301px,#f9fcc2 392px,#f9fcc2)"></i><i style="background:linear-gradient(90deg,#2c7bb6,#2c7bb6 194px,#a2d2e5 197px,#bee2df 198px,#f1f9c6 200px,#fedf99 201px,#fdbb70 208px,#fedf99 226px,#fffcbb 272px,#fdfec0 294px,#f9fcc2 385px,#f9fcc2)"></i><i style="background:linear-gradient(90deg,#2c7bb6,#2c7bb6 194px,#a2d3e6 197px,#bfe2df 198px,#f1f9c6 200px,#fedf99 201px,#fdbb70 207px,#fedf9a 227px,#fffdbc 273px,#f8fcc2 375px,#f8fcc2)"></i><i style="background:linear-gradient(90deg,#2c7bb6,#2c7bb6 194px,#a3d3e6 197px,#c0e2df 198px,#f2f9c6 200px,#fedf99 201px,#fdbb70 207px,#fedf9a 227px,#fffbba 268px,#fdfec0 288px,#f8fcc2 390px,#f8fcc2)"></i><i style="background:linear-gradient(90deg,#2c7bb6,#2c7bb6 194px,#a5d5e7 197px,#f3fac5 200px,#fedf99 201px,#fdbb70 207px,#fedf99 225px,#fffdbd 271px,#f8fcc3 385px,#f8fcc3)"></i><i style="background:linear-gradient(90deg,#2c7bb6,#2c7bb6 194px,#a7d6e8 197px,#f5fbc4 200px,#fedf99 201px,#fdbb70 207px,#fedf99 225px,#fffbbb 266px,#fdfec0 284px,#f8fcc3 386px,#f8fcc3)"></i><i style="background:linear-gradient(90deg,#2c7bb6,#2c7bb6 194px,#aad8e9 197px,#fbfdc1 200px,#fedf99 201px,#fdbb70 207px,#fedf99 225px,#fffcbb 266px,#fdfec0 288px,#f7fcc3 390px,#f7fcc3)"></i><i style="background:linear-gradient(90deg,#2c7bb6,#2c7bb6 194px,#acdae8 197px,#e8f5cb 199px,#fedf99 200px,#fedf99 201px,#fdbb70 207px,#fedf9a 225px,#fffdbc 266px,#f8fcc2 347px,#f7fbc3)"></i><i style="background:linear-gradient(90deg,#2c7bb6,#2c7bb6 194px,#aedae8 197px,#eaf6c9 199px,#fedf99 200px,#fdbb70 207px,#fedf9a 225px,#fffdbd 266px,#f7fbc3 380px,#f7fbc3)"></i><i style="background:linear-gradient(90deg,#2c7bb6,#2c7bb6 194px,#84bcd9 196px,#afdbe7 197px,#ebf6c9 199px,#fedf99 200px,#fdbb70 207px,#fedf99 223px,#fffdbd 264px,#f7fbc3 366px,#f7fbc3)"></i><i style="background:linear-gradient(90deg,#2c7bb6,#2c7bb6 194px,#85bdda 196px,#b0dbe7 197px,#ecf6c9 199px,#fedf99 200px,#fdbb70 207px,#fedf99 223px,#fffebd 264px,#f7fbc3 392px,#f6fbc3)"></i><i style="background:linear-gradient(90deg,#2c7bb6,#2c7bb6 194px,#86bdda 196px,#b0dbe6 197px,#ecf6c8 199px,#fedf99 200px,#fdbb70 207px,#fedf99 223px,#fffebe 264px,#f6fbc3 378px,#f6fbc3)"></i><i style="background:linear-gradient(90deg,#2c7bb6,#2c7bb6 194px,#86beda 196px,#b0dbe6 197px,#ecf6c8 199px,#fedf99 200px,#fdbb70 207px,#fedf9a 223px,#ffffbf 264px,#f6fbc3 378px,#f6fbc3)"></i><i style="background:linear-gradient(90deg,#2c7bb6,#2c7bb6 194px,#86beda 196px,#b0dbe6 197px,#ecf7c8 199px,#fedf99 200px,#fdbb70 207px,#fedf9a 223px,#fffdbd 260px,#f6fbc3 374px,#f6fbc4 392px,#f6fbc4)"></i><i style="background:linear-gradient(90deg,#2c7bb6,#2c7bb6 194px,#86beda 196px,#b0dbe6 197px,#ecf7c8 199px,#fedf99 200px,#fdbb70 207px,#fedf99 221px,#ffffbf 262px,#f6fbc4 376px,#f6fbc4)"></i><i style="background:linear-gradient(90deg,#2c7bb6,#2c7bb6 194px,#86beda 196px,#b1dbe6 197px,#ecf7c8 199px,#fedf99 200px,#fdbb70 207px,#fedf9a 222px,#fffebe 259px,#f6fbc4 373px,#f5fbc4)"></i><i style="background:linear-gradient(90deg,#2c7bb6,#2c7bb6 194px,#86beda 196px,#b1dce6 197px,#ecf7c8 199px,#fedf99 200px,#fdbb70 207px,#fee09b 222px,#ffffbf 259px,#f6fbc4 361px,#f5fbc4 391px,#f5fbc4)"></i><i style="background:linear-gradient(90deg,#2c7bb6,#2c7bb6 194px,#86beda 196px,#b1dce6 197px,#ecf7c8 199px,#fedf99 200px,#fdbb70 207px,#fedf99 221px,#ffffbf 258px,#f6fbc4 360px,#f5fac4)"></i><i style="background:linear-gradient(90deg,#2c7bb6,#2c7bb6 194px,#86beda 196px,#b1dce6 197px,#ecf7c8 199px,#fedf99 200px,#fdbb70 207px,#fedf9a 221px,#fffdbd 254px,#f6fbc4 345px,#f5fac4 391px,#f5fac4)"></i><i style="background:linear-gradient(90deg,#2c7bb6,#2c7bb6 194px,#86beda 196px,#b1dce6 197px,#ecf7c8 199px,#fedf99 200px,#fdbb70 207px,#fee09b 221px,#fffebe 254px,#f5fbc4 356px,#f4fac4)"></i><i style="background:linear-gradient(90deg,#2c7bb6,#2c7bb6 194px,#86beda 196px,#b1dce6 197px,#ecf7c8 199px,#fedf99 200px,#fdbb70 207px,#fedf99 220px,#fffebe 253px,#f5fac4 355px,#f4fac4 392px,#f4fac4)"></i><i style="background:linear-gradient(90deg,#2c7bb6,#2c7bb6 194px,#86beda 196px,#b1dce6 197px,#ecf7c8 199px,#fedf99 200px,#fdbb70 207px,#fedf9a 220px,#ffffbf 253px,#f5fbc4 344px,#f4fac5 390px,#f4fac5)"></i><i style="background:linear-gradient(90deg,#2c7bb6,#2c7bb6 194px,#86beda 196px,#b1dce6 197px,#ecf7c8 199px,#fedf99 200px,#fdbb70 207px,#fee09b 220px,#ffffbf 253px,#f5fac4 344px,#f4fac5 390px,#f3fac5)"></i><i style="background:linear-gradient(90deg,#2c7bb6,#2c7bb6 194px,#86beda 196px,#b1dce6 197px,#ecf7c8 199px,#fedf99 200px,#fdbb70 207px,#fedf99 219px,#fffdbd 249px,#f5fbc4 330px,#f3fac5 387px,#f3fac5)"></i><i style="background:linear-gradient(90deg,#2c7bb6,#2c7bb6 194px,#86beda 196px,#b1dce6 197px,#ecf7c8 199px,#fedf99 200px,#fdbb70 207px,#fedf99 218px,#ffffbf 251px,#f5fac4 332px,#f3f9c5 389px,#f3f9c5)"></i><i style="background:linear-gradient(90deg,#2c7bb6,#2c7bb6 194px,#86beda 196px,#b1dce6 197px,#ecf7c8 199px,#fedf99 200px,#fdbb70 207px,#fedf99 218px,#fffebe 248px,#f5fac4 329px,#f2f9c5)"></i><i style="background:linear-gradient(90deg,#2c7bb6,#2c7bb6 194px,#86beda 196px,#b1dce6 197px,#ecf7c8 199px,#fedf99 200px,#fdbb70 207px,#fedf99 218px,#ffffbf 248px,#f5fac4 329px,#f2f9c6)"></i><i style="height:2px;background:linear-gradient(90deg,#2c7bb6,#2c7bb6 194px,#86beda 196px,#b1dce6 197px,#ecf7c8 199px,#fedf99 200px,#fdbb70 207px,#fedf99 217px,#ffffbf 247px,#f5fac4 319px,#f1f9c6 391px,#f1f9c6)"></i><i style="background:linear-gradient(90deg,#2c7bb6,#2c7bb6 194px,#86beda 196px,#b1dce6 197px,#ecf7c8 199px,#fedf99 200px,#fdbb70 206px,#fdbb70 207px,#fedf99 217px,#fffebd 244px,#f4fac4 316px,#f0f8c6 388px,#f0f8c6)"></i><i style="background:linear-gradient(90deg,#2c7bb6,#2c7bb6 194px,#86beda 196px,#b1dce6 197px,#ecf7c8 199px,#fedf99 200px,#fdbb70 206px,#fedf99 216px,#fffebd 243px,#f4fac4 315px,#f0f8c7 387px,#f0f8c7)"></i><i style="background:linear-gradient(90deg,#2c7bb6,#2c7bb6 194px,#86beda 196px,#b1dce6 197px,#ecf7c8 199px,#fedf99 200px,#fdbb70 206px,#fedf99 216px,#fffebe 243px,#f4fac4 315px,#eff8c7 387px,#eff8c7)"></i><i style="background:linear-gradient(90deg,#2c7bb6,#2c7bb6 194px,#86beda 196px,#b1dce6 197px,#ecf7c8 199px,#fedf99 200px,#fdbb70 206px,#fedf99 216px,#ffffbf 243px,#f4fac4 307px,#eff8c7 388px,#eff8c7)"></i><i style="background:linear-gradient(90deg,#2c7bb6,#2c7bb6 194px,#86beda 196px,#b1dce6 197px,#ecf7c8 199px,#fedf99 200px,#fdbb70 206px,#fedf99 216px,#fffdbd 240px,#f4fac5 312px,#eef7c7)"></i><i style="background:linear-gradient(90deg,#2c7bb6,#2c7bb6 194px,#86beda 196px,#b1dce6 197px,#ecf7c8 199px,#fedf99 200px,#fdbb70 206px,#fedf99 215px,#ffffbf 242px,#f4fac5 306px,#eef7c8 387px,#eef7c8)"></i><i style="background:linear-gradient(90deg,#2c7bb6,#2c7bb6 194px,#86beda 196px,#b1dce6 197px,#ecf7c8 199px,#fedf99 200px,#fdbb70 206px,#fedf99 215px,#fffebe 239px,#f3fac5 303px,#eef7c8 384px,#edf7c8)"></i><i style="background:linear-gradient(90deg,#2c7bb6,#2c7bb6 194px,#86beda 196px,#b1dce6 197px,#ecf7c8 199px,#fedf99 200px,#fdbb70 206px,#fedf99 215px,#ffffbf 239px,#f3fac5 303px,#edf7c8 384px,#edf7c8)"></i><i style="background:linear-gradient(90deg,#2c7bb6,#2c7bb6 194px,#86beda 196px,#b1dce6 197px,#ecf7c8 199px,#fedf99 200px,#fdbb70 206px,#fedf99 214px,#ffffbf 238px,#f3f9c5 302px,#ecf7c8)"></i><i style="background:linear-gradient(90deg,#2c7bb6,#2c7bb6 194px,#86beda 196px,#b1dce6 197px,#ecf7c8 199px,#fedf99 200px,#fdbb70 206px,#fedf99 214px,#ffffbf 238px,#f2f9c5 302px,#ecf6c9)"></i><i style="background:linear-gradient(90deg,#2c7bb6,#2c7bb6 194px,#86beda 196px,#b1dce6 197px,#ecf7c8 199px,#fedf99 200px,#fdbb70 206px,#fedf99 214px,#fffebe 236px,#f2f9c6 300px,#ebf6c9 391px,#ebf6c9)"></i><i style="background:linear-gradient(90deg,#2c7bb6,#2c7bb6 194px,#86beda 196px,#b1dce6 197px,#ecf7c8 199px,#fedf99 200px,#fdbb70 206px,#fedf99 214px,#ffffbf 236px,#f1f9c6 300px,#ebf6c9 391px,#ebf6c9)"></i><i style="background:linear-gradient(90deg,#2c7bb6,#2c7bb6 194px,#86beda 196px,#b1dce6 197px,#ecf7c8 199px,#fedf99 200px,#fdbb70 206px,#fedf99 213px,#ffffbf 235px,#f1f9c6 299px,#eaf6c9 390px,#eaf6c9)"></i><i style="background:linear-gradient(90deg,#2c7bb6,#2c7bb6 194px,#86beda 196px,#b1dce6 197px,#ecf7c8 199px,#fedf99 200px,#fdbf74 205px,#fdbb70 206px,#fedf99 213px,#ffffbf 235px,#f0f8c6 299px,#eaf5ca 390px,#eaf5ca)"></i><i style="background:linear-gradient(90deg,#2c7bb6,#2c7bb6 194px,#86beda 196px,#b1dce6 197px,#ecf7c8 199px,#fedf99 200px,#fdbb70 205px,#fdbb70 206px,#fedf99 213px,#ffffbf 233px,#f1f9c6 290px,#e9f5ca 392px,#e9f5ca)"></i><i style="background:linear-gradient(90deg,#2c7bb6,#2c7bb6 194px,#86beda 196px,#b1dce6 197px,#ecf7c8 199px,#fedf99 200px,#fdbb70 205px,#fedf99 213px,#ffffbf 233px,#f0f8c6 290px,#e9f5ca 392px,#e9f5ca)"></i><i style="background:linear-gradient(90deg,#2c7bb6,#2c7bb6 194px,#86beda 196px,#b1dce6 197px,#ecf7c8 199px,#fedf99 200px,#fdbb70 205px,#fedf99 212px,#ffffbf 232px,#f0f8c6 289px,#e8f5ca 391px,#e8f5ca)"></i><i style="background:linear-gradient(90deg,#2c7bb6,#2c7bb6 194px,#86beda 196px,#b1dce6 197px,#ecf7c8 199px,#fedf99 200px,#fdbb70 205px,#fedf99 212px,#ffffbf 232px,#f0f8c7 289px,#e8f4cb 391px,#e8f4cb)"></i><i style="background:linear-gradient(90deg,#2c7bb6,#2c7bb6 194px,#86beda 196px,#b1dce6 197px,#ecf7c8 199px,#fedf99 200px,#fdbb70 205px,#fedf99 212px,#ffffbf 230px,#f0f8c6 281px,#e7f4cb 383px,#e7f4cb)"></i><i style="background:linear-gradient(90deg,#2c7bb6,#2c7bb6 194px,#86beda 196px,#b1dce6 197px,#ecf7c8 199px,#fedf99 200px,#fdbb70 205px,#fedf99 212px,#ffffbf 230px,#f0f8c7 281px,#e7f4cb 383px,#e7f4cb)"></i><i style="background:linear-gradient(90deg,#2c7bb6,#2c7bb6 194px,#86beda 196px,#b1dce6 197px,#ecf7c8 199px,#fedf99 200px,#fdbb70 205px,#fedf99 211px,#ffffbf 229px,#f0f8c7 280px,#e6f4cb 382px,#e6f4cb)"></i><i style="background:linear-gradient(90deg,#2c7bb6,#2c7bb6 194px,#86beda 196px,#b1dce6 197px,#ecf7c8 199px,#fedf99 200px,#fdbb70 205px,#fedf99 211px,#feffbf 229px,#eff8c7 280px,#e6f4cc 382px,#e6f3cc)"></i><i style="background:linear-gradient(90deg,#2c7bb6,#2c7bb6 194px,#86beda 196px,#b1dce6 197px,#ecf7c8 199px,#fedf99 200px,#fdbb70 205px,#fedb95 210px,#fffdbc 226px,#f2f9c5 263px,#e6f4cb 365px,#e5f3cc 392px,#e5f3cc)"></i><i style="background:linear-gradient(90deg,#2c7bb6,#2c7bb6 194px,#86beda 196px,#b1dce6 197px,#ecf7c8 199px,#fedf99 200px,#fdbf75 204px,#fdbb70 205px,#fedf99 210px,#fffebe 226px,#eff8c7 272px,#e5f3cc 386px,#e4f3cc)"></i><i style="background:linear-gradient(90deg,#2c7bb6,#2c7bb6 194px,#86beda 196px,#b1dce6 197px,#ecf7c8 199px,#fedf99 200px,#fdbb70 204px,#fdbb70 205px,#fedf99 210px,#ffffbf 226px,#f0f8c6 267px,#e4f3cc 381px,#e4f3cd)"></i><i style="background:linear-gradient(90deg,#2c7bb6,#2c7bb6 194px,#86beda 196px,#b1dce6 197px,#ecf7c8 199px,#fedf99 200px,#fdbb70 204px,#fedf99 210px,#ffffbf 226px,#eff8c7 267px,#e4f3cd 381px,#e3f2cd)"></i><i style="background:linear-gradient(90deg,#2c7bb6,#2c7bb6 194px,#86beda 196px,#b1dce6 197px,#ecf7c8 199px,#fedf99 200px,#fdbb70 204px,#fedf99 209px,#ffffbf 225px,#eff8c7 266px,#e3f2cd 380px,#e3f2cd)"></i><i style="background:linear-gradient(90deg,#2c7bb6,#2c7bb6 194px,#86beda 196px,#b1dce6 197px,#ecf7c8 199px,#fedf99 200px,#fdbb70 204px,#fedf99 209px,#ffffbf 224px,#f0f8c7 261px,#e3f3cd 363px,#e2f2cd)"></i><i style="background:linear-gradient(90deg,#2c7bb6,#2c7bb6 194px,#86beda 196px,#b1dce6 197px,#ecf7c8 199px,#fedf99 200px,#fdbb70 204px,#feda94 208px,#fff8b7 220px,#feffbf 224px,#eff8c7 261px,#e3f2cd 363px,#e2f2ce)"></i><i style="background:linear-gradient(90deg,#2c7bb6,#2c7bb6 194px,#86beda 196px,#b1dce6 197px,#ecf7c8 199px,#fedf99 200px,#fdbb70 204px,#fedf99 208px,#fee9a6 213px,#ffffbf 223px,#eff8c7 260px,#e2f2cd 362px,#e1f1ce 392px,#e1f1ce)"></i><i style="background:linear-gradient(90deg,#2c7bb6,#2c7bb6 194px,#86beda 196px,#b1dce6 197px,#ecf7c8 199px,#fedf99 200px,#fdbb70 204px,#fedf99 208px,#ffffbf 222px,#f0f8c7 255px,#e3f2cd 346px,#e0f1ce 392px,#e0f1ce)"></i><i style="background:linear-gradient(90deg,#2c7bb6,#2c7bb6 194px,#86beda 196px,#b1dce6 197px,#ecf7c8 199px,#fedf99 200px,#fdbb70 204px,#fed993 207px,#fee49f 210px,#feffbf 222px,#eff8c7 255px,#e2f2cd 346px,#e0f1cf 392px,#e0f1cf)"></i><i style="background:linear-gradient(90deg,#2c7bb6,#2c7bb6 194px,#86beda 196px,#b1dce6 197px,#ecf7c8 199px,#fedf99 200px,#fdbb70 204px,#fedf99 207px,#fee5a0 210px,#ffffbf 221px,#eff8c7 254px,#e3f2cd 335px,#dff1cf 392px,#dff1cf)"></i><i style="background:linear-gradient(90deg,#2c7bb6,#2c7bb6 194px,#86beda 196px,#b1dce6 197px,#ecf7c8 199px,#fedf99 200px,#fec87f 203px,#fdbb70 204px,#feca82 205px,#fedf99 207px,#ffffbf 220px,#eff8c7 250px,#e3f2cd 322px,#dff0cf 386px,#dff0cf)"></i><i style="background:linear-gradient(90deg,#2c7bb6,#2c7bb6 194px,#87beda 196px,#b1dce6 197px,#ecf7c8 199px,#fedf99 200px,#fecc84 204px,#fedf99 207px,#feffbf 220px,#eff8c7 250px,#e3f2cd 322px,#def0cf 386px,#def0cf)"></i><i style="background:linear-gradient(90deg,#2c7bb6,#2c7bb6 194px,#87beda 196px,#b1dce6 197px,#edf7c8 199px,#fedf99 200px,#fed48d 204px,#fffebd 218px,#eef7c8 251px,#e1f2ce 332px,#ddf0d0 389px,#ddf0d0)"></i><i style="background:linear-gradient(90deg,#2c7bb6,#2c7bb6 194px,#87bedb 196px,#b1dce6 197px,#edf7c8 199px,#fedf99 200px,#fed992 204px,#fee9a5 210px,#ffffbf 218px,#eef7c7 248px,#e2f2ce 320px,#ddefd0 392px,#ddefd0)"></i><i style="background:linear-gradient(90deg,#2c7bb6,#2c7bb6 194px,#87bfdb 196px,#b2dce6 197px,#edf7c8 199px,#fedf99 200px,#fedb95 204px,#feeaa7 210px,#feffbf 218px,#eff8c7 245px,#e2f2cd 309px,#dcefd1 390px,#dcefd1)"></i><i style="background:linear-gradient(90deg,#2c7bb6,#2c7bb6 194px,#88bfdb 196px,#b2dce5 197px,#edf7c8 199px,#fedf99 200px,#fedd98 205px,#ffffbf 217px,#f0f8c7 241px,#e3f2cd 298px,#dbefd1 389px,#dbefd1)"></i><i style="background:linear-gradient(90deg,#2c7bb6,#2c7bb6 194px,#89c0db 196px,#b3dde5 197px,#eef8c7 199px,#fedf99 200px,#fedf99 206px,#ffffbf 216px,#eff8c7 240px,#e2f2cd 297px,#daeed1 388px,#daeed1)"></i><i style="background:linear-gradient(90deg,#2c7bb6,#2c7bb6 194px,#8ac1dc 196px,#b5dde4 197px,#f1f9c6 199px,#fedf99 200px,#fedf99 206px,#fffebe 215px,#eef7c7 242px,#e1f2ce 299px,#d9eed2 390px,#d9eed2)"></i><i style="background:linear-gradient(90deg,#2c7bb6,#2c7bb6 194px,#8cc2dc 196px,#b7dee3 197px,#f7fbc3 199px,#fedf99 200px,#fedf99 206px,#fffab9 213px,#fefec0 216px,#eef7c7 240px,#e1f1ce 297px,#d9eed2 388px,#d8eed2)"></i><i style="background:linear-gradient(90deg,#2c7bb6,#2c7bb6 194px,#8cc2dd 196px,#b8dfe3 197px,#dcefd0 198px,#fedf99 199px,#fedf99 205px,#fffebe 214px,#eef8c7 238px,#e1f2ce 289px,#d8edd3 391px,#d8edd3)"></i><i style="background:linear-gradient(90deg,#2c7bb6,#2c7bb6 194px,#8bc2dc 196px,#b6dee3 197px,#f6fbc3 199px,#fee19d 200px,#fedf99 204px,#fedf99 205px,#fffdbd 213px,#edf7c8 240px,#e0f1cf 297px,#d7edd3 388px,#d7edd3)"></i><i style="background:linear-gradient(90deg,#2c7bb6,#2c7bb6 194px,#8ac0dc 196px,#b4dde4 197px,#f0f8c7 199px,#fee39e 200px,#fedf99 205px,#fff2b0 209px,#ffffbf 213px,#eef7c8 237px,#e0f1ce 288px,#d6ecd4 390px,#d6ecd4)"></i><i style="background:linear-gradient(90deg,#2c7bb6,#2c7bb6 194px,#88bfdb 196px,#b2dce5 197px,#edf7c8 199px,#fee4a0 200px,#fee5a1 205px,#fffebe 212px,#edf7c8 236px,#e0f1cf 287px,#d5ecd4 389px,#d5ecd4)"></i><i style="background:linear-gradient(90deg,#2c7bb6,#2c7bb6 194px,#87bedb 196px,#b1dce6 197px,#ebf6c9 199px,#fee6a2 200px,#feeaa7 205px,#feffbf 212px,#eef7c8 234px,#e0f1ce 280px,#d4ecd4 382px,#d4ecd5)"></i><i style="background:linear-gradient(90deg,#2c7bb6,#2c7bb6 194px,#86beda 196px,#b0dbe6 197px,#eaf6c9 199px,#fee8a4 200px,#fff0ae 206px,#ffffbf 211px,#eef7c8 233px,#e0f1cf 279px,#d3ebd5)"></i><i style="background:linear-gradient(90deg,#2c7bb6,#2c7bb6 194px,#85bdda 196px,#afdbe7 197px,#eaf5ca 199px,#fee9a6 200px,#fff6b5 207px,#ffffbf 210px,#edf7c8 232px,#dff1cf 278px,#d2ebd5 392px,#d2ebd5)"></i><i style="background:linear-gradient(90deg,#2c7bb6,#2c7bb6 194px,#85bdda 196px,#afdbe7 197px,#e9f5ca 199px,#feeba7 200px,#feffbf 210px,#edf7c8 232px,#dff1cf 273px,#d1ead6 387px,#d1ead6)"></i><i style="background:linear-gradient(90deg,#2c7bb6,#2c7bb6 194px,#84bcd9 196px,#aedbe7 197px,#e9f5ca 199px,#ffeca9 200px,#feffbf 209px,#edf7c8 231px,#dff0cf 272px,#d0ead6 386px,#d0ead6)"></i><i style="background:linear-gradient(90deg,#2c7bb6,#2c7bb6 194px,#aedae7 197px,#e8f5ca 199px,#ffeeab 200px,#feffbf 208px,#ecf7c8 230px,#def0cf 271px,#cfead7 385px,#cfe9d7)"></i><i style="background:linear-gradient(90deg,#2c7bb6,#2c7bb6 194px,#aedae8 197px,#e8f4cb 199px,#ffefad 200px,#ffffbf 207px,#eef7c8 227px,#dff0cf 264px,#cee9d7 392px,#cee9d7)"></i><i style="background:linear-gradient(90deg,#2c7bb6,#2c7bb6 194px,#addae8 197px,#e7f4cb 199px,#fff1af 200px,#fefec0 207px,#e7f4cb 237px,#d7edd3 301px,#cde8d8 392px,#cde8d8)"></i><i style="background:linear-gradient(90deg,#2c7bb6,#2c7bb6 194px,#addae8 197px,#e7f4cb 199px,#fff3b1 200px,#feffbf 206px,#e7f4cb 236px,#d7edd3 293px,#cde8d8 384px,#cce8d8)"></i><i style="background:linear-gradient(90deg,#2c7bb6,#2c7bb6 194px,#addae8 197px,#e6f4cb 199px,#fff4b2 200px,#feffbf 205px,#e8f5ca 232px,#d8edd3 283px,#cce8d9 385px,#cbe8d9)"></i><i style="background:linear-gradient(90deg,#2c7bb6,#2c7bb6 194px,#addae8 197px,#e6f4cc 199px,#fff6b4 200px,#ffffbf 204px,#e4f3cc 237px,#d4ebd5 301px,#cae7d9 392px,#cae7d9)"></i><i style="background:linear-gradient(90deg,#2c7bb6,#2c7bb6 194px,#acdae8 197px,#e5f3cc 199px,#fff7b6 200px,#feffbf 204px,#e4f3cd 237px,#d3ebd5 301px,#c9e7da 392px,#c9e7da)"></i><i style="background:linear-gradient(90deg,#2c7bb6,#2c7bb6 194px,#acd9e8 197px,#e5f3cc 199px,#fff9b8 200px,#feffbf 203px,#e3f2cd 236px,#d3ebd5 293px,#c9e7da 384px,#c8e6da)"></i><i style="background:linear-gradient(90deg,#2c7bb6,#2c7bb6 194px,#acd9e9 197px,#e4f3cc 199px,#fffaba 200px,#fefec0 203px,#e2f2cd 236px,#d2ead6 293px,#c8e6db 384px,#c7e6db)"></i><i style="background:linear-gradient(90deg,#2c7bb6,#2c7bb6 194px,#acd9e9 197px,#fffcbb 200px,#fbfdc1 205px,#e0f1ce 238px,#d0ead6 295px,#c7e6db 386px,#c6e5db)"></i><i style="background:linear-gradient(90deg,#2c7bb6,#2c7bb6 194px,#abd9e9 197px,#fffdbd 200px,#e0f1cf 237px,#d0ead6 288px,#c5e5dc 390px,#c5e5dc)"></i><i style="background:linear-gradient(90deg,#2c7bb6,#2c7bb6 194px,#abd9e9 197px,#ffffbf 200px,#dff0cf 237px,#cfe9d7 288px,#c4e4dc 390px,#c4e4dd)"></i><i style="background:linear-gradient(90deg,#2c7bb6,#2c7bb6 194px,#abd9e9 197px,#feffbf 200px,#e0f1ce 233px,#cfe9d7 279px,#c3e4dd)"></i><i style="background:linear-gradient(90deg,#2c7bb6,#2c7bb6 194px,#aad8e9 197px,#feffc0 200px,#dff1cf 233px,#cee9d7 279px,#c2e3de)"></i><i style="background:linear-gradient(90deg,#2c7bb6,#2c7bb6 194px,#aad8e9 197px,#fdfec0 200px,#def0cf 233px,#cee9d8 274px,#c1e3de 388px,#c1e3de)"></i><i style="background:linear-gradient(90deg,#2c7bb6,#2c7bb6 194px,#a9d8e8 197px,#fdfec0 200px,#ddf0d0 233px,#cde8d8 274px,#c0e2df 388px,#bfe2df)"></i><i style="background:linear-gradient(90deg,#2c7bb6,#2c7bb6 194px,#a9d7e8 197px,#fcfec0 200px,#def0cf 230px,#cde8d8 267px,#bfe2df 381px,#bee2df)"></i><i style="background:linear-gradient(90deg,#2c7bb6,#2c7bb6 194px,#a9d7e8 197px,#fcfec1 200px,#dcefd1 233px,#cce8d8 266px,#bee1e0 380px,#bde1e0)"></i><i style="background:linear-gradient(90deg,#2c7bb6,#2c7bb6 194px,#a8d7e8 197px,#fbfdc1 200px,#dbeed1 233px,#cbe7d9 266px,#bce1e0 380px,#bce1e1)"></i><i style="background:linear-gradient(90deg,#2c7bb6,#2c7bb6 194px,#a8d7e8 197px,#fbfdc1 200px,#d9eed2 233px,#c9e7da 266px,#bbe0e1 380px,#bbe0e1)"></i><i style="background:linear-gradient(90deg,#2c7bb6,#2c7bb6 194px,#a7d6e8 197px,#fafdc1 200px,#d8edd3 233px,#c8e6da 266px,#bae0e2 380px,#b9dfe2)"></i><i style="background:linear-gradient(90deg,#2c7bb6,#2c7bb6 194px,#a7d6e7 197px,#fafdc2 200px,#eaf6c9 213px,#d0ead7 243px,#c4e4dd 284px,#b8dfe2 386px,#b8dfe2)"></i><i style="background:linear-gradient(90deg,#2c7bb6,#2c7bb6 194px,#a7d6e7 197px,#f9fcc2 200px,#d8edd3 230px,#c7e6db 260px,#b7dee3 388px,#b7dee3)"></i><i style="background:linear-gradient(90deg,#2c7bb6,#2c7bb6 194px,#a6d5e7 197px,#f9fcc2 200px,#edf7c8 210px,#d3ebd5 234px,#c4e4dd 267px,#b6dee3 381px,#b6dee4)"></i><i style="background:linear-gradient(90deg,#2c7bb6,#2c7bb6 194px,#a6d5e7 197px,#f8fcc3 200px,#d5ecd4 230px,#c4e4dc 260px,#b6dee4 374px,#b4dde4 392px,#b4dde4)"></i><i style="background:linear-gradient(90deg,#2c7bb6,#2c7bb6 194px,#a6d5e7 197px,#ddf0d0 199px,#f7fcc3 200px,#eef7c8 208px,#d5ecd4 228px,#c5e5dc 255px,#bae0e1 312px,#b3dde5)"></i><i style="background:linear-gradient(90deg,#2c7bb6,#2c7bb6 194px,#a6d5e7 197px,#ddefd0 199px,#f7fbc3 200px,#e8f4cb 211px,#cfe9d7 233px,#bfe2df 266px,#b2dce5 380px,#b2dce6)"></i><i style="background:linear-gradient(90deg,#2c7bb6,#2c7bb6 194px,#a6d5e7 197px,#f6fbc3 200px,#eff8c7 206px,#d9eed2 222px,#c6e5dc 246px,#bae0e1 283px,#b1dce6 385px,#b1dce6)"></i><i style="background:linear-gradient(90deg,#2c7bb6,#2c7bb6 194px,#a6d5e7 197px,#f6fbc4 200px,#e8f5ca 209px,#cee9d8 231px,#bce1e1 264px,#afdbe7 392px,#afdbe7)"></i><i style="background:linear-gradient(90deg,#2c7bb6,#2c7bb6 194px,#a7d6e7 197px,#f5fbc4 200px,#d3ebd5 224px,#bfe2df 251px,#b5dee4 302px,#addae8)"></i><i style="background:linear-gradient(90deg,#2c7bb6,#2c7bb6 194px,#a9d7e8 197px,#def0cf 199px,#f5fac4 200px,#d4ebd5 222px,#bce1e0 252px,#b3dce5 316px,#acd9e9 388px,#acd9e9)"></i><i style="background:linear-gradient(90deg,#2c7bb6,#2c7bb6 194px,#abd9e9 197px,#e3f3cd 199px,#f4fac4 200px,#d4ecd4 220px,#bbe0e1 250px,#b2dce5 301px,#a9d8e8 392px,#a9d8e8)"></i><i style="background:linear-gradient(90deg,#2c7bb6,#2c7bb6 194px,#abd9e9 197px,#cbe8d9 198px,#f4fac5 199px,#cfe9d7 223px,#b9dfe2 250px,#b1dce6 301px,#a7d6e7 392px,#a7d6e7)"></i><i style="background:linear-gradient(90deg,#2c7bb6,#2c7bb6 194px,#a9d7e8 197px,#e1f2ce 199px,#f2f9c6 200px,#cee9d7 222px,#b9dfe2 246px,#b1dce6 283px,#a6d6e7 374px,#a4d4e6 392px,#a4d4e6)"></i><i style="background:linear-gradient(90deg,#2c7bb6,#2c7bb6 194px,#a5d4e7 197px,#daeed1 199px,#f0f8c7 200px,#cce8d8 222px,#b6dee3 246px,#b1dce6 273px,#a6d5e7 354px,#a2d2e5 391px,#a2d2e5)"></i><i style="background:linear-gradient(90deg,#2c7bb6,#2c7bb6 194px,#a2d2e5 197px,#bee2df 198px,#eef7c8 200px,#c8e6da 224px,#b6dee4 242px,#aedae7 272px,#a0d1e4 386px,#9fd0e4)"></i><i style="background:linear-gradient(90deg,#2c7bb6,#2c7bb6 194px,#9fd0e4 197px,#bce1e1 198px,#ecf6c8 200px,#c8e6da 222px,#b5dde4 240px,#a9d8e8 286px,#9dcee3 388px,#9ccee3)"></i><i style="background:linear-gradient(90deg,#2c7bb6,#2c7bb6 194px,#9dcfe3 197px,#bae0e1 198px,#eaf6c9 200px,#c9e6da 220px,#b3dde5 238px,#a8d7e8 275px,#9acce2 389px,#9acce2)"></i><i style="background:linear-gradient(90deg,#2c7bb6,#2c7bb6 194px,#9bcee3 197px,#b9dfe2 198px,#e8f5ca 200px,#c7e6db 220px,#b1dce6 236px,#a6d5e7 266px,#99cce2 380px,#97cae1)"></i><i style="background:linear-gradient(90deg,#2c7bb6,#2c7bb6 194px,#9acde2 197px,#b8dfe3 198px,#e7f4cb 200px,#d5ecd4 209px,#c0e2df 222px,#b1dce6 233px,#a6d5e7 255px,#9bcde3 327px,#94c8e0 391px,#94c8e0)"></i><i style="background:linear-gradient(90deg,#2c7bb6,#2c7bb6 194px,#9acce2 197px,#b7dee3 198px,#e5f3cc 200px,#d8edd3 207px,#c7e6db 217px,#c2e4dd 219px,#b1dce6 229px,#a6d5e7 247px,#9ccee3 284px,#92c6df 386px,#92c6df)"></i><i style="background:linear-gradient(90deg,#2c7bb6,#2c7bb6 194px,#9acce2 197px,#b7dee3 198px,#e3f2cd 200px,#d8edd3 206px,#c7e6db 215px,#c0e2df 218px,#b1dce6 225px,#a6d5e7 241px,#99cce2 274px,#92c6df 376px,#8fc5de 387px,#8ec3dd)"></i><i style="background:linear-gradient(90deg,#2c7bb6,#2c7bb6 194px,#9acde2 197px,#b8dfe3 198px,#e1f1ce 200px,#d7edd3 205px,#c7e6db 213px,#c2e4dd 215px,#b1dce6 221px,#a5d5e7 236px,#99cce2 260px,#92c6df 332px,#92c6df 348px,#8dc3dd 357px,#8bc1dc 390px,#8ac1dc)"></i><i style="background:linear-gradient(90deg,#2c7bb6,#2c7bb6 194px,#9ccee3 197px,#bae0e2 198px,#d1ead6 199px,#dff1cf 200px,#d7edd3 204px,#c7e6db 211px,#c2e4dd 213px,#b1dce6 218px,#a9d8e8 227px,#96c9e1 254px,#92c6df 287px,#92c6df 311px,#8dc3dd 317px,#87bedb 389px,#87beda)"></i><i style="background:linear-gradient(90deg,#2c7bb6,#2c7bb6 194px,#9dcfe3 197px,#bde1e0 198px,#ddf0d0 199px,#d3ebd5 204px,#c2e4dd 211px,#b1dce6 216px,#a5d5e7 226px,#96c9e0 248px,#92c6df 261px,#92c6df 270px,#8dc3dd 276px,#89c0db 313px,#84bcd9 385px,#83bbd9)"></i><i style="background:linear-gradient(90deg,#2c7bb6,#2c7bb6 194px,#9ccee3 197px,#bce1e0 198px,#ddf0d0 199px,#c7e6db 208px,#c7e6db 209px,#b1dce6 214px,#abd9e9 219px,#97cae1 235px,#92c6df 250px,#8fc4de 254px,#86beda 295px,#80b9d8 386px,#7fb8d7)"></i><i style="background:linear-gradient(90deg,#2c7bb6,#2c7bb6 194px,#97cae1 197px,#b5dee4 198px,#cce8d9 199px,#d8edd3 200px,#c7e6db 206px,#c7e6db 207px,#b1dce6 212px,#acd9e9 216px,#97cae1 229px,#92c6df 239px,#92c6df 244px,#8cc2dd 249px,#83bbd9 279px,#7bb6d6)"></i><i style="background:linear-gradient(90deg,#2c7bb6,#2c7bb6 194px,#92c6df 197px,#b0dbe6 198px,#d5ecd4 200px,#c7e6db 204px,#c3e4dd 206px,#b1dce6 210px,#addae8 213px,#98cbe2 223px,#92c6df 230px,#92c6df 235px,#8cc2dc 240px,#81bad8 264px,#79b4d5 328px,#77b3d4 392px,#77b3d4)"></i><i style="background:linear-gradient(90deg,#2c7bb6,#2c7bb6 194px,#addae8 198px,#d2ebd6 200px,#c7e6db 203px,#c7e6db 204px,#b1dce6 209px,#a8d7e8 213px,#97cbe1 220px,#92c6df 225px,#92c6df 228px,#8bc1dc 233px,#7bb6d6 263px,#75b1d3 320px,#74b0d3 392px,#74b0d3)"></i><i style="background:linear-gradient(90deg,#2c7bb6,#2c7bb6 194px,#aad8e8 198px,#cfe9d7 200px,#c7e6db 202px,#c7e6db 203px,#b1dce6 207px,#a7d6e7 211px,#92c6df 218px,#92c6df 222px,#8bc1dc 226px,#76b2d4 259px,#74b0d3 286px,#70add1 291px,#70add1)"></i><i style="background:linear-gradient(90deg,#2c7bb6,#2c7bb6 194px,#a8d7e8 198px,#cce8d9 200px,#c7e6db 202px,#b1dce6 206px,#acdae8 208px,#92c6df 215px,#92c6df 218px,#85bdda 225px,#75b1d3 249px,#73afd2 256px,#70add1 261px,#70add1 288px,#6aa9cf 293px,#69a8ce 384px,#69a8ce)"></i><i style="background:linear-gradient(90deg,#2c7bb6,#2c7bb6 194px,#a8d7e8 198px,#bde1e0 199px,#c9e6da 200px,#c7e6db 201px,#b1dce6 204px,#b1dce6 206px,#a5d5e7 208px,#92c6df 212px,#92c6df 215px,#86beda 219px,#77b2d4 234px,#73b0d3 243px,#70add1 246px,#70add1 257px,#69a8cf 261px,#68a7ce 288px,#64a5cd 308px,#62a3cc 389px,#62a3cc)"></i><i style="background:linear-gradient(90deg,#2c7bb6,#2c7bb6 194px,#87bedb 197px,#a9d8e8 198px,#c7e6db 199px,#b1dce6 203px,#acd9e8 205px,#92c6df 210px,#92c6df 212px,#82bbd9 217px,#76b2d4 227px,#70add1 235px,#70add1 244px,#69a9cf 247px,#65a5cd 258px,#5b9ec9 339px,#5b9ec9)"></i><i style="background:linear-gradient(90deg,#2c7bb6,#2c7bb6 194px,#a0d1e5 198px,#b6dee4 199px,#bde1e0 200px,#b1dce6 201px,#b1dce6 203px,#aad8e9 204px,#92c6df 208px,#92c6df 210px,#83bcd9 213px,#78b3d5 218px,#74b0d3 222px,#70add1 224px,#70add1 232px,#69a8cf 235px,#5b9ec9 265px,#599cc8 311px,#5599c6 329px,#5599c6)"></i><i style="background:linear-gradient(90deg,#2c7bb6,#2c7bb6 194px,#99cce2 198px,#afdbe7 199px,#b7dee3 200px,#abd9e9 202px,#92c6df 206px,#92c6df 208px,#81bad8 211px,#70add1 216px,#70add1 222px,#69a8ce 225px,#5599c6 262px,#5398c6 313px,#4e94c4 318px,#4e94c4)"></i><i style="background:linear-gradient(90deg,#2c7bb6,#2c7bb6 194px,#96c9e1 198px,#b1dce6 199px,#b2dce5 200px,#aad8e9 201px,#92c6df 204px,#92c6df 206px,#7eb8d7 209px,#70add1 212px,#70add1 216px,#68a7ce 219px,#5c9fc9 234px,#5297c5 256px,#4e94c4 258px,#4e94c4 315px,#4890c1 322px,#4890c1)"></i><i style="background:linear-gradient(90deg,#2c7bb6,#2c7bb6 194px,#91c6de 198px,#b1dce6 199px,#a9d8e8 200px,#92c6df 202px,#92c6df 203px,#85bdda 205px,#78b3d5 208px,#70add1 209px,#70add1 212px,#67a6ce 215px,#579ac7 228px,#5297c5 240px,#4e94c4 242px,#4e94c4 257px,#4890c1 262px,#478fc1 313px,#438cbf 333px,#438cbf)"></i><i style="background:linear-gradient(90deg,#2c7bb6,#2c7bb6 194px,#99cce2 199px,#9ccee3 200px,#81bad8 203px,#78b3d5 205px,#70add1 206px,#70add1 209px,#64a5cd 212px,#579bc7 219px,#5297c5 225px,#4e94c4 227px,#4e94c4 240px,#4890c1 245px,#428cbf 278px,#3d88bd 359px,#3d88bd)"></i><i style="background:linear-gradient(90deg,#2c7bb6,#2c7bb6 194px,#7ab5d5 198px,#92c6df 199px,#8dc3dd 200px,#70add1 203px,#70add1 206px,#65a5cd 208px,#5398c6 216px,#4e94c4 217px,#4e94c4 226px,#4890c1 231px,#3d88bd 268px,#3783bb 359px,#3783bb)"></i><i style="background:linear-gradient(90deg,#2c7bb6,#2c7bb6 194px,#7ab5d5 199px,#79b4d5 200px,#70add1 201px,#70add1 202px,#65a6cd 204px,#5499c6 211px,#4e94c4 212px,#4e94c4 216px,#4890c1 221px,#3884bb 262px,#3582ba 284px,#327fb8 386px,#327fb8)"></i><i style="background:linear-gradient(90deg,#2c7bb6,#2c7bb6 194px,#70add1 199px,#5a9dc8 204px,#559ac7 206px,#4e94c4 207px,#4e94c4 211px,#438cbf 220px,#327fb8 261px,#317eb8 283px,#2c7bb6 287px,#2c7bb6)"></i><i style="background:linear-gradient(90deg,#2c7bb6,#2c7bb6 194px,#408abe 196px,#579bc7 198px,#63a4cc 200px,#4e94c4 203px,#4e94c4 207px,#3e89bd 218px,#327fb8 245px,#2f7eb7 250px,#2c7bb6 253px,#2c7bb6)"></i><i style="background:linear-gradient(90deg,#2c7bb6,#2c7bb6 195px,#5095c4 198px,#5499c6 199px,#4e94c4 200px,#4e94c4 203px,#3a85bc 216px,#2f7eb7 236px,#2c7bb6 239px,#2c7bb6)"></i><i style="background:linear-gradient(90deg,#2c7bb6,#2c7bb6 195px,#4e94c4 198px,#3280b9 218px,#2f7eb7 224px,#2c7bb6 227px,#2c7bb6)"></i><i style="background:linear-gradient(90deg,#2c7bb6,#2c7bb6 195px,#408abe 198px,#3d88bd 204px,#2c7bb6 218px,#2c7bb6)"></i><i style="background:linear-gradient(90deg,#2c7bb6,#2c7bb6 196px,#3884bb 198px,#3783ba 204px,#2c7bb6 213px,#2c7bb6)"></i><i style="background:linear-gradient(90deg,#2c7bb6,#2c7bb6 196px,#3380b9 200px,#307eb7 205px,#2c7bb6 208px,#2c7bb6)"></i><i style="height:27px;background:#2c7bb6"></i></div>
<div class="fld" style="left:581px;top:729px;width:393px;height:373px"><i style="background:linear-gradient(90deg,#2c7bb6,#2c7bb6 194px,#a7d6e8 198px,#fafdc1 202px,#fed28a 203px,#fdaf62 205px,#f59053 206px,#ec6941 210px,#e85b3a 211px,#e85b3a)"></i><i style="background:linear-gradient(90deg,#2c7bb6,#2c7bb6 194px,#a7d6e8 198px,#fafdc1 202px,#fed28a 203px,#fdaf62 205px,#f59053 206px,#ea643f 211px,#e85b3a 215px,#e85b3a)"></i><i style="background:linear-gradient(90deg,#2c7bb6,#2c7bb6 194px,#a7d6e8 198px,#fafdc1 202px,#fed28a 203px,#fdaf62 205px,#f59053 206px,#ec6941 211px,#e85b3b 215px,#e85b3b)"></i><i style="background:linear-gradient(90deg,#2c7bb6,#2c7bb6 194px,#a7d6e8 198px,#fafdc1 202px,#fed28a 203px,#fdaf62 205px,#f59053 206px,#eb6740 212px,#e85b3b 215px,#e85b3b)"></i><i style="background:linear-gradient(90deg,#2c7bb6,#2c7bb6 194px,#a7d6e8 198px,#fafdc1 202px,#fed28a 203px,#fdaf62 205px,#f59053 206px,#ea643f 213px,#e85b3b 215px,#e85b3b)"></i><i style="background:linear-gradient(90deg,#2c7bb6,#2c7bb6 194px,#a7d6e8 198px,#fafdc1 202px,#fed18a 203px,#fdaf62 205px,#f59053 206px,#e9603d 214px,#e85c3b 216px,#e85c3b)"></i><i style="height:3px;background:linear-gradient(90deg,#2c7bb6,#2c7bb6 194px,#a7d6e8 198px,#fafdc1 202px,#fed18a 203px,#fdaf62 205px,#f59053 206px,#e85c3b 215px,#e85c3b)"></i><i style="height:2px;background:linear-gradient(90deg,#2c7bb6,#2c7bb6 194px,#a8d6e8 198px,#fafdc1 202px,#fed18a 203px,#fdaf62 205px,#f59053 206px,#e85c3b 215px,#e85d3b 377px,#e85d3b)"></i><i style="height:2px;background:linear-gradient(90deg,#2c7bb6,#2c7bb6 194px,#a8d6e8 198px,#fafdc1 202px,#fed18a 203px,#fdaf62 205px,#f59053 206px,#e85d3b 215px,#e85d3c 377px,#e85d3c)"></i><i style="background:linear-gradient(90deg,#2c7bb6,#2c7bb6 194px,#a8d6e8 198px,#fafdc1 202px,#fed18a 203px,#fdaf62 205px,#f59053 206px,#e85d3b 215px,#e85e3c 377px,#e85e3c)"></i><i style="height:3px;background:linear-gradient(90deg,#2c7bb6,#2c7bb6 194px,#a8d7e8 198px,#fafdc1 202px,#fed18a 203px,#fdaf62 205px,#f59053 206px,#e85d3c 215px,#e95e3c 377px,#e95e3c)"></i><i style="background:linear-gradient(90deg,#2c7bb6,#2c7bb6 194px,#a8d7e8 198px,#fafdc1 202px,#fed18a 203px,#fdaf62 205px,#f59053 206px,#e85e3c 215px,#e95e3c 377px,#e95e3c)"></i><i style="height:2px;background:linear-gradient(90deg,#2c7bb6,#2c7bb6 194px,#a8d7e8 198px,#fbfdc1 202px,#fed18a 203px,#fdaf62 205px,#f59053 206px,#e95e3c 215px,#e95f3c 377px,#e95f3c)"></i><i style="background:linear-gradient(90deg,#2c7bb6,#2c7bb6 194px,#a9d7e8 198px,#fbfdc1 202px,#fed18a 203px,#fdaf62 205px,#f59053 206px,#e95e3c 215px,#e95f3c 377px,#e95f3c)"></i><i style="background:linear-gradient(90deg,#2c7bb6,#2c7bb6 194px,#a9d7e8 198px,#fbfdc1 202px,#fed18a 203px,#fdaf62 205px,#f59053 206px,#e95e3c 215px,#e95f3d 377px,#e95f3d)"></i><i style="background:linear-gradient(90deg,#2c7bb6,#2c7bb6 194px,#a9d8e8 198px,#fbfdc1 202px,#fed18a 203px,#fdaf62 205px,#f59053 206px,#e95e3c 215px,#e9603d 377px,#e9603d)"></i><i style="background:linear-gradient(90deg,#2c7bb6,#2c7bb6 194px,#aad8e9 198px,#fbfdc1 202px,#fed18a 203px,#fdaf62 205px,#f59053 206px,#e95f3c 215px,#e9603d 377px,#e9603d)"></i><i style="background:linear-gradient(90deg,#2c7bb6,#2c7bb6 194px,#abd9e9 198px,#fcfec1 202px,#fed18a 203px,#fdaf62 205px,#f59053 206px,#e95f3c 215px,#e9603d 377px,#e9603d)"></i><i style="background:linear-gradient(90deg,#2c7bb6,#2c7bb6 194px,#acd9e9 198px,#fdfec0 202px,#fed18a 203px,#fdaf62 205px,#f59053 206px,#e95f3c 215px,#e9603d 377px,#e9603d)"></i><i style="background:linear-gradient(90deg,#2c7bb6,#2c7bb6 194px,#addae8 198px,#ffffbf 202px,#fed18a 203px,#fdae61 205px,#f59053 206px,#e95f3c 215px,#e9613d 377px,#e9613d)"></i><i style="background:linear-gradient(90deg,#2c7bb6,#2c7bb6 194px,#8fc4de 197px,#aedae7 198px,#eff8c7 201px,#fff4b2 202px,#fed189 203px,#fdad61 205px,#f59053 206px,#e95f3d 215px,#e9613d 377px,#e9613d)"></i><i style="background:linear-gradient(90deg,#2c7bb6,#2c7bb6 194px,#90c5de 197px,#afdbe7 198px,#f4fac4 201px,#fed189 202px,#fec87f 203px,#fcaa5f 205px,#f59053 206px,#e95f3d 215px,#e9613d 377px,#e9613d)"></i><i style="background:linear-gradient(90deg,#2c7bb6,#2c7bb6 194px,#91c6df 197px,#b0dbe6 198px,#f6fbc3 201px,#fed189 202px,#fdb76c 204px,#fba65d 205px,#f59053 206px,#e9603d 215px,#e9613d 377px,#e9613d)"></i><i style="background:linear-gradient(90deg,#2c7bb6,#2c7bb6 194px,#92c6df 197px,#b1dce6 198px,#f7fbc3 201px,#fed189 202px,#fdb468 204px,#f9a05b 205px,#f59053 206px,#e9603d 215px,#e9613e 377px,#e9613e)"></i><i style="background:linear-gradient(90deg,#2c7bb6,#2c7bb6 194px,#93c7df 197px,#b2dce6 198px,#f7fcc3 201px,#fed189 202px,#fdb164 204px,#f59053 205px,#f59053 206px,#e9603d 215px,#ea623e 377px,#ea623e)"></i><i style="background:linear-gradient(90deg,#2c7bb6,#2c7bb6 194px,#93c7df 197px,#b2dce5 198px,#f8fcc3 201px,#fed189 202px,#fdaf63 204px,#f59053 205px,#e9603d 215px,#ea623e 377px,#ea623e)"></i><i style="background:linear-gradient(90deg,#2c7bb6,#2c7bb6 194px,#94c8e0 197px,#b2dce5 198px,#f8fcc3 201px,#fed189 202px,#fdaf62 204px,#f59053 205px,#e9603d 215px,#ea623e 377px,#ea623e)"></i><i style="background:linear-gradient(90deg,#2c7bb6,#2c7bb6 194px,#94c8e0 197px,#b3dce5 198px,#f8fcc3 201px,#fed189 202px,#fdaf62 204px,#f59053 205px,#e9603d 215px,#ea623e 377px,#ea623e)"></i><i style="background:linear-gradient(90deg,#2c7bb6,#2c7bb6 194px,#94c8e0 197px,#b3dce5 198px,#f8fcc3 201px,#fed189 202px,#fdaf62 204px,#f59053 205px,#e9613d 215px,#ea633e 377px,#ea633e)"></i><i style="height:2px;background:linear-gradient(90deg,#2c7bb6,#2c7bb6 194px,#94c8e0 197px,#b3dde5 198px,#f8fcc3 201px,#fed189 202px,#fdaf62 204px,#f59053 205px,#e9613d 215px,#ea633e 377px,#ea633e)"></i><i style="background:linear-gradient(90deg,#2c7bb6,#2c7bb6 194px,#94c8e0 197px,#b3dde5 198px,#f8fcc2 201px,#fed189 202px,#fdaf62 204px,#f59053 205px,#e9613d 215px,#ea633e 377px,#ea633e)"></i><i style="background:linear-gradient(90deg,#2c7bb6,#2c7bb6 194px,#94c8e0 197px,#b3dde5 198px,#f8fcc2 201px,#fed189 202px,#fdaf62 204px,#f59053 205px,#e9613d 215px,#ea643f 377px,#ea643f)"></i><i style="background:linear-gradient(90deg,#2c7bb6,#2c7bb6 194px,#94c8e0 197px,#b3dde5 198px,#f8fcc2 201px,#fed189 202px,#fdaf62 204px,#f59053 205px,#e9613e 215px,#ea643f 377px,#ea643f)"></i><i style="background:linear-gradient(90deg,#2c7bb6,#2c7bb6 194px,#94c8e0 197px,#b3dde5 198px,#f8fcc2 201px,#fed189 202px,#fdaf62 204px,#f59053 205px,#ea623e 215px,#ea643f 377px,#ea643f)"></i><i style="height:2px;background:linear-gradient(90deg,#2c7bb6,#2c7bb6 194px,#94c8e0 197px,#b3dde5 198px,#f8fcc2 201px,#fed089 202px,#fdaf62 204px,#f59053 205px,#ea623e 215px,#ea643f 377px,#ea643f)"></i><i style="height:3px;background:linear-gradient(90deg,#2c7bb6,#2c7bb6 194px,#94c8e0 197px,#b3dde5 198px,#f8fcc2 201px,#fed089 202px,#fdaf62 204px,#f59053 205px,#ea623e 215px,#ea653f 377px,#ea653f)"></i><i style="background:linear-gradient(90deg,#2c7bb6,#2c7bb6 194px,#94c8e0 197px,#b3dde5 198px,#f8fcc2 201px,#fed089 202px,#fdaf62 204px,#f59053 205px,#ea633e 215px,#ea653f 377px,#ea653f)"></i><i style="background:linear-gradient(90deg,#2c7bb6,#2c7bb6 194px,#94c8e0 197px,#b3dde5 198px,#f8fcc2 201px,#fed089 202px,#fdaf62 204px,#f59053 205px,#ea633e 215px,#eb663f 377px,#eb663f)"></i><i style="height:3px;background:linear-gradient(90deg,#2c7bb6,#2c7bb6 194px,#94c8e0 197px,#b3dde5 198px,#f8fcc2 201px,#fed089 202px,#fdaf62 204px,#f59053 205px,#ea633e 215px,#eb6640 377px,#eb6640)"></i><i style="background:linear-gradient(90deg,#2c7bb6,#2c7bb6 194px,#94c8e0 197px,#b3dde5 198px,#f8fcc2 201px,#fed089 202px,#fdaf62 204px,#f59053 205px,#ea633e 215px,#eb6740 377px,#eb6740)"></i><i style="height:3px;background:linear-gradient(90deg,#2c7bb6,#2c7bb6 194px,#94c8e0 197px,#b3dde5 198px,#f8fcc2 201px,#fed089 202px,#fdaf62 204px,#f59053 205px,#ea643f 215px,#eb6740 377px,#eb6740)"></i><i style="height:2px;background:linear-gradient(90deg,#2c7bb6,#2c7bb6 194px,#94c8e0 197px,#b3dde5 198px,#f8fcc2 201px,#fed089 202px,#fdaf62 204px,#f59053 205px,#ea643f 215px,#eb6840 377px,#eb6840)"></i><i style="background:linear-gradient(90deg,#2c7bb6,#2c7bb6 194px,#94c8e0 197px,#b3dde5 198px,#f8fcc2 201px,#fed089 202px,#fdaf62 204px,#f59053 205px,#ea643f 215px,#eb6841 377px,#eb6841)"></i><i style="background:linear-gradient(90deg,#2c7bb6,#2c7bb6 194px,#94c8e0 197px,#b3dde5 198px,#f8fcc2 201px,#fed089 202px,#fdaf62 204px,#f59053 205px,#ea653f 215px,#eb6841 377px,#eb6841)"></i><i style="background:linear-gradient(90deg,#2c7bb6,#2c7bb6 194px,#94c8e0 197px,#b3dde5 198px,#f8fcc2 201px,#fed088 202px,#fdaf62 204px,#f59053 205px,#ea653f 215px,#eb6841 377px,#eb6841)"></i><i style="height:3px;background:linear-gradient(90deg,#2c7bb6,#2c7bb6 194px,#94c8e0 197px,#b3dde5 198px,#f8fcc2 201px,#fed088 202px,#fdaf62 204px,#f59053 205px,#ea653f 215px,#eb6941 377px,#eb6941)"></i><i style="background:linear-gradient(90deg,#2c7bb6,#2c7bb6 194px,#94c8e0 197px,#b3dde5 198px,#f8fcc2 201px,#fed088 202px,#fdaf62 204px,#f59053 205px,#ea653f 215px,#ec6941 377px,#ec6941)"></i><i style="background:linear-gradient(90deg,#2c7bb6,#2c7bb6 194px,#94c8e0 197px,#b3dde5 198px,#f8fcc2 201px,#fed088 202px,#fdae62 204px,#f59053 205px,#eb663f 215px,#ec6a41 377px,#ec6a41)"></i><i style="background:linear-gradient(90deg,#2c7bb6,#2c7bb6 194px,#94c8e0 197px,#b3dde5 198px,#f8fcc2 201px,#fed088 202px,#fdae62 204px,#f59053 205px,#eb6640 215px,#ec6a41 377px,#ec6a41)"></i><i style="background:linear-gradient(90deg,#2c7bb6,#2c7bb6 194px,#94c8e0 197px,#b3dde5 198px,#f8fcc2 201px,#fed088 202px,#fdae62 204px,#f59053 205px,#eb6640 215px,#ec6a42 377px,#ec6a42)"></i><i style="background:linear-gradient(90deg,#2c7bb6,#2c7bb6 194px,#95c8e0 197px,#b3dde5 198px,#f8fcc2 201px,#fed088 202px,#fdae62 204px,#f59053 205px,#eb6640 215px,#ec6a42 377px,#ec6a42)"></i><i style="height:2px;background:linear-gradient(90deg,#2c7bb6,#2c7bb6 194px,#95c8e0 197px,#b3dde5 198px,#f8fcc2 201px,#fed088 202px,#fdae62 204px,#f59053 205px,#eb6640 215px,#ec6b42 377px,#ec6b42)"></i><i style="background:linear-gradient(90deg,#2c7bb6,#2c7bb6 194px,#95c8e0 197px,#b3dde5 198px,#f8fcc2 201px,#fed088 202px,#fdae62 204px,#f59053 205px,#eb6740 214px,#ec6b42 376px,#ec6b42)"></i><i style="background:linear-gradient(90deg,#2c7bb6,#2c7bb6 194px,#95c8e0 197px,#b3dde5 198px,#f8fcc2 201px,#fed088 202px,#fdae61 204px,#f59053 205px,#eb6740 214px,#ec6b42 376px,#ec6b42)"></i><i style="background:linear-gradient(90deg,#2c7bb6,#2c7bb6 194px,#95c8e0 197px,#b3dde5 198px,#f8fcc2 201px,#fed088 202px,#fdae61 204px,#f59053 205px,#eb6740 214px,#ec6b42 376px,#ec6c42)"></i><i style="background:linear-gradient(90deg,#2c7bb6,#2c7bb6 194px,#95c8e0 197px,#b3dde5 198px,#f8fcc2 201px,#fed088 202px,#fdae61 204px,#f59053 205px,#eb6740 214px,#ec6c42 376px,#ec6c42)"></i><i style="background:linear-gradient(90deg,#2c7bb6,#2c7bb6 194px,#95c8e0 197px,#b3dde5 198px,#f8fcc2 201px,#fed088 202px,#fdae61 204px,#f59053 205px,#eb6840 214px,#ec6c42 376px,#ec6c42)"></i><i style="height:2px;background:linear-gradient(90deg,#2c7bb6,#2c7bb6 194px,#95c8e0 197px,#b3dde5 198px,#f8fcc2 201px,#fed088 202px,#fdae61 204px,#f59053 205px,#eb6841 214px,#ec6c43 376px,#ec6c43)"></i><i style="background:linear-gradient(90deg,#2c7bb6,#2c7bb6 194px,#95c8e0 197px,#b3dde5 198px,#f8fcc2 201px,#fed088 202px,#fdae61 204px,#f59053 205px,#eb6841 214px,#ec6d43 376px,#ec6d43)"></i><i style="background:linear-gradient(90deg,#2c7bb6,#2c7bb6 194px,#95c8e0 197px,#b3dde5 198px,#f8fcc2 201px,#fed088 202px,#fdae61 204px,#f59053 205px,#eb6941 214px,#ec6d43 376px,#ec6d43)"></i><i style="background:linear-gradient(90deg,#2c7bb6,#2c7bb6 194px,#95c8e0 197px,#b3dde5 198px,#f8fcc2 201px,#fecf88 202px,#fdae61 204px,#f59053 205px,#eb6941 214px,#ec6d43 376px,#ec6d43)"></i><i style="background:linear-gradient(90deg,#2c7bb6,#2c7bb6 194px,#95c8e0 197px,#b3dde5 198px,#f8fcc2 201px,#fecf88 202px,#fdae61 204px,#f59053 205px,#eb6941 214px,#ed6d43 376px,#ed6d43)"></i><i style="background:linear-gradient(90deg,#2c7bb6,#2c7bb6 194px,#95c8e0 197px,#b3dde5 198px,#f8fcc2 201px,#fecf88 202px,#fdae61 204px,#f59053 205px,#ec6941 214px,#ed6e43 376px,#ed6e43)"></i><i style="background:linear-gradient(90deg,#2c7bb6,#2c7bb6 194px,#95c8e0 197px,#b3dde5 198px,#f8fcc2 201px,#fecf88 202px,#fdae61 204px,#f59053 205px,#ec6a41 214px,#ed6e43 376px,#ed6e43)"></i><i style="background:linear-gradient(90deg,#2c7bb6,#2c7bb6 194px,#95c8e0 197px,#b3dde5 198px,#f8fcc2 201px,#fecf88 202px,#fdae61 204px,#f59053 205px,#ec6a42 214px,#ed6e43 376px,#ed6e43)"></i><i style="background:linear-gradient(90deg,#2c7bb6,#2c7bb6 194px,#95c8e0 197px,#b3dde5 198px,#f8fcc2 201px,#fecf88 202px,#fdae61 204px,#f59053 205px,#ec6a42 214px,#ed6e44 376px,#ed6e44)"></i><i style="height:4px;background:linear-gradient(90deg,#2c7bb6,#2c7bb6 194px,#95c8e0 197px,#b3dde5 198px,#f8fcc2 201px,#fecf88 202px,#fdae61 204px,#f59053 205px,#ec6b42 214px,#ed6f44 376px,#ed6f44)"></i><i style="height:2px;background:linear-gradient(90deg,#2c7bb6,#2c7bb6 194px,#95c8e0 197px,#b3dde5 198px,#f8fcc2 201px,#fecf88 202px,#fdae61 204px,#f59053 205px,#ec6c42 214px,#ed7044 376px,#ed7044)"></i><i style="background:linear-gradient(90deg,#2c7bb6,#2c7bb6 194px,#95c8e0 197px,#b3dde5 198px,#f8fcc2 201px,#fecf87 202px,#fdae61 204px,#f59053 205px,#ec6c42 214px,#ed7044 376px,#ed7044)"></i><i style="background:linear-gradient(90deg,#2c7bb6,#2c7bb6 194px,#95c8e0 197px,#b3dde5 198px,#f8fcc2 201px,#fecf87 202px,#fdae61 204px,#f59053 205px,#ec6c43 214px,#ed7044 376px,#ed7044)"></i><i style="background:linear-gradient(90deg,#2c7bb6,#2c7bb6 194px,#95c8e0 197px,#b3dde5 198px,#f8fcc2 201px,#fecf87 202px,#fdae61 204px,#f59053 205px,#ec6d43 214px,#ed7045 376px,#ed7145)"></i><i style="background:linear-gradient(90deg,#2c7bb6,#2c7bb6 194px,#95c8e0 197px,#b3dde5 198px,#f8fcc2 201px,#fecf87 202px,#fdae61 204px,#f59053 205px,#ec6d43 214px,#ed7145 376px,#ed7145)"></i><i style="background:linear-gradient(90deg,#2c7bb6,#2c7bb6 194px,#95c8e0 197px,#b3dde5 198px,#f9fcc2 201px,#fecf87 202px,#fdae61 204px,#f59053 205px,#ec6d43 214px,#ed7145 376px,#ed7145)"></i><i style="background:linear-gradient(90deg,#2c7bb6,#2c7bb6 194px,#95c8e0 197px,#b3dde5 198px,#f9fcc2 201px,#fecf87 202px,#fdae61 204px,#f59053 205px,#ed6d43 214px,#ed7145 376px,#ee7145)"></i><i style="background:linear-gradient(90deg,#2c7bb6,#2c7bb6 194px,#95c8e0 197px,#b3dde5 198px,#f9fcc2 201px,#fecf87 202px,#fdae61 204px,#f59053 205px,#ed6e43 214px,#ee7145 376px,#ee7145)"></i><i style="height:2px;background:linear-gradient(90deg,#2c7bb6,#2c7bb6 194px,#95c8e0 197px,#b3dde5 198px,#f9fcc2 201px,#fecf87 202px,#fdae61 204px,#f59053 205px,#ed6e43 214px,#ee7245 376px,#ee7245)"></i><i style="background:linear-gradient(90deg,#2c7bb6,#2c7bb6 194px,#95c8e0 197px,#b3dde5 198px,#f9fcc2 201px,#fecf87 202px,#fdae61 204px,#f59053 205px,#ed6e44 214px,#ee7245 376px,#ee7245)"></i><i style="background:linear-gradient(90deg,#2c7bb6,#2c7bb6 194px,#95c8e0 197px,#b3dde5 198px,#f9fcc2 201px,#fecf87 202px,#fdae61 204px,#f59053 205px,#ed6f44 214px,#ee7245 376px,#ee7245)"></i><i style="background:linear-gradient(90deg,#2c7bb6,#2c7bb6 194px,#95c8e0 197px,#b3dde5 198px,#f9fcc2 201px,#fecf87 202px,#fdad61 204px,#f59053 205px,#ed6f44 214px,#ee7346 376px,#ee7346)"></i><i style="background:linear-gradient(90deg,#2c7bb6,#2c7bb6 194px,#95c9e0 197px,#b3dde5 198px,#f9fcc2 201px,#fecf87 202px,#fcab60 204px,#f59053 205px,#ed6f44 214px,#ee7346 376px,#ee7346)"></i><i style="background:linear-gradient(90deg,#2c7bb6,#2c7bb6 194px,#95c9e0 197px,#b3dde5 198px,#f9fcc2 201px,#fecf87 202px,#fba45c 204px,#f59053 205px,#ed6f44 214px,#ee7346 376px,#ee7346)"></i><i style="background:linear-gradient(90deg,#2c7bb6,#2c7bb6 194px,#95c9e0 197px,#b3dde5 198px,#f9fcc2 201px,#fecf87 202px,#fdb86c 203px,#f59053 204px,#f48c51 206px,#ed7044 214px,#ee7346 376px,#ee7346)"></i><i style="background:linear-gradient(90deg,#2c7bb6,#2c7bb6 194px,#95c9e0 197px,#b3dde5 198px,#f9fcc2 201px,#fecf87 202px,#fdb76b 203px,#f59053 204px,#ed7044 214px,#ee7446 376px,#ee7446)"></i><i style="height:2px;background:linear-gradient(90deg,#2c7bb6,#2c7bb6 194px,#95c9e0 197px,#b3dde5 198px,#f9fcc2 201px,#fecf87 202px,#fdb66b 203px,#f59053 204px,#ed7044 214px,#ee7446 376px,#ee7446)"></i><i style="background:linear-gradient(90deg,#2c7bb6,#2c7bb6 194px,#95c9e0 197px,#b4dde5 198px,#f9fcc2 201px,#fecf87 202px,#fdb66b 203px,#f59053 204px,#ed7145 214px,#ee7446 376px,#ee7446)"></i><i style="background:linear-gradient(90deg,#2c7bb6,#2c7bb6 194px,#95c9e0 197px,#b4dde5 198px,#f9fcc2 201px,#fecf87 202px,#fdb66b 203px,#f59053 204px,#ed7145 214px,#ee7546 376px,#ee7546)"></i><i style="background:linear-gradient(90deg,#2c7bb6,#2c7bb6 194px,#95c9e0 197px,#b4dde5 198px,#f9fcc2 201px,#fecf87 202px,#fdb66b 203px,#f59053 204px,#ed7145 214px,#ee7547 376px,#ee7547)"></i><i style="background:linear-gradient(90deg,#2c7bb6,#2c7bb6 194px,#95c9e0 197px,#b4dde5 198px,#f9fcc2 201px,#fecf87 202px,#fdb66b 203px,#f59053 204px,#ee7145 214px,#ee7547 376px,#ee7547)"></i><i style="background:linear-gradient(90deg,#2c7bb6,#2c7bb6 194px,#96c9e1 197px,#b4dde4 198px,#f9fcc2 201px,#fecf87 202px,#fdb66a 203px,#f59053 204px,#ee7245 214px,#ef7547 376px,#ef7547)"></i><i style="background:linear-gradient(90deg,#2c7bb6,#2c7bb6 194px,#96cae1 197px,#b5dde4 198px,#f9fcc2 201px,#fecf87 202px,#fdb66a 203px,#f59053 204px,#ee7245 214px,#ef7647 376px,#ef7647)"></i><i style="background:linear-gradient(90deg,#2c7bb6,#2c7bb6 194px,#97cae1 197px,#b5dee4 198px,#fafdc2 201px,#fecf87 202px,#fdb66a 203px,#f59053 204px,#ee7245 214px,#ef7647 376px,#ef7647)"></i><i style="background:linear-gradient(90deg,#2c7bb6,#2c7bb6 194px,#98cbe1 197px,#b6dee4 198px,#fafdc1 201px,#fece87 202px,#fdb66a 203px,#f59053 204px,#ee7245 214px,#ef7647 376px,#ef7647)"></i><i style="background:linear-gradient(90deg,#2c7bb6,#2c7bb6 194px,#99cce2 197px,#b7dee3 198px,#fbfdc1 201px,#fece87 202px,#fdb66a 203px,#f59053 204px,#ee7346 214px,#ef7647 376px,#ef7647)"></i><i style="background:linear-gradient(90deg,#2c7bb6,#2c7bb6 194px,#9bcde3 197px,#b9dfe2 198px,#fdfec0 201px,#fece87 202px,#fdb66a 203px,#f59053 204px,#ee7346 214px,#ef7747 376px,#ef7747)"></i><i style="background:linear-gradient(90deg,#2c7bb6,#2c7bb6 194px,#9dcee3 197px,#bae0e1 198px,#ebf6c9 200px,#fff6b5 201px,#fece87 202px,#fdb66a 203px,#f59053 204px,#ee7346 214px,#ef7747 376px,#ef7747)"></i><i style="background:linear-gradient(90deg,#2c7bb6,#2c7bb6 194px,#9fd0e4 197px,#bce1e0 198px,#f1f9c6 200px,#fece87 201px,#fece87 202px,#fdb569 203px,#f59053 204px,#ee7346 214px,#ef7748 376px,#ef7748)"></i><i style="background:linear-gradient(90deg,#2c7bb6,#2c7bb6 194px,#a0d1e5 197px,#bee1e0 198px,#f3fac5 200px,#fece87 201px,#fec47a 202px,#fdb165 203px,#f59053 204px,#ee7446 214px,#ef7748 376px,#ef7748)"></i><i style="background:linear-gradient(90deg,#2c7bb6,#2c7bb6 194px,#a1d2e5 197px,#bfe2df 198px,#f4fac4 200px,#fece86 201px,#fdaf63 203px,#f59053 204px,#ee7446 214px,#ef7848 376px,#ef7848)"></i><i style="background:linear-gradient(90deg,#2c7bb6,#2c7bb6 194px,#a2d2e5 197px,#bfe2df 198px,#f5fac4 200px,#fece86 201px,#fdaf62 203px,#f59053 204px,#ee7446 214px,#ef7848 376px,#ef7848)"></i><i style="background:linear-gradient(90deg,#2c7bb6,#2c7bb6 194px,#a3d3e6 197px,#c0e2df 198px,#f5fbc4 200px,#fece86 201px,#fdae61 203px,#f59053 204px,#ee7446 214px,#ef7848 376px,#ef7848)"></i><i style="background:linear-gradient(90deg,#2c7bb6,#2c7bb6 194px,#a3d3e6 197px,#c0e3de 198px,#f5fbc4 200px,#fece86 201px,#fdae61 203px,#f59053 204px,#ee7546 214px,#ef7848 376px,#ef7848)"></i><i style="background:linear-gradient(90deg,#2c7bb6,#2c7bb6 194px,#a3d3e6 197px,#c0e3de 198px,#f5fbc4 200px,#fece86 201px,#fdae61 203px,#f59053 204px,#ee7547 214px,#ef7948 376px,#ef7948)"></i><i style="background:linear-gradient(90deg,#2c7bb6,#2c7bb6 194px,#a4d3e6 197px,#c0e3de 198px,#f5fbc4 200px,#fece86 201px,#fdae61 203px,#f59053 204px,#ef7547 215px,#ef7948 377px,#ef7948)"></i><i style="background:linear-gradient(90deg,#2c7bb6,#2c7bb6 194px,#a4d4e6 197px,#c1e3de 198px,#f5fbc4 200px,#fece86 201px,#fdae61 203px,#f59053 204px,#ef7647 215px,#ef7948 377px,#ef7948)"></i><i style="background:linear-gradient(90deg,#2c7bb6,#2c7bb6 194px,#a4d4e6 197px,#c1e3de 198px,#f5fbc4 200px,#fece86 201px,#fdae61 203px,#f59053 204px,#ef7647 215px,#f07949 377px,#f07949)"></i><i style="background:linear-gradient(90deg,#2c7bb6,#2c7bb6 194px,#a4d4e6 197px,#c1e3de 198px,#f5fbc4 200px,#fece86 201px,#fdae61 203px,#f59053 204px,#ef7647 215px,#f07949 377px,#f07a49)"></i><i style="background:linear-gradient(90deg,#2c7bb6,#2c7bb6 194px,#a4d4e6 197px,#c1e3de 198px,#f6fbc4 200px,#fece86 201px,#fdae61 203px,#f59053 204px,#ef7647 215px,#f07a49 377px,#f07a49)"></i><i style="height:2px;background:linear-gradient(90deg,#2c7bb6,#2c7bb6 194px,#a4d4e6 197px,#c1e3de 198px,#f6fbc4 200px,#fece86 201px,#fdae61 203px,#f59053 204px,#ef7747 215px,#f07a49 377px,#f07a49)"></i><i style="background:linear-gradient(90deg,#2c7bb6,#2c7bb6 194px,#a4d4e6 197px,#c1e3de 198px,#f6fbc4 200px,#fece86 201px,#fdae61 203px,#f59053 204px,#ef7748 215px,#f07a49 377px,#f07b49)"></i><i style="background:linear-gradient(90deg,#2c7bb6,#2c7bb6 194px,#a4d4e6 197px,#c1e3de 198px,#f6fbc4 200px,#fece86 201px,#fdae61 203px,#f59053 204px,#ef7748 215px,#f07b49 377px,#f07b49)"></i><i style="height:2px;background:linear-gradient(90deg,#2c7bb6,#2c7bb6 194px,#a4d4e6 197px,#c1e3de 198px,#f6fbc4 200px,#fece86 201px,#fdae61 203px,#f59053 204px,#ef7848 215px,#f07b49 377px,#f07b49)"></i><i style="background:linear-gradient(90deg,#2c7bb6,#2c7bb6 194px,#a4d4e6 197px,#c1e3de 198px,#f6fbc4 200px,#fece86 201px,#fdae61 203px,#f59053 204px,#ef7848 215px,#f07b4a 377px,#f07b4a)"></i><i style="height:2px;background:linear-gradient(90deg,#2c7bb6,#2c7bb6 194px,#a4d4e6 197px,#c1e3de 198px,#f6fbc4 200px,#fece86 201px,#fdae61 203px,#f59053 204px,#ef7848 214px,#f07c4a 376px,#f07c4a)"></i><i style="height:2px;background:linear-gradient(90deg,#2c7bb6,#2c7bb6 194px,#a4d4e6 197px,#c1e3de 198px,#f6fbc4 200px,#fece86 201px,#fdae61 203px,#f59053 204px,#ef7948 214px,#f07c4a 376px,#f07c4a)"></i><i style="background:linear-gradient(90deg,#2c7bb6,#2c7bb6 194px,#a4d4e6 197px,#c1e3de 198px,#f6fbc4 200px,#fece86 201px,#fdae61 203px,#f59053 204px,#f07949 214px,#f07d4a 376px,#f07d4a)"></i><i style="background:linear-gradient(90deg,#2c7bb6,#2c7bb6 194px,#a4d4e6 197px,#c1e3de 198px,#f6fbc4 200px,#fece86 201px,#fdad61 203px,#f59053 204px,#f07a49 214px,#f07d4a 376px,#f17d4a)"></i><i style="background:linear-gradient(90deg,#2c7bb6,#2c7bb6 194px,#a4d4e6 197px,#c1e3de 198px,#f6fbc4 200px,#fece86 201px,#fdad61 203px,#f59053 204px,#f07a49 214px,#f17d4a 376px,#f17d4a)"></i><i style="background:linear-gradient(90deg,#2c7bb6,#2c7bb6 194px,#a4d4e6 197px,#c1e3de 198px,#f6fbc4 200px,#fecd86 201px,#fdad61 203px,#f59053 204px,#f07a49 214px,#f17d4b 376px,#f17d4b)"></i><i style="background:linear-gradient(90deg,#2c7bb6,#2c7bb6 194px,#a4d4e6 197px,#c1e3de 198px,#f6fbc4 200px,#fecd86 201px,#fdad61 203px,#f59053 204px,#f07a49 214px,#f17e4b 376px,#f17e4b)"></i><i style="height:3px;background:linear-gradient(90deg,#2c7bb6,#2c7bb6 194px,#a4d4e6 197px,#c1e3de 198px,#f6fbc4 200px,#fecd85 201px,#fdad61 203px,#f59053 204px,#f07b49 214px,#f17e4b 376px,#f17e4b)"></i><i style="background:linear-gradient(90deg,#2c7bb6,#2c7bb6 194px,#a4d4e6 197px,#c1e3de 198px,#f6fbc4 200px,#fecd85 201px,#fdad61 203px,#f59053 204px,#f07b4a 214px,#f17f4b 376px,#f17f4b)"></i><i style="height:2px;background:linear-gradient(90deg,#2c7bb6,#2c7bb6 194px,#a4d4e6 197px,#c1e3de 198px,#f6fbc4 200px,#fecd85 201px,#fdad61 203px,#f59053 204px,#f07c4a 214px,#f17f4b 376px,#f17f4b)"></i><i style="background:linear-gradient(90deg,#2c7bb6,#2c7bb6 194px,#a4d4e6 197px,#c1e3de 198px,#f6fbc4 200px,#fecd85 201px,#fdad61 203px,#f59053 204px,#f07c4a 214px,#f17f4b 376px,#f1804b)"></i><i style="background:linear-gradient(90deg,#2c7bb6,#2c7bb6 194px,#a4d4e6 197px,#c1e3de 198px,#f6fbc4 200px,#fecd85 201px,#fdad61 203px,#f59053 204px,#f07c4a 214px,#f1804c 376px,#f1804c)"></i><i style="height:2px;background:linear-gradient(90deg,#2c7bb6,#2c7bb6 194px,#a4d4e6 197px,#c1e3de 198px,#f6fbc4 200px,#fecd85 201px,#fdad61 203px,#f59053 204px,#f07d4a 214px,#f1804c 376px,#f1804c)"></i><i style="background:linear-gradient(90deg,#2c7bb6,#2c7bb6 194px,#a4d4e6 197px,#c1e3de 198px,#f6fbc4 200px,#fecd85 201px,#fdad61 203px,#f59053 204px,#f17d4a 214px,#f1804c 376px,#f1814c)"></i><i style="background:linear-gradient(90deg,#2c7bb6,#2c7bb6 194px,#a4d4e6 197px,#c1e3de 198px,#f6fbc4 200px,#fecd85 201px,#fdad61 203px,#f59053 204px,#f17d4b 214px,#f1814c 376px,#f1814c)"></i><i style="height:2px;background:linear-gradient(90deg,#2c7bb6,#2c7bb6 194px,#a4d4e6 197px,#c1e3de 198px,#f6fbc4 200px,#fecd85 201px,#fdad61 203px,#f59053 204px,#f17e4b 214px,#f2814c 376px,#f2814c)"></i><i style="background:linear-gradient(90deg,#2c7bb6,#2c7bb6 194px,#a4d4e6 197px,#c1e3de 198px,#f6fbc4 200px,#fecd85 201px,#fdad61 203px,#f59053 204px,#f17e4b 214px,#f2814c 376px,#f2824c)"></i><i style="background:linear-gradient(90deg,#2c7bb6,#2c7bb6 194px,#a4d4e6 197px,#c1e3de 198px,#f6fbc4 200px,#fecd85 201px,#fdad61 203px,#f59053 204px,#f17e4b 214px,#f2824d 376px,#f2824d)"></i><i style="height:2px;background:linear-gradient(90deg,#2c7bb6,#2c7bb6 194px,#a4d4e6 197px,#c1e3de 198px,#f6fbc4 200px,#fecd85 201px,#fdad61 203px,#f59053 204px,#f17f4b 214px,#f2824d 376px,#f2824d)"></i><i style="height:2px;background:linear-gradient(90deg,#2c7bb6,#2c7bb6 194px,#a4d4e6 197px,#c1e3de 198px,#f6fbc4 200px,#fecd85 201px,#fdad61 203px,#f59053 204px,#f17f4b 214px,#f2834d 376px,#f2834d)"></i><i style="height:2px;background:linear-gradient(90deg,#2c7bb6,#2c7bb6 194px,#a4d4e6 197px,#c1e3de 198px,#f6fbc4 200px,#fecd85 201px,#fdad61 203px,#f59053 204px,#f1804c 214px,#f2834d 376px,#f2834d)"></i><i style="background:linear-gradient(90deg,#2c7bb6,#2c7bb6 194px,#a4d4e6 197px,#c1e3de 198px,#f6fbc4 200px,#fecd85 201px,#fdad61 203px,#f59053 204px,#f1804c 214px,#f2844d 376px,#f2844d)"></i><i style="background:linear-gradient(90deg,#2c7bb6,#2c7bb6 194px,#a4d4e6 197px,#c1e3de 198px,#f6fbc4 200px,#fecd85 201px,#fdad60 203px,#f59053 204px,#f1814c 214px,#f2844d 376px,#f2844d)"></i><i style="background:linear-gradient(90deg,#2c7bb6,#2c7bb6 194px,#a4d4e6 197px,#c1e3de 198px,#f6fbc4 200px,#fecd85 201px,#fdad60 203px,#f59053 204px,#f1814c 214px,#f2844e 376px,#f2844e)"></i><i style="background:linear-gradient(90deg,#2c7bb6,#2c7bb6 194px,#a4d4e6 197px,#c1e3de 198px,#f6fbc4 200px,#fecd84 201px,#fdad60 203px,#f59053 204px,#f2814c 214px,#f2844e 376px,#f2844e)"></i><i style="background:linear-gradient(90deg,#2c7bb6,#2c7bb6 194px,#a4d4e6 197px,#c1e3de 198px,#f6fbc4 200px,#fecd84 201px,#fdad60 203px,#f59053 204px,#f2814c 214px,#f2854e 376px,#f2854e)"></i><i style="background:linear-gradient(90deg,#2c7bb6,#2c7bb6 194px,#a4d4e6 197px,#c1e3de 198px,#f6fbc4 200px,#fecc84 201px,#fdad60 203px,#f59053 204px,#f2824c 214px,#f2854e 376px,#f3854e)"></i><i style="height:2px;background:linear-gradient(90deg,#2c7bb6,#2c7bb6 194px,#a4d4e6 197px,#dbefd1 199px,#f6fbc4 200px,#fecc84 201px,#fdad60 203px,#f59053 204px,#f2824d 214px,#f3854e 376px,#f3854e)"></i><i style="background:linear-gradient(90deg,#2c7bb6,#2c7bb6 194px,#a4d4e6 197px,#dbefd1 199px,#f6fbc4 200px,#fecc84 201px,#fdad60 203px,#f59053 204px,#f2824d 214px,#f3864e 376px,#f3864e)"></i><i style="background:linear-gradient(90deg,#2c7bb6,#2c7bb6 194px,#a4d4e6 197px,#dcefd1 199px,#f6fbc3 200px,#fecc84 201px,#fdad60 203px,#f59053 204px,#f2834d 214px,#f3864e 376px,#f3864e)"></i><i style="background:linear-gradient(90deg,#2c7bb6,#2c7bb6 194px,#a4d4e6 197px,#dcefd1 199px,#f6fbc3 200px,#fecc84 201px,#fdad60 203px,#f59053 204px,#f2834d 214px,#f3864f 376px,#f3864f)"></i><i style="background:linear-gradient(90deg,#2c7bb6,#2c7bb6 194px,#a4d4e6 197px,#dcefd1 199px,#f6fbc3 200px,#fecc84 201px,#fdad60 203px,#f59053 204px,#f2834d 215px,#f3864f 377px,#f3864f)"></i><i style="background:linear-gradient(90deg,#2c7bb6,#2c7bb6 194px,#a4d4e6 197px,#dcefd1 199px,#f6fbc3 200px,#fecc84 201px,#fdad60 203px,#f59053 204px,#f2834d 215px,#f3874f 377px,#f3874f)"></i><i style="height:2px;background:linear-gradient(90deg,#2c7bb6,#2c7bb6 194px,#a4d4e6 197px,#dcefd1 199px,#f6fbc3 200px,#fecc84 201px,#fdad60 203px,#f59053 204px,#f2844d 215px,#f3874f 377px,#f3874f)"></i><i style="background:linear-gradient(90deg,#2c7bb6,#2c7bb6 194px,#a4d4e6 197px,#dcefd1 199px,#f6fbc3 200px,#fecc84 201px,#fdad60 203px,#f59053 204px,#f2844e 215px,#f3874f 377px,#f3874f)"></i><i style="background:linear-gradient(90deg,#2c7bb6,#2c7bb6 194px,#a4d4e6 197px,#dcefd1 199px,#f6fbc3 200px,#fecc84 201px,#fdad60 203px,#f59053 204px,#f2844e 215px,#f3884f 377px,#f3884f)"></i><i style="background:linear-gradient(90deg,#2c7bb6,#2c7bb6 194px,#a4d4e6 197px,#dcefd1 199px,#f6fbc3 200px,#fecc84 201px,#fdad60 203px,#f59053 204px,#f2854e 215px,#f3884f 377px,#f3884f)"></i><i style="background:linear-gradient(90deg,#2c7bb6,#2c7bb6 194px,#a4d4e6 197px,#dcefd1 199px,#f6fbc3 200px,#fecc84 201px,#fdad60 203px,#f59053 204px,#f3854e 215px,#f3884f 377px,#f3884f)"></i><i style="background:linear-gradient(90deg,#2c7bb6,#2c7bb6 194px,#a4d4e6 197px,#dcefd1 199px,#f6fbc3 200px,#fecc84 201px,#fdad60 203px,#f59053 204px,#f3854e 215px,#f38850 377px,#f38850)"></i><i style="background:linear-gradient(90deg,#2c7bb6,#2c7bb6 194px,#a4d4e6 197px,#dcefd1 199px,#f6fbc3 200px,#fecc84 201px,#fdad60 203px,#f59053 204px,#f3854e 215px,#f38950 377px,#f38950)"></i><i style="height:2px;background:linear-gradient(90deg,#2c7bb6,#2c7bb6 194px,#a4d4e6 197px,#dcefd1 199px,#f6fbc3 200px,#fecc84 201px,#fdac60 203px,#f59053 204px,#f3864e 215px,#f48950 377px,#f48950)"></i><i style="background:linear-gradient(90deg,#2c7bb6,#2c7bb6 194px,#a4d4e6 197px,#dcefd1 199px,#f6fbc3 200px,#fecc84 201px,#fdac60 203px,#f59053 204px,#f3864f 215px,#f48950 377px,#f48a50)"></i><i style="background:linear-gradient(90deg,#2c7bb6,#2c7bb6 194px,#a4d4e6 197px,#dcefd1 199px,#f6fbc3 200px,#fecc84 201px,#fdac60 203px,#f59053 204px,#f3864f 215px,#f48a50 377px,#f48a50)"></i><i style="background:linear-gradient(90deg,#2c7bb6,#2c7bb6 194px,#a4d4e6 197px,#dcefd1 199px,#f6fbc3 200px,#fecc84 201px,#fdac60 203px,#f59053 204px,#f3874f 215px,#f48a50 377px,#f48a50)"></i><i style="background:linear-gradient(90deg,#2c7bb6,#2c7bb6 194px,#a4d4e6 197px,#dcefd1 199px,#f6fbc3 200px,#fecc84 201px,#fdac60 203px,#f59053 204px,#f3874f 216px,#f48a50 378px,#f48a50)"></i><i style="background:linear-gradient(90deg,#2c7bb6,#2c7bb6 194px,#a4d4e6 197px,#dcefd1 199px,#f6fbc3 200px,#fecc84 201px,#fdac60 203px,#f59053 204px,#f3874f 216px,#f48b51 378px,#f48b51)"></i><i style="height:3px;background:linear-gradient(90deg,#2c7bb6,#2c7bb6 194px,#a4d4e6 197px,#dcefd1 199px,#f6fbc3 200px,#fecc83 201px,#fdac60 203px,#f59053 204px,#f3884f 216px,#f48b51 378px,#f48b51)"></i><i style="background:linear-gradient(90deg,#2c7bb6,#2c7bb6 194px,#a4d4e6 197px,#dcefd1 199px,#f6fbc3 200px,#fecc83 201px,#fdac60 203px,#f59053 204px,#f38850 216px,#f48c51 378px,#f48c51)"></i><i style="background:linear-gradient(90deg,#2c7bb6,#2c7bb6 194px,#a4d4e6 197px,#dcefd1 199px,#f6fbc3 200px,#fecc83 201px,#fdac60 203px,#f59053 204px,#f38950 216px,#f48c51 378px,#f48c51)"></i><i style="background:linear-gradient(90deg,#2c7bb6,#2c7bb6 194px,#a4d4e6 197px,#dcefd1 199px,#f6fbc3 200px,#fecc83 201px,#fdac60 203px,#f59053 204px,#f48950 216px,#f48c51 378px,#f48c51)"></i><i style="background:linear-gradient(90deg,#2c7bb6,#2c7bb6 194px,#a5d4e6 197px,#dcefd1 199px,#f6fbc3 200px,#fecc83 201px,#fdac60 203px,#f59053 204px,#f48950 217px,#f48c51 379px,#f48c51)"></i><i style="background:linear-gradient(90deg,#2c7bb6,#2c7bb6 194px,#a5d4e6 197px,#dcefd1 199px,#f6fbc3 200px,#fecb83 201px,#fdac60 203px,#f59053 204px,#f48950 217px,#f48d52 379px,#f58d52)"></i><i style="background:linear-gradient(90deg,#2c7bb6,#2c7bb6 194px,#a5d4e7 197px,#dcefd1 199px,#f6fbc3 200px,#fecb83 201px,#fdac60 203px,#f59053 204px,#f48a50 217px,#f58d52 379px,#f58d52)"></i><i style="background:linear-gradient(90deg,#2c7bb6,#2c7bb6 194px,#a5d5e7 197px,#dcefd0 199px,#f6fbc3 200px,#fecb83 201px,#fdac60 203px,#f59053 204px,#f48a50 217px,#f58d52 379px,#f58d52)"></i><i style="background:linear-gradient(90deg,#2c7bb6,#2c7bb6 194px,#a5d5e7 197px,#dcefd0 199px,#f7fbc3 200px,#fecb83 201px,#fdac60 203px,#f59053 204px,#f48a50 217px,#f58d52 379px,#f58e52)"></i><i style="background:linear-gradient(90deg,#2c7bb6,#2c7bb6 194px,#a6d5e7 197px,#f7fbc3 200px,#fecb83 201px,#fdac60 203px,#f59053 204px,#f48b51 217px,#f58e52 379px,#f58e52)"></i><i style="background:linear-gradient(90deg,#2c7bb6,#2c7bb6 194px,#a7d6e7 197px,#f7fbc3 200px,#fecb83 201px,#fdac60 203px,#f59053 204px,#f48b51 217px,#f58e52 379px,#f58e52)"></i><i style="background:linear-gradient(90deg,#2c7bb6,#2c7bb6 194px,#a8d7e8 197px,#f8fcc3 200px,#fecb83 201px,#fcac60 203px,#f59053 204px,#f48b51 222px,#f58e52 384px,#f58e52)"></i><i style="background:linear-gradient(90deg,#2c7bb6,#2c7bb6 194px,#aad8e9 197px,#f9fcc2 200px,#fecb83 201px,#fcac60 203px,#f59053 204px,#f48c51 226px,#f58f52 388px,#f58f52)"></i><i style="background:linear-gradient(90deg,#2c7bb6,#2c7bb6 194px,#acd9e9 197px,#fbfdc1 200px,#fecb83 201px,#fcac60 203px,#f59053 204px,#f48c51 234px,#f58f53 378px,#f58f53)"></i><i style="background:linear-gradient(90deg,#2c7bb6,#2c7bb6 194px,#aedae7 197px,#e7f4cb 199px,#fff8b7 200px,#fecb83 201px,#fcab60 203px,#f59053 204px,#f48c51 237px,#f58f53 381px,#f58f53)"></i><i style="background:linear-gradient(90deg,#2c7bb6,#2c7bb6 194px,#86beda 196px,#b0dbe6 197px,#eef7c7 199px,#fec981 200px,#fecb83 201px,#fca95f 203px,#f59053 204px,#f58d52 245px,#f58f53 389px,#f59053)"></i><i style="background:linear-gradient(90deg,#2c7bb6,#2c7bb6 194px,#88bfdb 196px,#b2dce5 197px,#f1f9c6 199px,#fec77e 200px,#fdc177 201px,#fba75e 203px,#f59053 204px,#f58e52 255px,#f59053 383px,#f59053)"></i><i style="background:linear-gradient(90deg,#2c7bb6,#2c7bb6 194px,#89c0db 196px,#b4dde5 197px,#f3fac5 199px,#fec47b 200px,#fdb367 202px,#f59053 204px,#f58e52 268px,#f59053 382px,#f59053)"></i><i style="background:linear-gradient(90deg,#2c7bb6,#2c7bb6 194px,#8ac1dc 196px,#b5dde4 197px,#f4fac4 199px,#fdc278 200px,#fdb164 202px,#f59053 204px,#f58f53 285px,#f59053 387px,#f69153)"></i><i style="background:linear-gradient(90deg,#2c7bb6,#2c7bb6 194px,#8bc1dc 196px,#b5dee4 197px,#f5fac4 199px,#fdbf75 200px,#fdaf62 202px,#f59053 204px,#f59053 318px,#f69254 390px,#f69254)"></i><i style="background:linear-gradient(90deg,#2c7bb6,#2c7bb6 194px,#8cc2dc 196px,#b6dee3 197px,#f6fbc4 199px,#fdbd72 200px,#fdad61 202px,#f59053 204px,#f59053 348px,#f69355 389px,#f69355)"></i><i style="background:linear-gradient(90deg,#2c7bb6,#2c7bb6 194px,#8cc2dd 196px,#b7dee3 197px,#f7fbc3 199px,#fdba6f 200px,#fcab5f 202px,#f59053 204px,#f69254 348px,#f79555 389px,#f79555)"></i><i style="background:linear-gradient(90deg,#2c7bb6,#2c7bb6 194px,#8dc3dd 196px,#b7dee3 197px,#f7fcc3 199px,#fdb86d 200px,#fca85e 202px,#f59053 204px,#f69354 332px,#f79656 389px,#f79656)"></i><i style="background:linear-gradient(90deg,#2c7bb6,#2c7bb6 194px,#8dc3dd 196px,#b8dfe3 197px,#f8fcc2 199px,#fdb56a 200px,#fba65d 202px,#f59053 204px,#f69254 306px,#f79857 387px,#f79857)"></i><i style="background:linear-gradient(90deg,#2c7bb6,#2c7bb6 194px,#8ec3dd 196px,#b8dfe2 197px,#f9fcc2 199px,#fdb367 200px,#faa45c 202px,#f59053 204px,#f69254 295px,#f89957 386px,#f89a58)"></i><i style="background:linear-gradient(90deg,#2c7bb6,#2c7bb6 194px,#8ec4dd 196px,#b9dfe2 197px,#fafdc2 199px,#fdb164 200px,#f59053 204px,#f69354 285px,#f89b58 387px,#f89b58)"></i><i style="background:linear-gradient(90deg,#2c7bb6,#2c7bb6 194px,#8fc4de 196px,#b9dfe2 197px,#fafdc1 199px,#fdae61 200px,#f59053 204px,#f69254 268px,#f89c59 382px,#f99d59)"></i><i style="background:linear-gradient(90deg,#2c7bb6,#2c7bb6 194px,#8fc4de 196px,#b9dfe2 197px,#fbfdc1 199px,#fcaa5f 200px,#f59053 204px,#f69254 261px,#f99e59 375px,#f99e5a 391px,#f99e5a)"></i><i style="background:linear-gradient(90deg,#2c7bb6,#2c7bb6 194px,#8fc5de 196px,#bae0e2 197px,#fcfdc1 199px,#fba55d 200px,#f59053 204px,#f69354 255px,#f99f5a 369px,#f9a05a 391px,#f9a05a)"></i><i style="background:linear-gradient(90deg,#2c7bb6,#2c7bb6 194px,#90c5de 196px,#bae0e1 197px,#fcfec0 199px,#faa05b 200px,#f69154 205px,#f69354 246px,#f9a05a 348px,#faa25b 389px,#faa25b)"></i><i style="background:linear-gradient(90deg,#2c7bb6,#2c7bb6 194px,#90c5de 196px,#bae0e1 197px,#fdfec0 199px,#f89c59 200px,#f59053 207px,#f69355 240px,#faa15b 342px,#faa35c 388px,#faa35c)"></i><i style="background:linear-gradient(90deg,#2c7bb6,#2c7bb6 194px,#90c5de 196px,#bbe0e1 197px,#fdfec0 199px,#f79756 200px,#f69154 206px,#f69254 230px,#faa15b 321px,#fba55d 385px,#fba55d)"></i><i style="background:linear-gradient(90deg,#2c7bb6,#2c7bb6 194px,#90c5de 196px,#bbe0e1 197px,#fefec0 199px,#f79756 200px,#f69254 206px,#f69254 226px,#faa35c 317px,#fba65d 389px,#fba65d)"></i><i style="background:linear-gradient(90deg,#2c7bb6,#2c7bb6 194px,#90c5de 196px,#bbe0e1 197px,#fefec0 199px,#f89857 200px,#f59053 211px,#faa25b 292px,#fba85e 383px,#fba85e)"></i><i style="background:linear-gradient(90deg,#2c7bb6,#2c7bb6 194px,#90c5de 196px,#bbe0e1 197px,#fdfec0 199px,#f89a58 200px,#f59053 212px,#f99f5a 263px,#fca95f 377px,#fcaa5f)"></i><i style="background:linear-gradient(90deg,#2c7bb6,#2c7bb6 194px,#90c5de 196px,#bbe0e1 197px,#fdfec0 199px,#f89b58 200px,#f69355 214px,#faa25b 271px,#fcab60 385px,#fcab60)"></i><i style="background:linear-gradient(90deg,#2c7bb6,#2c7bb6 194px,#90c5de 196px,#bbe0e1 197px,#fdfec0 199px,#f99c59 200px,#f79656 215px,#fba65d 287px,#fdad61 389px,#fdad61)"></i><i style="background:linear-gradient(90deg,#2c7bb6,#2c7bb6 194px,#90c5de 196px,#bae0e1 197px,#fdfec0 199px,#f99e59 200px,#f89957 216px,#fca95f 297px,#fdae61 388px,#fdae61)"></i><i style="background:linear-gradient(90deg,#2c7bb6,#2c7bb6 194px,#90c5de 196px,#bae0e1 197px,#fdfec0 199px,#f99f5a 200px,#f89b58 218px,#fcab60 299px,#fdaf62 390px,#fdaf62)"></i><i style="background:linear-gradient(90deg,#2c7bb6,#2c7bb6 194px,#90c5de 196px,#bae0e1 197px,#fcfec0 199px,#faa05b 200px,#f99d59 218px,#fdae61 309px,#fdb063 390px,#fdb063)"></i><i style="background:linear-gradient(90deg,#2c7bb6,#2c7bb6 194px,#90c5de 196px,#bae0e1 197px,#fcfec0 199px,#faa25b 200px,#faa05b 222px,#fdaf62 303px,#fdb164 384px,#fdb164)"></i><i style="background:linear-gradient(90deg,#2c7bb6,#2c7bb6 194px,#90c5de 196px,#bae0e1 197px,#fcfec0 199px,#faa35c 200px,#faa35c 224px,#fdb063 305px,#fdb266 386px,#fdb266)"></i><i style="background:linear-gradient(90deg,#2c7bb6,#2c7bb6 194px,#90c5de 196px,#bae0e2 197px,#fcfec1 199px,#fba45d 200px,#fba65d 227px,#fdb064 299px,#fdb367 390px,#fdb367)"></i><i style="background:linear-gradient(90deg,#2c7bb6,#2c7bb6 194px,#90c5de 196px,#bae0e2 197px,#fcfdc1 199px,#fba65d 200px,#fca95f 233px,#fdb266 324px,#fdb468 388px,#fdb468)"></i><i style="background:linear-gradient(90deg,#2c7bb6,#2c7bb6 194px,#8fc5de 196px,#bae0e2 197px,#fbfdc1 199px,#fba75e 200px,#fdb367 314px,#fdb569 386px,#fdb569)"></i><i style="background:linear-gradient(90deg,#2c7bb6,#2c7bb6 194px,#8fc4de 196px,#bae0e2 197px,#fbfdc1 199px,#fca85e 200px,#fdb468 328px,#fdb66a)"></i><i style="background:linear-gradient(90deg,#2c7bb6,#2c7bb6 194px,#8fc4de 196px,#b9e0e2 197px,#fbfdc1 199px,#fcaa5f 200px,#fdb569 328px,#fdb66b)"></i><i style="background:linear-gradient(90deg,#2c7bb6,#2c7bb6 194px,#8fc4de 196px,#b9dfe2 197px,#fbfdc1 199px,#fcab60 200px,#fdb76b 344px,#fdb76c 390px,#fdb76c)"></i><i style="background:linear-gradient(90deg,#2c7bb6,#2c7bb6 194px,#8fc4de 196px,#b9dfe2 197px,#fbfdc1 199px,#fdac60 200px,#fdb86c 344px,#fdb86d 390px,#fdb86d)"></i><i style="background:linear-gradient(90deg,#2c7bb6,#2c7bb6 194px,#8fc4de 196px,#b9dfe2 197px,#fafdc1 199px,#fdae61 200px,#fdb86d 344px,#fdb96e 390px,#fdb96e)"></i><i style="background:linear-gradient(90deg,#2c7bb6,#2c7bb6 194px,#8fc4de 196px,#b9dfe2 197px,#fafdc1 199px,#fdaf62 200px,#fdb96e 344px,#fdba6f 390px,#fdba6f)"></i><i style="background:linear-gradient(90deg,#2c7bb6,#2c7bb6 194px,#8ec4de 196px,#b9dfe2 197px,#fafdc2 199px,#fdb063 200px,#fdba6f 344px,#fdbb70 390px,#fdbb70)"></i><i style="background:linear-gradient(90deg,#2c7bb6,#2c7bb6 194px,#8ec4dd 196px,#b9dfe2 197px,#fafdc2 199px,#fdb164 200px,#fdbb70 328px,#fdbc71)"></i><i style="background:linear-gradient(90deg,#2c7bb6,#2c7bb6 194px,#8ec4dd 196px,#b8dfe2 197px,#f9fcc2 199px,#fdb265 200px,#fdbc71 328px,#fdbd72)"></i><i style="background:linear-gradient(90deg,#2c7bb6,#2c7bb6 194px,#8ec4dd 196px,#b8dfe2 197px,#f9fcc2 199px,#fdb366 200px,#fdbd72 328px,#fdbe73)"></i><i style="background:linear-gradient(90deg,#2c7bb6,#2c7bb6 194px,#8ec3dd 196px,#b8dfe2 197px,#f9fcc2 199px,#fdb467 200px,#fdbe73 328px,#fdbf74)"></i><i style="background:linear-gradient(90deg,#2c7bb6,#2c7bb6 194px,#8ec3dd 196px,#b8dfe3 197px,#f8fcc2 199px,#fdb569 200px,#fdbf74 328px,#fdbf75)"></i><i style="background:linear-gradient(90deg,#2c7bb6,#2c7bb6 194px,#8dc3dd 196px,#b8dfe3 197px,#f8fcc2 199px,#fdb66a 200px,#fdc075 328px,#fdc076)"></i><i style="background:linear-gradient(90deg,#2c7bb6,#2c7bb6 194px,#8dc3dd 196px,#b8dfe3 197px,#f8fcc3 199px,#fdb76b 200px,#fdc076 328px,#fdc177)"></i><i style="background:linear-gradient(90deg,#2c7bb6,#2c7bb6 194px,#8dc3dd 196px,#b7dfe3 197px,#f8fcc3 199px,#fdb76c 200px,#fdc178 328px,#fdc278)"></i><i style="background:linear-gradient(90deg,#2c7bb6,#2c7bb6 194px,#8dc3dd 196px,#b7dfe3 197px,#f7fcc3 199px,#fdb86d 200px,#fec279 328px,#fec37a)"></i><i style="background:linear-gradient(90deg,#2c7bb6,#2c7bb6 194px,#8dc3dd 196px,#b7dee3 197px,#f7fbc3 199px,#fdb96e 200px,#fec37a 328px,#fec47b)"></i><i style="background:linear-gradient(90deg,#2c7bb6,#2c7bb6 194px,#8dc3dd 196px,#b7dee3 197px,#f7fbc3 199px,#fdba6f 200px,#fec47a 314px,#fec57c 386px,#fec57c)"></i><i style="background:linear-gradient(90deg,#2c7bb6,#2c7bb6 194px,#8cc2dd 196px,#b7dee3 197px,#f6fbc3 199px,#fdbb71 200px,#fec57b 314px,#fec67d 386px,#fec67d)"></i><i style="background:linear-gradient(90deg,#2c7bb6,#2c7bb6 194px,#8cc2dd 196px,#b7dee3 197px,#f6fbc3 199px,#fdbc72 200px,#fec67d 314px,#fec77e 386px,#fec77e)"></i><i style="background:linear-gradient(90deg,#2c7bb6,#2c7bb6 194px,#8cc2dd 196px,#b6dee3 197px,#f6fbc4 199px,#fdbd73 200px,#fec77e 314px,#fec87f 386px,#fec87f)"></i><i style="background:linear-gradient(90deg,#2c7bb6,#2c7bb6 194px,#8cc2dd 196px,#b6dee3 197px,#f6fbc4 199px,#fdbe74 200px,#fec87f 314px,#fec980 386px,#fec980)"></i><i style="background:linear-gradient(90deg,#2c7bb6,#2c7bb6 194px,#8cc2dc 196px,#b6dee4 197px,#f5fbc4 199px,#fdbf75 200px,#fec87f 302px,#fec981 383px,#feca81)"></i><i style="background:linear-gradient(90deg,#2c7bb6,#2c7bb6 194px,#8cc2dc 196px,#b6dee4 197px,#f5fbc4 199px,#fdc076 200px,#fec981 302px,#feca82 383px,#feca82)"></i><i style="background:linear-gradient(90deg,#2c7bb6,#2c7bb6 194px,#8bc2dc 196px,#b6dee4 197px,#f5fac4 199px,#fdc177 200px,#feca82 302px,#fecb83 383px,#fecb83)"></i><i style="background:linear-gradient(90deg,#2c7bb6,#2c7bb6 194px,#8bc1dc 196px,#b5dee4 197px,#f4fac4 199px,#fec279 200px,#fecb83 302px,#fecc84 383px,#fecc84)"></i><i style="background:linear-gradient(90deg,#2c7bb6,#2c7bb6 194px,#8bc1dc 196px,#b5dee4 197px,#f4fac4 199px,#fec47a 200px,#fecc84 314px,#fecd85 386px,#fecd85)"></i><i style="background:linear-gradient(90deg,#2c7bb6,#2c7bb6 194px,#8bc1dc 196px,#b5dee4 197px,#f4fac5 199px,#fec57c 200px,#fecd85 314px,#fece86 386px,#fece86)"></i><i style="background:linear-gradient(90deg,#2c7bb6,#2c7bb6 194px,#8bc1dc 196px,#b5dde4 197px,#f3fac5 199px,#fec67d 200px,#fecf87 328px,#fecf87)"></i><i style="background:linear-gradient(90deg,#2c7bb6,#2c7bb6 194px,#8ac1dc 196px,#b5dde4 197px,#f3fac5 199px,#fec87f 200px,#fecf88 328px,#fed088)"></i><i style="background:linear-gradient(90deg,#2c7bb6,#2c7bb6 194px,#8ac1dc 196px,#b4dde4 197px,#f3f9c5 199px,#fec980 200px,#fed089 328px,#fed189)"></i><i style="background:linear-gradient(90deg,#2c7bb6,#2c7bb6 194px,#8ac0dc 196px,#b4dde4 197px,#f2f9c5 199px,#feca82 200px,#fed28a 344px,#fed28a)"></i><i style="background:linear-gradient(90deg,#2c7bb6,#2c7bb6 194px,#8ac0dc 196px,#b4dde5 197px,#f2f9c6 199px,#fecb83 200px,#fed28b 344px,#fed38c 390px,#fed38c)"></i><i style="background:linear-gradient(90deg,#2c7bb6,#2c7bb6 194px,#89c0dc 196px,#b4dde5 197px,#f1f9c6 199px,#fecd85 200px,#fed48d 362px,#fed48d)"></i><i style="background:linear-gradient(90deg,#2c7bb6,#2c7bb6 194px,#89c0db 196px,#b3dde5 197px,#f1f9c6 199px,#fece86 200px,#fed48e 362px,#fed58e)"></i><i style="background:linear-gradient(90deg,#2c7bb6,#2c7bb6 194px,#89c0db 196px,#b3dde5 197px,#f1f9c6 199px,#fecf88 200px,#fed58f 362px,#fed58f)"></i><i style="background:linear-gradient(90deg,#2c7bb6,#2c7bb6 194px,#89c0db 196px,#b3dde5 197px,#f0f8c6 199px,#fed189 200px,#fed690 382px,#fed690)"></i><i style="background:linear-gradient(90deg,#2c7bb6,#2c7bb6 194px,#89c0db 196px,#b3dde5 197px,#f0f8c6 199px,#fed28b 200px,#fed791 382px,#fed791)"></i><i style="background:linear-gradient(90deg,#2c7bb6,#2c7bb6 194px,#88bfdb 196px,#b3dce5 197px,#f0f8c7 199px,#fed38c 200px,#fed892 382px,#fed892)"></i><i style="background:linear-gradient(90deg,#2c7bb6,#2c7bb6 194px,#88bfdb 196px,#b2dce5 197px,#eff8c7 199px,#fed58e 200px,#fed993 382px,#fed993)"></i><i style="background:linear-gradient(90deg,#2c7bb6,#2c7bb6 194px,#88bfdb 196px,#b2dce5 197px,#eff8c7 199px,#fed68f 200px,#feda94 382px,#feda94)"></i><i style="background:linear-gradient(90deg,#2c7bb6,#2c7bb6 194px,#88bfdb 196px,#b2dce5 197px,#eff8c7 199px,#fed690 200px,#fedb95 382px,#fedb95)"></i><i style="background:linear-gradient(90deg,#2c7bb6,#2c7bb6 194px,#88bfdb 196px,#b2dce5 197px,#eff8c7 199px,#fed791 200px,#fedc96 382px,#fedc96)"></i><i style="background:linear-gradient(90deg,#2c7bb6,#2c7bb6 194px,#88bfdb 196px,#b2dce5 197px,#eef8c7 199px,#fed892 200px,#fedd97 382px,#fedd97)"></i><i style="background:linear-gradient(90deg,#2c7bb6,#2c7bb6 194px,#88bfdb 196px,#b2dce5 197px,#eef8c7 199px,#fed993 200px,#fede98 362px,#fede98)"></i><i style="background:linear-gradient(90deg,#2c7bb6,#2c7bb6 194px,#89c0db 196px,#b3dde5 197px,#eff8c7 199px,#feda94 200px,#fedf99 344px,#fedf99)"></i><i style="background:linear-gradient(90deg,#2c7bb6,#2c7bb6 194px,#8ac0dc 196px,#b4dde5 197px,#eff8c7 199px,#fedb95 200px,#fee19d 328px,#fee19d)"></i><i style="background:linear-gradient(90deg,#2c7bb6,#2c7bb6 194px,#8bc1dc 196px,#b5dee4 197px,#f1f9c6 199px,#fedc97 200px,#fedf99 246px,#fee29d 270px,#fee4a0 384px,#fee4a0)"></i><i style="background:linear-gradient(90deg,#2c7bb6,#2c7bb6 194px,#8cc2dd 196px,#b7dee3 197px,#f7fcc3 199px,#fede98 200px,#fee09b 230px,#fee7a3 311px,#fee7a3)"></i><i style="background:linear-gradient(90deg,#2c7bb6,#2c7bb6 194px,#8dc2dd 196px,#b8dfe3 197px,#dcefd0 198px,#fedf99 199px,#fee09b 219px,#fee7a4 270px,#feeaa6 384px,#feeaa6)"></i><i style="background:linear-gradient(90deg,#2c7bb6,#2c7bb6 194px,#8bc2dc 196px,#b6dee3 197px,#f6fbc3 199px,#fee29d 200px,#fede99 204px,#fee29d 217px,#feeaa7 258px,#ffedaa 386px,#ffedaa)"></i><i style="background:linear-gradient(90deg,#2c7bb6,#2c7bb6 194px,#8ac0dc 196px,#b4dde5 197px,#eff8c7 199px,#fee49f 200px,#fedf99 201px,#fee29d 212px,#feeaa7 239px,#fff0ad 330px,#fff0ad)"></i><i style="background:linear-gradient(90deg,#2c7bb6,#2c7bb6 194px,#88bfdb 196px,#b2dce6 197px,#ecf7c8 199px,#fee6a2 200px,#fedf99 202px,#ffeca9 232px,#fff2b0 323px,#fff2b0)"></i><i style="background:linear-gradient(90deg,#2c7bb6,#2c7bb6 194px,#86beda 196px,#b1dbe6 197px,#ebf6c9 199px,#fee9a5 200px,#fee39e 204px,#ffefad 234px,#fff5b4 325px,#fff5b4)"></i><i style="background:linear-gradient(90deg,#2c7bb6,#2c7bb6 194px,#85bdda 196px,#afdbe7 197px,#e9f5ca 199px,#ffeba8 200px,#fee7a4 206px,#fff3b1 236px,#fff8b7 338px,#fff8b7)"></i><i style="background:linear-gradient(90deg,#2c7bb6,#2c7bb6 194px,#85bdda 196px,#afdbe7 197px,#e8f5ca 199px,#ffedaa 200px,#ffeca9 208px,#fff6b5 241px,#fffbba 343px,#fffbba)"></i><i style="background:linear-gradient(90deg,#2c7bb6,#2c7bb6 194px,#aedae7 197px,#e8f4cb 199px,#fff0ad 200px,#fff1af 212px,#fffaba 249px,#fffebd 377px,#fffebd)"></i><i style="background:linear-gradient(90deg,#2c7bb6,#2c7bb6 194px,#addae8 197px,#e7f4cb 199px,#fff2b0 200px,#fff8b6 220px,#ffffbf 277px,#ffffbf)"></i><i style="background:linear-gradient(90deg,#2c7bb6,#2c7bb6 194px,#addae8 197px,#e6f4cb 199px,#fff4b2 200px,#ffffbf 246px,#fefec0 390px,#fefec0)"></i><i style="background:linear-gradient(90deg,#2c7bb6,#2c7bb6 194px,#addae8 197px,#e5f3cc 199px,#fff7b5 200px,#feffbf 233px,#fdfec0 377px,#fdfec0)"></i><i style="background:linear-gradient(90deg,#2c7bb6,#2c7bb6 194px,#acdae8 197px,#e5f3cc 199px,#fff9b8 200px,#feffc0 224px,#fcfdc1 386px,#fcfdc1)"></i><i style="background:linear-gradient(90deg,#2c7bb6,#2c7bb6 194px,#acd9e9 197px,#e4f3cc 199px,#fffbbb 200px,#fdfec0 220px,#fbfdc1 382px,#fbfdc1)"></i><i style="background:linear-gradient(90deg,#2c7bb6,#2c7bb6 194px,#abd9e9 197px,#fffebd 200px,#fafdc2 328px,#fafdc2)"></i><i style="background:linear-gradient(90deg,#2c7bb6,#2c7bb6 194px,#abd9e9 197px,#ffffbf 200px,#f9fcc2 291px,#f9fcc2)"></i><i style="background:linear-gradient(90deg,#2c7bb6,#2c7bb6 194px,#aad8e9 197px,#fefec0 200px,#f8fcc3 281px,#f8fcc3)"></i><i style="background:linear-gradient(90deg,#2c7bb6,#2c7bb6 194px,#aad8e8 197px,#fdfec0 200px,#f7fbc3 272px,#f7fbc3)"></i><i style="background:linear-gradient(90deg,#2c7bb6,#2c7bb6 194px,#a9d8e8 197px,#fcfec0 200px,#f6fbc4 264px,#f6fbc4)"></i><i style="background:linear-gradient(90deg,#2c7bb6,#2c7bb6 194px,#a8d7e8 197px,#fbfdc1 200px,#f5fac4 257px,#f5fac4)"></i><i style="background:linear-gradient(90deg,#2c7bb6,#2c7bb6 194px,#a8d7e8 197px,#fbfdc1 200px,#f5fac4 246px,#f4fac5 390px,#f4fac5)"></i><i style="background:linear-gradient(90deg,#2c7bb6,#2c7bb6 194px,#a7d6e8 197px,#fafdc2 200px,#f4fac5 237px,#f2f9c5 381px,#f2f9c5)"></i><i style="background:linear-gradient(90deg,#2c7bb6,#2c7bb6 194px,#a7d6e7 197px,#f9fcc2 200px,#f2f9c5 233px,#f0f8c6 377px,#f0f8c6)"></i><i style="background:linear-gradient(90deg,#2c7bb6,#2c7bb6 194px,#a7d6e7 197px,#f8fcc2 200px,#f2f9c6 222px,#eff8c7 384px,#eff8c7)"></i><i style="background:linear-gradient(90deg,#2c7bb6,#2c7bb6 194px,#a7d6e7 197px,#f7fcc3 200px,#eff8c7 230px,#edf7c8)"></i><i style="background:linear-gradient(90deg,#2c7bb6,#2c7bb6 194px,#a7d6e7 197px,#f7fbc3 200px,#eef7c8 224px,#ebf6c9 386px,#ebf6c9)"></i><i style="background:linear-gradient(90deg,#2c7bb6,#2c7bb6 194px,#a7d6e8 197px,#f6fbc4 200px,#edf7c8 220px,#e9f5ca 382px,#e9f5ca)"></i><i style="background:linear-gradient(90deg,#2c7bb6,#2c7bb6 194px,#a9d7e8 197px,#dff0cf 199px,#f5fac4 200px,#ebf6c9 218px,#e8f4cb 380px,#e8f4cb)"></i><i style="background:linear-gradient(90deg,#2c7bb6,#2c7bb6 194px,#abd9e9 197px,#e4f3cd 199px,#f4fac4 200px,#eaf5ca 215px,#e6f4cb 343px,#e6f4cb)"></i><i style="background:linear-gradient(90deg,#2c7bb6,#2c7bb6 194px,#abd9e9 197px,#cbe7d9 198px,#f4fac5 199px,#e9f5ca 213px,#e4f3cc 315px,#e4f3cc)"></i><i style="background:linear-gradient(90deg,#2c7bb6,#2c7bb6 194px,#a8d7e8 197px,#e1f1ce 199px,#f1f9c6 200px,#e7f4cb 213px,#e3f2cd 315px,#e3f2cd)"></i><i style="background:linear-gradient(90deg,#2c7bb6,#2c7bb6 194px,#a4d4e6 197px,#daeed2 199px,#eff8c7 200px,#e5f3cc 213px,#e1f1ce 304px,#e1f1ce)"></i><i style="background:linear-gradient(90deg,#2c7bb6,#2c7bb6 194px,#a1d2e5 197px,#bde1e0 198px,#edf7c8 200px,#e3f2cd 213px,#dff1cf 304px,#dff1cf)"></i><i style="background:linear-gradient(90deg,#2c7bb6,#2c7bb6 194px,#9ecfe4 197px,#bbe0e1 198px,#eaf6c9 200px,#e1f2ce 212px,#ddf0d0 284px,#ddf0d0)"></i><i style="background:linear-gradient(90deg,#2c7bb6,#2c7bb6 194px,#9ccee3 197px,#b9dfe2 198px,#e8f5ca 200px,#dff1cf 211px,#dbefd1 283px,#dbefd1)"></i><i style="background:linear-gradient(90deg,#2c7bb6,#2c7bb6 194px,#9bcde2 197px,#b8dfe3 198px,#e6f4cc 200px,#ddf0d0 209px,#d8eed2 290px,#d8eed2)"></i><i style="background:linear-gradient(90deg,#2c7bb6,#2c7bb6 194px,#9acce2 197px,#b7dfe3 198px,#e4f3cd 200px,#ddf0d0 203px,#d6ecd4 267px,#d6ecd4)"></i><i style="background:linear-gradient(90deg,#2c7bb6,#2c7bb6 194px,#9acce2 197px,#b7dfe3 198px,#e1f2ce 200px,#dcefd0 203px,#d4ebd5 249px,#d3ebd5 377px,#d3ebd5)"></i><i style="background:linear-gradient(90deg,#2c7bb6,#2c7bb6 194px,#9acce2 197px,#b9dfe2 198px,#d1ead6 199px,#dff1cf 200px,#d6edd3 212px,#d1ead6 284px,#d1ead6)"></i><i style="background:linear-gradient(90deg,#2c7bb6,#2c7bb6 194px,#9acce2 197px,#bbe0e1 198px,#ddf0d0 199px,#d4ebd5 213px,#cee9d7 285px,#cee9d7)"></i><i style="background:linear-gradient(90deg,#2c7bb6,#2c7bb6 194px,#97cae1 197px,#b6dee4 198px,#cde8d8 199px,#daeed1 200px,#d1ead6 213px,#cce8d9 285px,#cce8d9)"></i><i style="background:linear-gradient(90deg,#2c7bb6,#2c7bb6 194px,#93c7df 197px,#b1dce6 198px,#d8edd3 200px,#cfe9d7 213px,#c9e7da 277px,#c9e7da)"></i><i style="background:linear-gradient(90deg,#2c7bb6,#2c7bb6 194px,#8fc4de 197px,#aedae8 198px,#d5ecd4 200px,#cce8d8 213px,#c7e6db 270px,#c7e6db)"></i><i style="background:linear-gradient(90deg,#2c7bb6,#2c7bb6 194px,#abd9e9 198px,#d3ebd5 200px,#cae7da 211px,#c4e4dd 275px,#c4e4dd)"></i><i style="background:linear-gradient(90deg,#2c7bb6,#2c7bb6 194px,#a9d7e8 198px,#d0ead6 200px,#c7e6db 208px,#c1e3de 280px,#c1e3de)"></i><i style="background:linear-gradient(90deg,#2c7bb6,#2c7bb6 194px,#a7d6e7 198px,#cee9d8 200px,#c7e6db 203px,#bde1e0 254px,#bde1e0)"></i><i style="background:linear-gradient(90deg,#2c7bb6,#2c7bb6 194px,#a7d6e7 198px,#cbe8d9 200px,#c3e4dd 206px,#bae0e1 252px,#bae0e1)"></i><i style="background:linear-gradient(90deg,#2c7bb6,#2c7bb6 194px,#a8d6e8 198px,#bde1e0 199px,#c9e7da 200px,#bfe2df 207px,#b7dee3 258px,#b7dee3)"></i><i style="background:linear-gradient(90deg,#2c7bb6,#2c7bb6 194px,#87bfdb 197px,#a9d8e8 198px,#c7e6db 199px,#bbe0e1 207px,#b4dde5 253px,#b4dde5)"></i><i style="background:linear-gradient(90deg,#2c7bb6,#2c7bb6 194px,#a2d2e5 198px,#b7dfe3 199px,#c1e3de 200px,#b8dfe2 206px,#b1dce6 247px,#b1dce6)"></i><i style="background:linear-gradient(90deg,#2c7bb6,#2c7bb6 194px,#9bcde3 198px,#b1dce6 199px,#bde1e0 200px,#b5dee4 204px,#b1dce6 215px,#b1dce6 233px,#acdae8 243px,#acdae8)"></i><i style="background:linear-gradient(90deg,#2c7bb6,#2c7bb6 194px,#97cbe1 198px,#aedae8 199px,#b8dfe2 200px,#b1dce6 201px,#aedae8 209px,#abd9e9 233px,#a6d5e7 245px,#a6d5e7)"></i><i style="background:linear-gradient(90deg,#2c7bb6,#2c7bb6 194px,#96c9e1 198px,#b1dce6 199px,#b4dde5 200px,#acdae8 203px,#a6d5e7 219px,#9fd0e4 249px,#9fd0e4)"></i><i style="background:linear-gradient(90deg,#2c7bb6,#2c7bb6 194px,#93c7df 198px,#b1dce6 199px,#a5d5e7 203px,#9fd0e4 219px,#98cbe2 249px,#98cbe2)"></i><i style="background:linear-gradient(90deg,#2c7bb6,#2c7bb6 194px,#9fd0e4 199px,#a9d7e8 200px,#9bcde3 204px,#97cae1 226px,#92c6df 229px,#92c6df)"></i><i style="background:linear-gradient(90deg,#2c7bb6,#2c7bb6 194px,#95c9e0 199px,#a3d3e6 200px,#92c6df 203px,#92c6df 227px,#8bc2dc 230px,#89c0db)"></i><i style="background:linear-gradient(90deg,#2c7bb6,#2c7bb6 194px,#92c6df 199px,#9acce2 200px,#92c6df 201px,#8ac0dc 206px,#86beda 228px,#81bad8 390px,#81bad8)"></i><i style="background:linear-gradient(90deg,#2c7bb6,#2c7bb6 194px,#7ab5d5 198px,#92c6df 199px,#92c6df 200px,#82bbd9 205px,#7db7d7 262px,#7db7d6 353px,#78b3d5 364px,#78b3d5)"></i><i style="background:linear-gradient(90deg,#2c7bb6,#2c7bb6 194px,#73b0d2 198px,#81bad8 199px,#89c0db 200px,#79b4d5 205px,#76b2d4 349px,#74b0d3 355px,#70add1 357px,#70add1)"></i><i style="background:linear-gradient(90deg,#2c7bb6,#2c7bb6 194px,#6eacd1 198px,#81bad8 200px,#70add1 204px,#70add1 356px,#69a9cf 359px,#69a8ce)"></i><i style="background:linear-gradient(90deg,#2c7bb6,#2c7bb6 194px,#5c9fc9 197px,#70add1 198px,#70add1 199px,#78b3d5 200px,#70add1 201px,#70add1 203px,#69a8cf 207px,#67a7ce 351px,#62a3cc 371px,#62a3cc)"></i><i style="background:linear-gradient(90deg,#2c7bb6,#2c7bb6 194px,#3683ba 195px,#599cc8 197px,#70add1 198px,#72afd2 200px,#64a5cd 205px,#5fa1ca 232px,#5fa1ca 346px,#5b9ec9)"></i><i style="background:linear-gradient(90deg,#2c7bb6,#2c7bb6 195px,#62a3cc 198px,#70add1 199px,#5ea0ca 205px,#569ac7 225px,#5599c6 387px,#5599c6)"></i><i style="background:linear-gradient(90deg,#2c7bb6,#2c7bb6 195px,#599cc8 198px,#64a4cc 199px,#66a6cd 200px,#569ac7 205px,#5297c5 216px,#4e94c4 218px,#4e94c4)"></i><i style="background:linear-gradient(90deg,#2c7bb6,#2c7bb6 195px,#448dc0 197px,#60a2cb 199px,#64a5cd 200px,#4e94c4 204px,#4e94c4 217px,#488fc1 220px,#478fc1 382px,#478fc1)"></i><i style="background:linear-gradient(90deg,#2c7bb6,#2c7bb6 196px,#4e94c4 198px,#5b9dc9 199px,#4e94c4 202px,#4e94c4 204px,#468ec0 207px,#408abe 234px,#408abe)"></i><i style="background:linear-gradient(90deg,#2c7bb6,#2c7bb6 196px,#4b92c3 198px,#5599c6 199px,#4e94c4 200px,#4e94c4 202px,#3f89be 206px,#3a85bb 236px,#3a85bb)"></i><i style="background:linear-gradient(90deg,#2c7bb6,#2c7bb6 196px,#4e94c4 198px,#4e94c4 200px,#3884bb 205px,#3380b9 238px,#3380b9)"></i><i style="background:linear-gradient(90deg,#2c7bb6,#2c7bb6 196px,#3884bb 197px,#4e94c4 198px,#4e94c4 199px,#3f89be 201px,#2c7bb6 205px,#2c7bb6)"></i><i style="background:linear-gradient(90deg,#2c7bb6,#2c7bb6 197px,#3a85bc 198px,#3c87bd 199px,#2c7bb6 203px,#2c7bb6)"></i><i style="background:linear-gradient(90deg,#2c7bb6,#2c7bb6 197px,#317fb8 199px,#2c7bb6 200px,#2c7bb6)"></i><i style="height:8px;background:#2c7bb6"></i></div>
<svg width="995" height="1201" viewBox="0 0 995 1201">
<defs><mask id="m_a" maskUnits="userSpaceOnUse" x="0" y="0" width="995" height="1201"><rect x="0" y="0" width="995" height="1201" fill="#fff"/><rect x="413.3" y="263.8" width="42.0" height="18.0" fill="#000" transform="rotate(-66.5 434.3 272.8)"/></mask><clipPath id="c_a"><rect x="104.8" y="183.1" width="392.7" height="374.9"/></clipPath><mask id="m_b" maskUnits="userSpaceOnUse" x="0" y="0" width="995" height="1201"><rect x="0" y="0" width="995" height="1201" fill="#fff"/><rect x="638.7" y="298.6" width="42.0" height="18.0" fill="#000" transform="rotate(-30.0 659.7 307.6)"/><rect x="672.3" y="443.5" width="44.0" height="18.0" fill="#000" transform="rotate(3.0 694.3 452.5)"/><rect x="889.1" y="413.4" width="37.0" height="18.0" fill="#000" transform="rotate(-1.2 907.6 422.4)"/></mask><clipPath id="c_b"><rect x="583.6" y="182.3" width="389.6" height="375.7"/></clipPath><mask id="m_c" maskUnits="userSpaceOnUse" x="0" y="0" width="995" height="1201"><rect x="0" y="0" width="995" height="1201" fill="#fff"/><rect x="411.5" y="831.5" width="38.0" height="18.0" fill="#000" transform="rotate(-20.0 430.5 840.5)"/></mask><clipPath id="c_c"><rect x="104.8" y="729.8" width="392.7" height="371.7"/></clipPath><mask id="m_d" maskUnits="userSpaceOnUse" x="0" y="0" width="995" height="1201"><rect x="0" y="0" width="995" height="1201" fill="#fff"/><rect x="884.3" y="942.2" width="40.0" height="18.0" fill="#000" transform="rotate(-1.5 904.3 951.2)"/></mask><clipPath id="c_d"><rect x="583.6" y="729.0" width="389.6" height="372.8"/></clipPath></defs>
<g clip-path="url(#c_a)"><g mask="url(#m_a)"><path d="M320.9,182.3 C320.5,189.9 319.4,208.4 318.6,228.0 C317.9,247.6 316.7,283.0 316.2,300.0 C315.8,317.0 316.2,319.2 315.9,330.0 C315.7,340.8 315.0,353.3 314.8,365.0 C314.5,376.7 314.3,390.8 314.2,400.0 C314.2,409.2 314.2,413.7 314.3,420.0 C314.4,426.3 314.6,433.7 315.0,438.0 C315.4,442.3 316.2,443.3 316.7,446.0 C317.2,448.7 317.5,451.6 317.9,454.0 C318.3,456.4 318.5,458.5 319.1,460.5 C319.7,462.5 320.4,464.5 321.5,466.0 C322.6,467.5 323.8,468.5 325.5,469.4 C327.2,470.3 329.1,471.4 332.0,471.4 C334.9,471.4 338.6,470.5 343.2,469.4 C347.8,468.3 354.0,466.2 359.3,464.6 C364.6,463.0 367.5,461.8 375.0,459.7 C382.5,457.6 394.1,454.9 404.3,452.0 C414.6,449.1 425.8,445.3 436.5,442.4 C447.2,439.4 458.4,436.5 468.6,434.3 C478.9,432.1 493.1,429.9 498.0,429.0" fill="none" stroke="#000" stroke-width="2.10" stroke-linejoin="round"/><path d="M322.1,182.3 C321.8,189.9 320.9,208.4 320.1,228.0 C319.3,247.6 318.0,283.0 317.4,300.0 C316.9,317.0 317.1,319.2 316.9,330.0 C316.7,340.8 316.2,353.3 316.0,365.0 C315.8,376.7 315.7,390.8 315.7,400.0 C315.7,409.2 315.7,414.2 315.8,420.0 C315.9,425.8 316.2,431.2 316.5,435.0 C316.8,438.8 317.1,440.2 317.5,443.0 C317.9,445.8 318.4,449.1 319.1,451.5 C319.8,453.9 320.6,455.9 321.5,457.5 C322.4,459.1 323.5,460.4 324.7,461.4 C325.9,462.4 327.0,462.9 328.5,463.3 C330.0,463.7 331.2,464.0 333.6,463.8 C336.1,463.6 338.9,463.6 343.2,462.2 C347.5,460.8 354.0,457.7 359.3,455.7 C364.6,453.7 367.5,452.6 375.0,450.1 C382.5,447.6 394.1,444.2 404.3,440.8 C414.6,437.4 425.8,433.1 436.5,429.5 C447.2,425.9 458.4,422.0 468.6,419.0 C478.9,416.0 493.1,412.6 498.0,411.3" fill="none" stroke="#000" stroke-width="2.10" stroke-linejoin="round"/><path d="M323.3,182.3 C323.0,189.9 322.3,208.4 321.5,228.0 C320.7,247.6 319.2,283.0 318.6,300.0 C318.0,317.0 318.1,319.2 317.9,330.0 C317.7,340.8 317.4,353.3 317.3,365.0 C317.2,376.7 317.1,391.7 317.1,400.0 C317.1,408.3 317.1,410.3 317.3,415.0 C317.5,419.7 317.8,424.0 318.1,428.0 C318.5,432.0 318.8,435.8 319.4,439.0 C320.0,442.2 320.7,445.2 321.5,447.2 C322.3,449.2 323.1,449.9 324.0,450.8 C324.9,451.7 325.6,452.1 327.2,452.6 C328.8,453.2 330.9,454.1 333.6,454.1 C336.3,454.1 338.9,454.0 343.2,452.5 C347.5,451.0 354.0,447.9 359.3,445.3 C364.6,442.8 367.5,440.6 375.0,437.2 C382.5,433.8 394.1,429.2 404.3,424.7 C414.6,420.2 425.8,415.2 436.5,410.2 C447.2,405.2 458.4,399.5 468.6,394.9 C478.9,390.3 493.1,384.8 498.0,382.8" fill="none" stroke="#000" stroke-width="2.10" stroke-linejoin="round"/><path d="M324.6,182.3 C324.3,189.9 323.7,208.4 322.9,228.0 C322.2,247.6 320.5,283.0 319.9,300.0 C319.2,317.0 319.1,319.2 318.9,330.0 C318.6,340.8 318.6,353.3 318.6,365.0 C318.5,376.7 318.5,392.5 318.6,400.0 C318.6,407.5 318.6,406.5 318.8,410.0 C319.0,413.5 319.1,417.7 319.6,421.0 C320.1,424.3 321.0,427.6 321.8,430.0 C322.6,432.4 323.6,434.0 324.5,435.5 C325.4,437.0 326.0,437.9 327.5,438.9 C329.0,439.9 331.0,441.3 333.6,441.3 C336.2,441.3 338.9,440.7 343.2,438.8 C347.5,436.9 354.5,432.9 359.3,430.0 C364.1,427.1 365.4,426.3 372.2,421.5 C379.0,416.7 390.3,408.5 400.0,401.0 C409.7,393.5 421.8,383.3 430.2,376.3 C438.6,369.3 443.6,364.7 450.3,359.2 C457.0,353.7 462.4,349.0 470.4,343.2 C478.3,337.4 493.4,327.4 498.0,324.3" fill="none" stroke="#000" stroke-width="2.10" stroke-linejoin="round"/><path d="M329.8,182.3 C329.6,186.1 328.8,197.4 328.4,205.0 C328.0,212.6 327.7,218.0 327.2,228.0 C326.7,238.0 325.8,253.0 325.2,265.0 C324.6,277.0 323.8,289.2 323.3,300.0 C322.8,310.8 322.3,319.2 322.0,330.0 C321.7,340.8 321.6,355.8 321.6,365.0 C321.6,374.2 321.9,379.2 322.2,385.0 C322.5,390.8 322.7,396.0 323.4,400.0 C324.1,404.0 325.2,406.6 326.2,409.2 C327.2,411.8 328.3,414.1 329.5,415.5 C330.7,416.9 331.6,417.5 333.3,417.7 C335.1,417.9 337.3,417.9 340.0,416.6 C342.7,415.4 346.3,413.3 349.6,410.2 C352.9,407.1 356.7,402.0 360.0,398.2 C363.3,394.4 366.1,391.0 369.2,387.2 C372.2,383.4 375.2,379.5 378.3,375.2 C381.4,370.9 384.4,366.2 387.5,361.5 C390.6,356.8 393.6,351.9 396.7,346.8 C399.8,341.8 402.8,336.9 405.8,331.2 C408.9,325.5 411.8,319.5 415.0,312.9 C418.2,306.3 421.9,298.5 425.1,291.8 C428.3,285.1 431.2,279.0 434.3,272.6 C437.4,266.2 436.6,268.6 443.4,253.6 C450.2,238.5 470.0,194.2 475.3,182.3" fill="none" stroke="#000" stroke-width="2.10" stroke-linejoin="round"/><path d="M347.1,221.0 C349.1,220.8 351.7,225.8 353.1,231.3 C354.5,236.8 355.3,245.9 355.6,253.8 C355.9,261.7 355.7,269.4 355.0,278.8 C354.3,288.2 353.0,301.1 351.3,310.0 C349.6,318.9 347.4,325.6 345.0,332.5 C342.6,339.4 338.9,349.8 336.9,351.3 C334.9,352.8 334.0,347.1 333.1,341.3 C332.2,335.5 331.6,324.6 331.5,316.3 C331.4,308.0 331.7,300.7 332.5,291.3 C333.3,281.9 334.8,269.8 336.3,260.0 C337.8,250.2 339.5,239.0 341.3,232.5 C343.1,226.0 345.1,221.2 347.1,221.0 Z" fill="none" stroke="#000" stroke-width="2.10" stroke-linejoin="round"/></g></g>
<text x="434.3" y="281.5" text-anchor="middle" font-size="25.0" transform="rotate(-66.5 434.3 272.8)">0.5</text>
<g clip-path="url(#c_b)"><g mask="url(#m_b)"><path d="M581.5,331.6 C587.0,330.2 604.1,325.7 614.2,323.2 C624.3,320.7 634.1,319.2 641.9,316.6 C649.7,314.0 654.7,310.7 661.0,307.5 C667.3,304.3 674.5,301.1 679.7,297.6 C684.9,294.1 687.6,290.5 692.0,286.5 C696.4,282.5 701.2,279.0 706.2,273.7 C711.2,268.4 717.3,261.1 721.8,254.9 C726.3,248.7 729.8,242.4 733.3,236.2 C736.8,230.0 739.8,223.8 742.6,217.5 C745.4,211.2 748.0,204.6 749.9,198.7 C751.8,192.8 753.6,185.0 754.3,182.3" fill="none" stroke="#000" stroke-width="2.10" stroke-linejoin="round"/><path d="M774.5,182.3 C774.1,186.1 772.8,197.0 772.0,205.0 C771.2,213.0 770.7,221.1 770.0,230.3 C769.3,239.5 768.5,250.8 767.7,260.0 C767.0,269.2 766.2,277.3 765.5,285.6 C764.8,293.9 763.9,302.6 763.5,310.0 C763.1,317.4 763.0,322.5 762.9,330.0 C762.8,337.5 762.3,346.7 762.6,355.1 C762.9,363.5 763.5,373.1 764.6,380.3 C765.7,387.5 767.3,393.0 769.1,398.3 C770.9,403.6 773.0,408.4 775.2,412.4 C777.4,416.4 779.4,420.2 782.2,422.5 C785.1,424.8 787.6,425.6 792.3,426.0 C797.0,426.4 802.4,425.5 810.4,425.0 C818.4,424.5 827.0,423.6 840.0,423.0 C853.0,422.4 877.0,421.7 888.3,421.4 C899.6,421.1 901.7,421.1 908.0,421.0 C914.3,420.9 914.8,420.7 926.0,420.5 C937.2,420.3 966.8,419.8 975.0,419.7" fill="none" stroke="#000" stroke-width="2.10" stroke-linejoin="round"/><path d="M581.5,449.2 C587.9,449.4 605.0,449.8 620.0,450.2 C635.0,450.6 659.5,451.4 671.8,451.9 C684.1,452.4 686.5,452.8 694.0,453.3 C701.5,453.9 709.4,454.0 717.1,455.2 C724.8,456.4 732.9,458.4 740.0,460.5 C747.1,462.6 755.1,465.6 760.0,467.5 C764.9,469.4 766.3,470.7 769.1,471.8 C771.9,472.9 774.5,473.7 777.0,474.2 C779.5,474.7 780.5,474.8 784.3,474.7 C788.1,474.6 785.6,474.0 800.0,473.3 C814.4,472.6 841.4,471.3 870.6,470.7 C899.8,470.1 957.6,469.8 975.0,469.6" fill="none" stroke="#000" stroke-width="2.10" stroke-linejoin="round"/><path d="M581.5,490.9 C601.6,491.1 675.6,491.4 702.0,492.1 C728.4,492.9 730.3,494.4 740.0,495.4 C749.7,496.4 753.5,497.4 760.0,498.3 C766.5,499.2 772.1,500.4 778.8,500.5 C785.5,500.6 786.5,499.3 800.0,498.6 C813.5,497.9 830.8,497.0 860.0,496.5 C889.2,496.0 955.8,495.8 975.0,495.6" fill="none" stroke="#000" stroke-width="2.10" stroke-linejoin="round"/><path d="M581.5,511.4 C601.6,511.5 675.6,511.6 702.0,512.0 C728.4,512.4 730.3,513.0 740.0,513.5 C749.7,514.0 753.8,514.8 760.0,515.3 C766.2,515.8 770.8,516.6 777.5,516.6 C784.2,516.6 786.2,515.5 800.0,515.0 C813.8,514.5 830.8,513.7 860.0,513.4 C889.2,513.1 955.8,513.2 975.0,513.2" fill="none" stroke="#000" stroke-width="2.10" stroke-linejoin="round"/><path d="M581.5,524.9 C601.6,525.0 675.6,524.9 702.0,525.2 C728.4,525.5 730.3,526.3 740.0,526.8 C749.7,527.2 753.7,527.6 760.0,527.9 C766.3,528.2 771.3,528.7 778.0,528.6 C784.7,528.5 786.3,527.9 800.0,527.3 C813.7,526.7 830.8,525.5 860.0,525.2 C889.2,525.0 955.8,525.7 975.0,525.8" fill="none" stroke="#000" stroke-width="2.10" stroke-linejoin="round"/><path d="M581.5,534.3 C601.6,534.3 675.6,534.3 702.0,534.5 C728.4,534.7 727.3,535.0 740.0,535.4 C752.7,535.8 768.0,536.7 778.0,536.7 C788.0,536.7 786.3,536.1 800.0,535.6 C813.7,535.1 830.8,534.0 860.0,533.8 C889.2,533.6 955.8,534.1 975.0,534.2" fill="none" stroke="#000" stroke-width="2.10" stroke-linejoin="round"/><path d="M581.5,540.9 C601.6,541.0 675.6,541.0 702.0,541.2 C728.4,541.4 727.3,541.7 740.0,542.0 C752.7,542.3 768.0,543.1 778.0,543.1 C788.0,543.1 786.3,542.5 800.0,542.0 C813.7,541.5 830.8,540.7 860.0,540.3 C889.2,539.9 955.8,539.8 975.0,539.7" fill="none" stroke="#000" stroke-width="2.10" stroke-linejoin="round"/><path d="M581.5,545.7 C601.6,545.8 675.6,545.9 702.0,546.1 C728.4,546.3 727.3,546.6 740.0,546.9 C752.7,547.2 768.0,548.0 778.0,548.0 C788.0,548.0 786.3,547.4 800.0,547.0 C813.7,546.6 830.8,546.0 860.0,545.6 C889.2,545.2 955.8,544.9 975.0,544.8" fill="none" stroke="#000" stroke-width="2.10" stroke-linejoin="round"/></g></g>
<text x="659.7" y="316.3" text-anchor="middle" font-size="25.0" transform="rotate(-30.0 659.7 307.6)">0.7</text>
<text x="694.3" y="461.2" text-anchor="middle" font-size="25.0" transform="rotate(3.0 694.3 452.5)">0.7</text>
<text x="907.6" y="431.1" text-anchor="middle" font-size="25.0" transform="rotate(-1.2 907.6 422.4)">0.8</text>
<g clip-path="url(#c_c)"><g mask="url(#m_c)"><path d="M298.4,729.0 C297.0,757.5 298.6,854.8 298.6,900.0 C298.7,945.2 298.7,972.5 298.7,1000.0 C298.7,1027.5 298.6,1053.2 298.8,1065.0 C299.0,1076.8 299.2,1069.3 299.6,1070.5 C300.1,1071.7 300.9,1071.9 301.5,1072.0 C302.1,1072.1 303.1,1073.0 303.5,1071.0 C303.9,1069.0 303.7,1071.8 303.7,1060.0 C303.7,1048.2 303.5,1023.3 303.7,1000.0 C303.9,976.7 304.6,945.0 305.0,920.0 C305.4,895.0 305.7,881.8 306.0,850.0 C306.3,818.2 308.1,749.2 306.8,729.0 C305.5,708.8 299.8,700.5 298.4,729.0 Z" fill="#000" stroke="#000" stroke-width="0.6"/><path d="M303.9,999.6 C304.3,999.7 305.7,1000.1 306.5,1000.4 C307.3,1000.7 308.3,1001.5 308.9,1001.2 C309.5,1000.9 309.5,999.9 309.9,998.5 C310.3,997.1 310.7,995.0 311.2,993.0 C311.7,991.0 312.2,989.1 313.0,986.5 C313.8,983.9 315.1,980.6 316.0,977.4 C316.9,974.1 317.7,970.4 318.6,967.0 C319.5,963.6 320.5,960.2 321.5,956.8 C322.5,953.4 323.7,949.9 324.8,946.5 C325.9,943.1 327.0,939.8 328.4,936.2 C329.8,932.6 331.4,928.7 333.0,925.0 C334.6,921.3 336.2,917.7 338.0,914.2 C339.8,910.7 341.9,907.2 344.0,904.0 C346.1,900.8 348.0,898.1 350.3,894.9 C352.6,891.6 355.0,887.8 358.0,884.5 C361.0,881.2 364.9,878.0 368.1,875.3 C371.3,872.6 374.0,870.5 377.0,868.3 C380.0,866.1 382.7,864.3 386.2,862.0 C389.7,859.7 393.9,857.0 398.0,854.6 C402.1,852.2 405.6,849.8 411.0,847.4 C416.4,845.0 424.5,842.8 430.5,840.5 C436.5,838.2 440.4,836.3 447.0,833.9 C453.6,831.5 461.5,828.5 470.0,826.0 C478.5,823.5 493.3,820.2 498.0,819.0" fill="none" stroke="#000" stroke-width="2.10" stroke-linejoin="round"/><path d="M303.7,1040.9 C303.9,1040.8 304.1,1040.6 304.6,1040.0 C305.1,1039.4 305.8,1038.4 306.5,1037.5 C307.2,1036.6 307.9,1035.8 308.7,1034.4 C309.5,1033.0 310.6,1030.7 311.5,1028.9 C312.4,1027.1 312.8,1025.5 313.8,1023.4 C314.8,1021.3 316.0,1018.9 317.4,1016.6 C318.8,1014.3 320.2,1011.9 322.0,1009.7 C323.8,1007.5 325.9,1005.8 328.4,1003.3 C330.8,1000.8 333.1,998.0 336.7,995.0 C340.3,992.0 344.4,988.5 350.0,985.2 C355.6,981.9 361.6,978.5 370.0,975.0 C378.4,971.5 387.3,967.5 400.6,964.2 C413.9,961.0 433.8,957.9 450.0,955.5 C466.2,953.1 490.0,950.6 498.0,949.6" fill="none" stroke="#000" stroke-width="2.10" stroke-linejoin="round"/><path d="M303.7,1053.0 C304.0,1052.8 304.8,1052.1 305.5,1051.5 C306.2,1050.9 306.8,1050.6 307.8,1049.6 C308.8,1048.6 309.8,1047.3 311.5,1045.5 C313.2,1043.7 315.6,1041.4 318.3,1039.0 C321.0,1036.6 323.9,1034.0 327.5,1031.2 C331.1,1028.4 336.2,1024.4 340.0,1022.1 C343.8,1019.8 345.0,1019.5 350.0,1017.6 C355.0,1015.8 361.6,1013.1 370.0,1011.0 C378.4,1008.9 387.3,1007.2 400.6,1005.0 C413.9,1002.8 433.8,1000.1 450.0,998.0 C466.2,995.9 490.0,993.2 498.0,992.3" fill="none" stroke="#000" stroke-width="2.10" stroke-linejoin="round"/><path d="M303.7,1060.3 C304.4,1059.7 306.4,1057.7 308.0,1056.5 C309.6,1055.3 310.9,1054.2 313.0,1053.0 C315.1,1051.8 317.4,1050.8 320.6,1049.0 C323.8,1047.2 327.5,1044.8 332.1,1042.5 C336.7,1040.2 341.6,1037.5 348.3,1035.3 C355.0,1033.1 362.3,1030.9 372.4,1029.2 C382.4,1027.5 395.7,1026.4 408.6,1025.0 C421.5,1023.6 435.1,1022.4 450.0,1021.0 C464.9,1019.6 490.0,1017.3 498.0,1016.6" fill="none" stroke="#000" stroke-width="2.10" stroke-linejoin="round"/><path d="M303.7,1064.0 C304.8,1063.2 306.6,1061.1 310.0,1059.0 C313.4,1056.9 317.7,1053.8 324.1,1051.5 C330.5,1049.2 340.2,1047.0 348.3,1045.5 C356.4,1044.0 360.4,1043.4 372.4,1042.5 C384.3,1041.6 405.4,1040.9 420.0,1040.1 C434.6,1039.3 447.0,1038.3 460.0,1037.5 C473.0,1036.7 491.7,1035.7 498.0,1035.3" fill="none" stroke="#000" stroke-width="2.10" stroke-linejoin="round"/><path d="M303.7,1066.5 C304.8,1065.9 306.6,1064.5 310.0,1063.0 C313.4,1061.5 317.7,1059.1 324.1,1057.6 C330.5,1056.1 340.2,1054.9 348.3,1054.0 C356.4,1053.1 360.4,1052.6 372.4,1052.1 C384.3,1051.6 405.4,1051.3 420.0,1050.9 C434.6,1050.5 447.0,1050.2 460.0,1049.8 C473.0,1049.4 491.7,1049.0 498.0,1048.8" fill="none" stroke="#000" stroke-width="2.10" stroke-linejoin="round"/><path d="M303.7,1068.4 C304.8,1068.0 306.6,1067.0 310.0,1066.0 C313.4,1065.0 317.7,1063.4 324.1,1062.4 C330.5,1061.4 340.2,1060.7 348.3,1060.0 C356.4,1059.3 360.4,1058.9 372.4,1058.5 C384.3,1058.1 399.1,1057.8 420.0,1057.6 C440.9,1057.3 485.0,1057.1 498.0,1057.0" fill="none" stroke="#000" stroke-width="2.10" stroke-linejoin="round"/><path d="M302.5,1071.3 C303.1,1071.1 304.1,1070.8 306.0,1070.3 C307.9,1069.8 311.0,1069.1 314.0,1068.5 C317.0,1067.9 318.4,1067.2 324.1,1066.6 C329.8,1066.0 340.2,1065.3 348.3,1064.8 C356.4,1064.3 360.4,1063.9 372.4,1063.6 C384.3,1063.3 399.1,1063.2 420.0,1063.0 C440.9,1062.8 485.0,1062.6 498.0,1062.5" fill="none" stroke="#000" stroke-width="2.10" stroke-linejoin="round"/></g></g>
<text x="430.5" y="849.2" text-anchor="middle" font-size="25.0" transform="rotate(-20.0 430.5 840.5)">0.8</text>
<g clip-path="url(#c_d)"><g mask="url(#m_d)"><path d="M775.9,729.0 C774.5,749.2 775.7,813.2 775.6,850.0 C775.5,886.8 775.4,916.7 775.4,950.0 C775.4,983.3 775.3,1028.3 775.4,1050.0 C775.5,1071.7 775.4,1073.7 775.8,1080.0 C776.1,1086.3 776.9,1085.9 777.5,1088.0 C778.1,1090.1 779.1,1092.5 779.6,1092.5 C780.1,1092.5 780.4,1095.1 780.6,1088.0 C780.8,1080.9 780.7,1064.7 780.8,1050.0 C780.9,1035.3 781.1,1016.7 781.2,1000.0 C781.4,983.3 781.5,975.0 781.7,950.0 C781.9,925.0 782.3,886.8 782.6,850.0 C782.9,813.2 784.8,749.2 783.7,729.0 C782.6,708.8 777.2,708.8 775.9,729.0 Z" fill="#000" stroke="#000" stroke-width="0.6"/><path d="M787.4,729.0 C787.2,740.8 786.9,771.5 786.5,800.0 C786.1,828.5 785.4,874.6 785.2,900.0 C785.0,925.4 785.0,942.7 785.4,952.5 C785.8,962.3 786.7,957.1 787.5,959.0 C788.3,960.9 788.8,962.9 790.0,963.8 C791.2,964.7 790.8,964.9 795.0,964.2 C799.2,963.5 805.8,961.1 815.0,959.6 C824.2,958.1 838.5,956.7 850.0,955.5 C861.5,954.3 875.0,953.1 883.9,952.4 C892.8,951.7 896.9,951.8 903.5,951.5 C910.1,951.2 912.2,950.9 923.7,950.4 C935.2,949.9 963.9,949.0 972.4,948.7 C980.9,948.4 974.6,948.6 975.0,948.6" fill="none" stroke="#000" stroke-width="2.10" stroke-linejoin="round"/><path d="M780.8,1024.6 C781.2,1024.9 782.2,1025.9 783.0,1026.3 C783.8,1026.7 783.4,1027.3 785.4,1027.1 C787.4,1026.9 791.5,1025.6 795.0,1025.0 C798.5,1024.4 798.4,1023.9 806.7,1023.3 C815.0,1022.7 829.5,1021.7 845.0,1021.3 C860.5,1020.9 878.3,1021.0 900.0,1020.8 C921.7,1020.6 962.5,1020.4 975.0,1020.3" fill="none" stroke="#000" stroke-width="2.10" stroke-linejoin="round"/><path d="M780.8,1052.5 C781.2,1052.0 782.5,1050.3 783.5,1049.5 C784.5,1048.7 784.8,1048.1 786.7,1047.5 C788.6,1046.9 791.7,1046.4 795.0,1046.0 C798.3,1045.6 798.4,1045.4 806.7,1045.0 C815.0,1044.6 829.5,1044.0 845.0,1043.8 C860.5,1043.5 878.3,1043.6 900.0,1043.5 C921.7,1043.4 962.5,1043.3 975.0,1043.3" fill="none" stroke="#000" stroke-width="2.10" stroke-linejoin="round"/><path d="M780.8,1062.5 C781.2,1062.2 782.5,1061.0 783.5,1060.5 C784.5,1060.0 782.8,1059.7 786.7,1059.2 C790.6,1058.7 797.0,1057.9 806.7,1057.5 C816.4,1057.1 817.0,1056.9 845.0,1056.7 C873.0,1056.5 953.3,1056.5 975.0,1056.4" fill="none" stroke="#000" stroke-width="2.10" stroke-linejoin="round"/><path d="M780.8,1071.7 C781.2,1071.3 782.5,1070.2 783.5,1069.6 C784.5,1069.0 782.8,1068.8 786.7,1068.3 C790.6,1067.8 797.0,1067.1 806.7,1066.7 C816.4,1066.3 817.0,1066.0 845.0,1065.8 C873.0,1065.6 953.3,1065.5 975.0,1065.5" fill="none" stroke="#000" stroke-width="2.10" stroke-linejoin="round"/><path d="M780.8,1076.7 C781.8,1076.3 776.0,1074.9 786.7,1074.2 C797.4,1073.5 813.6,1072.8 845.0,1072.5 C876.4,1072.2 953.3,1072.2 975.0,1072.1" fill="none" stroke="#000" stroke-width="2.10" stroke-linejoin="round"/><path d="M780.8,1080.8 C781.8,1080.5 776.0,1079.3 786.7,1078.8 C797.4,1078.2 813.6,1077.7 845.0,1077.5 C876.4,1077.3 953.3,1077.5 975.0,1077.5" fill="none" stroke="#000" stroke-width="2.10" stroke-linejoin="round"/><path d="M780.4,1085.0 C781.5,1084.7 775.9,1083.3 786.7,1082.9 C797.5,1082.5 813.6,1082.7 845.0,1082.5 C876.4,1082.3 953.3,1081.9 975.0,1081.8" fill="none" stroke="#000" stroke-width="2.10" stroke-linejoin="round"/><path d="M779.6,1091.0 C780.2,1090.7 781.8,1089.8 783.0,1089.3 C784.2,1088.8 782.8,1088.3 786.7,1087.9 C790.7,1087.5 797.0,1087.0 806.7,1086.7 C816.4,1086.4 817.0,1086.4 845.0,1086.3 C873.0,1086.2 953.3,1086.2 975.0,1086.2" fill="none" stroke="#000" stroke-width="2.10" stroke-linejoin="round"/></g></g>
<text x="904.3" y="959.9" text-anchor="middle" font-size="25.0" transform="rotate(-1.5 904.3 951.2)">0.9</text>
<g stroke="#000" stroke-width="1.7" fill="none"><line x1="153.2" y1="560.0" x2="153.2" y2="552.5"/><line x1="202.5" y1="560.0" x2="202.5" y2="545.0"/><line x1="251.8" y1="560.0" x2="251.8" y2="552.5"/><line x1="301.0" y1="560.0" x2="301.0" y2="545.0"/><line x1="350.2" y1="560.0" x2="350.2" y2="552.5"/><line x1="399.5" y1="560.0" x2="399.5" y2="545.0"/><line x1="448.8" y1="560.0" x2="448.8" y2="552.5"/><line x1="104.0" y1="518.0" x2="111.5" y2="518.0"/><line x1="104.0" y1="476.1" x2="119.0" y2="476.1"/><line x1="104.0" y1="434.1" x2="111.5" y2="434.1"/><line x1="104.0" y1="392.1" x2="119.0" y2="392.1"/><line x1="104.0" y1="350.2" x2="111.5" y2="350.2"/><line x1="104.0" y1="308.2" x2="119.0" y2="308.2"/><line x1="104.0" y1="266.2" x2="111.5" y2="266.2"/><line x1="104.0" y1="224.3" x2="119.0" y2="224.3"/><rect x="104.0" y="182.3" width="394.0" height="377.7" fill="none" stroke-width="1.9"/></g>
<text transform="translate(102.2 598.9) scale(1 1.045)" text-anchor="middle">−40</text><text transform="translate(200.5 598.9) scale(1 1.045)" text-anchor="middle">−20</text><text transform="translate(300.7 598.9) scale(1 1.045)" text-anchor="middle">0</text><text transform="translate(402.1 598.9) scale(1 1.045)" text-anchor="middle">20</text><text transform="translate(500.6 598.9) scale(1 1.045)" text-anchor="middle">40</text><text transform="translate(89.2 569.4) scale(1 1.045)" text-anchor="end">0</text><text transform="translate(89.2 487.8) scale(1 1.045)" text-anchor="end">2</text><text transform="translate(89.2 403.9) scale(1 1.045)" text-anchor="end">4</text><text transform="translate(89.2 320.0) scale(1 1.045)" text-anchor="end">6</text><text transform="translate(89.2 236.1) scale(1 1.045)" text-anchor="end">8</text><text y="649.0"><tspan x="255.2" font-style="italic">a</tspan><tspan x="276.4">(</tspan><tspan x="286.0">p</tspan><tspan x="305.0">s</tspan><tspan x="322.6" y="637.1" font-size="23.5">2</tspan><tspan x="336.6" y="649.0">)</tspan></text>
<g stroke="#000" stroke-width="1.7" fill="none"><line x1="630.2" y1="560.0" x2="630.2" y2="552.5"/><line x1="679.5" y1="560.0" x2="679.5" y2="545.0"/><line x1="728.7" y1="560.0" x2="728.7" y2="552.5"/><line x1="777.9" y1="560.0" x2="777.9" y2="545.0"/><line x1="827.1" y1="560.0" x2="827.1" y2="552.5"/><line x1="876.3" y1="560.0" x2="876.3" y2="545.0"/><line x1="925.6" y1="560.0" x2="925.6" y2="552.5"/><line x1="581.0" y1="518.0" x2="588.5" y2="518.0"/><line x1="581.0" y1="476.1" x2="596.0" y2="476.1"/><line x1="581.0" y1="434.1" x2="588.5" y2="434.1"/><line x1="581.0" y1="392.1" x2="596.0" y2="392.1"/><line x1="581.0" y1="350.2" x2="588.5" y2="350.2"/><line x1="581.0" y1="308.2" x2="596.0" y2="308.2"/><line x1="581.0" y1="266.2" x2="588.5" y2="266.2"/><line x1="581.0" y1="224.3" x2="596.0" y2="224.3"/><rect x="581.0" y="182.3" width="393.8" height="377.7" fill="none" stroke-width="1.9"/></g>
<text transform="translate(578.3 598.7) scale(1 1.045)" text-anchor="middle">−40</text><text transform="translate(677.6 598.7) scale(1 1.045)" text-anchor="middle">−20</text><text transform="translate(777.5 598.7) scale(1 1.045)" text-anchor="middle">0</text><text transform="translate(878.1 598.7) scale(1 1.045)" text-anchor="middle">20</text><text transform="translate(977.2 598.7) scale(1 1.045)" text-anchor="middle">40</text><text y="649.0"><tspan x="732.1" font-style="italic">a</tspan><tspan x="753.3">(</tspan><tspan x="762.9">p</tspan><tspan x="781.9">s</tspan><tspan x="799.5" y="637.1" font-size="23.5">2</tspan><tspan x="813.5" y="649.0">)</tspan></text>
<g stroke="#000" stroke-width="1.7" fill="none"><line x1="153.2" y1="1106.3" x2="153.2" y2="1098.8"/><line x1="202.5" y1="1106.3" x2="202.5" y2="1091.3"/><line x1="251.8" y1="1106.3" x2="251.8" y2="1098.8"/><line x1="301.0" y1="1106.3" x2="301.0" y2="1091.3"/><line x1="350.2" y1="1106.3" x2="350.2" y2="1098.8"/><line x1="399.5" y1="1106.3" x2="399.5" y2="1091.3"/><line x1="448.8" y1="1106.3" x2="448.8" y2="1098.8"/><line x1="104.0" y1="1064.4" x2="111.5" y2="1064.4"/><line x1="104.0" y1="1022.5" x2="119.0" y2="1022.5"/><line x1="104.0" y1="980.5" x2="111.5" y2="980.5"/><line x1="104.0" y1="938.6" x2="119.0" y2="938.6"/><line x1="104.0" y1="896.7" x2="111.5" y2="896.7"/><line x1="104.0" y1="854.8" x2="119.0" y2="854.8"/><line x1="104.0" y1="812.8" x2="111.5" y2="812.8"/><line x1="104.0" y1="770.9" x2="119.0" y2="770.9"/><rect x="104.0" y="729.0" width="394.0" height="377.3" fill="none" stroke-width="1.9"/></g>
<text transform="translate(102.4 1149.3) scale(1 1.045)" text-anchor="middle">−40</text><text transform="translate(201.0 1149.3) scale(1 1.045)" text-anchor="middle">−20</text><text transform="translate(299.7 1149.3) scale(1 1.045)" text-anchor="middle">0</text><text transform="translate(396.9 1149.3) scale(1 1.045)" text-anchor="middle">20</text><text transform="translate(495.0 1149.3) scale(1 1.045)" text-anchor="middle">40</text><text transform="translate(89.2 1119.8) scale(1 1.045)" text-anchor="end">0</text><text transform="translate(89.2 1036.0) scale(1 1.045)" text-anchor="end">2</text><text transform="translate(89.2 952.1) scale(1 1.045)" text-anchor="end">4</text><text transform="translate(89.2 868.3) scale(1 1.045)" text-anchor="end">6</text><text transform="translate(89.2 784.4) scale(1 1.045)" text-anchor="end">8</text><text y="1193.7"><tspan x="255.2" font-style="italic">a</tspan><tspan x="276.4">(</tspan><tspan x="286.0">p</tspan><tspan x="305.0">s</tspan><tspan x="322.6" y="1181.8" font-size="23.5">2</tspan><tspan x="336.6" y="1193.7">)</tspan></text>
<g stroke="#000" stroke-width="1.7" fill="none"><line x1="630.2" y1="1106.3" x2="630.2" y2="1098.8"/><line x1="679.5" y1="1106.3" x2="679.5" y2="1091.3"/><line x1="728.7" y1="1106.3" x2="728.7" y2="1098.8"/><line x1="777.9" y1="1106.3" x2="777.9" y2="1091.3"/><line x1="827.1" y1="1106.3" x2="827.1" y2="1098.8"/><line x1="876.3" y1="1106.3" x2="876.3" y2="1091.3"/><line x1="925.6" y1="1106.3" x2="925.6" y2="1098.8"/><line x1="581.0" y1="1064.4" x2="588.5" y2="1064.4"/><line x1="581.0" y1="1022.5" x2="596.0" y2="1022.5"/><line x1="581.0" y1="980.5" x2="588.5" y2="980.5"/><line x1="581.0" y1="938.6" x2="596.0" y2="938.6"/><line x1="581.0" y1="896.7" x2="588.5" y2="896.7"/><line x1="581.0" y1="854.8" x2="596.0" y2="854.8"/><line x1="581.0" y1="812.8" x2="588.5" y2="812.8"/><line x1="581.0" y1="770.9" x2="596.0" y2="770.9"/><rect x="581.0" y="729.0" width="393.8" height="377.3" fill="none" stroke-width="1.9"/></g>
<text transform="translate(578.3 1145.1) scale(1 1.045)" text-anchor="middle">−40</text><text transform="translate(677.6 1145.1) scale(1 1.045)" text-anchor="middle">−20</text><text transform="translate(780.3 1145.1) scale(1 1.045)" text-anchor="middle">0</text><text transform="translate(877.3 1145.1) scale(1 1.045)" text-anchor="middle">20</text><text transform="translate(975.7 1145.1) scale(1 1.045)" text-anchor="middle">40</text><text y="1193.9"><tspan x="732.1" font-style="italic">a</tspan><tspan x="753.3">(</tspan><tspan x="762.9">p</tspan><tspan x="781.9">s</tspan><tspan x="799.5" y="1182.0" font-size="23.5">2</tspan><tspan x="813.5" y="1193.9">)</tspan></text>
<text x="7.1" y="169.9" font-weight="bold" font-size="43" textLength="22.2" lengthAdjust="spacingAndGlyphs">a</text>
<text x="550.3" y="176.3" font-weight="bold" font-size="43">b</text>
<text x="12.7" y="728.3" font-weight="bold" font-size="43">c</text>
<text x="537.3" y="728.0" font-weight="bold" font-size="43">d</text>
<g transform="rotate(-90)"><text x="-406.2" y="25.1" font-family="Liberation Serif" font-style="italic" font-size="35.5">Θ</text><text x="-381.0" y="32.7" font-size="26">0</text><text x="-363.4" y="25.2" font-size="34">/</text><text x="-352.2" y="25.2" font-family="Liberation Serif" font-size="35">π</text></g>
<g transform="rotate(-90)"><text x="-952.9" y="35.4" font-family="Liberation Serif" font-style="italic" font-size="35.5">Θ</text><text x="-927.6" y="42.7" font-size="26">0</text><text x="-912.5" y="35.5" font-size="34">/</text><text x="-901.3" y="35.5" font-family="Liberation Serif" font-size="35">π</text></g>
<defs><linearGradient id="cbg" x1="0" x2="1" y1="0" y2="0"><stop offset="0.0000" stop-color="#2c7bb6"/><stop offset="0.0200" stop-color="#3380b9"/><stop offset="0.0400" stop-color="#3a85bb"/><stop offset="0.0600" stop-color="#408abe"/><stop offset="0.0800" stop-color="#478fc1"/><stop offset="0.1000" stop-color="#4e94c4"/><stop offset="0.1200" stop-color="#5599c6"/><stop offset="0.1400" stop-color="#5b9ec9"/><stop offset="0.1600" stop-color="#62a3cc"/><stop offset="0.1800" stop-color="#69a8ce"/><stop offset="0.2000" stop-color="#70add1"/><stop offset="0.2200" stop-color="#77b2d4"/><stop offset="0.2400" stop-color="#7db7d7"/><stop offset="0.2600" stop-color="#84bcd9"/><stop offset="0.2800" stop-color="#8bc1dc"/><stop offset="0.3000" stop-color="#92c6df"/><stop offset="0.3200" stop-color="#98cbe2"/><stop offset="0.3400" stop-color="#9fd0e4"/><stop offset="0.3600" stop-color="#a6d5e7"/><stop offset="0.3800" stop-color="#acdae8"/><stop offset="0.4000" stop-color="#b1dce6"/><stop offset="0.4200" stop-color="#b5dee4"/><stop offset="0.4400" stop-color="#bae0e2"/><stop offset="0.4600" stop-color="#bee2df"/><stop offset="0.4800" stop-color="#c3e4dd"/><stop offset="0.5000" stop-color="#c7e6db"/><stop offset="0.5200" stop-color="#cbe8d9"/><stop offset="0.5400" stop-color="#d0ead7"/><stop offset="0.5600" stop-color="#d4ecd4"/><stop offset="0.5800" stop-color="#d9eed2"/><stop offset="0.6000" stop-color="#ddf0d0"/><stop offset="0.6200" stop-color="#e2f2ce"/><stop offset="0.6400" stop-color="#e6f4cb"/><stop offset="0.6600" stop-color="#ebf6c9"/><stop offset="0.6800" stop-color="#eff8c7"/><stop offset="0.7000" stop-color="#f4fac5"/><stop offset="0.7200" stop-color="#f8fcc2"/><stop offset="0.7400" stop-color="#fdfec0"/><stop offset="0.7600" stop-color="#fff9b7"/><stop offset="0.7800" stop-color="#ffeca8"/><stop offset="0.8000" stop-color="#fedf99"/><stop offset="0.8200" stop-color="#fed28a"/><stop offset="0.8400" stop-color="#fec57b"/><stop offset="0.8600" stop-color="#fdb86c"/><stop offset="0.8800" stop-color="#fba85e"/><stop offset="0.9000" stop-color="#f59053"/><stop offset="0.9200" stop-color="#ef7848"/><stop offset="0.9400" stop-color="#e9613d"/><stop offset="0.9600" stop-color="#e34932"/><stop offset="0.9800" stop-color="#dd3127"/><stop offset="1.0000" stop-color="#d7191c"/></linearGradient></defs>
<rect x="249.5" y="44.0" width="518.5" height="29.5" fill="url(#cbg)" stroke="#000" stroke-width="2"/>
<line x1="353.2" y1="73.5" x2="353.2" y2="58.5" stroke="#000" stroke-width="1.8"/>
<line x1="456.9" y1="73.5" x2="456.9" y2="58.5" stroke="#000" stroke-width="1.8"/>
<line x1="560.6" y1="73.5" x2="560.6" y2="58.5" stroke="#000" stroke-width="1.8"/>
<line x1="664.3" y1="73.5" x2="664.3" y2="58.5" stroke="#000" stroke-width="1.8"/>
<path d="M771.2 111.8V88.8H774V111.8Z" fill="#000"/><path d="M772.8 89.3C771.7 92.4 769.5 93.9 766.0 93.9" stroke="#000" stroke-width="2.7" fill="none"/>
<text transform="translate(253.3 111.9) scale(1 1.045)" text-anchor="middle">0</text>
<text transform="translate(357.0 111.9) scale(1 1.045)" text-anchor="middle">0.2</text>
<text transform="translate(460.7 111.9) scale(1 1.045)" text-anchor="middle">0.4</text>
<text transform="translate(564.4 111.9) scale(1 1.045)" text-anchor="middle">0.6</text>
<text transform="translate(668.1 111.9) scale(1 1.045)" text-anchor="middle">0.8</text>
<text x="481.6" y="24.6" font-style="italic" font-size="28">η</text><path d="M498.7 25.3L505.9 1.3" stroke="#000" stroke-width="2.3" fill="none"/><text x="507.7" y="24.6" font-style="italic" font-size="28">η</text><text x="522.3" y="33.0" font-size="19.5">C</text>
</svg>
</body></html>
